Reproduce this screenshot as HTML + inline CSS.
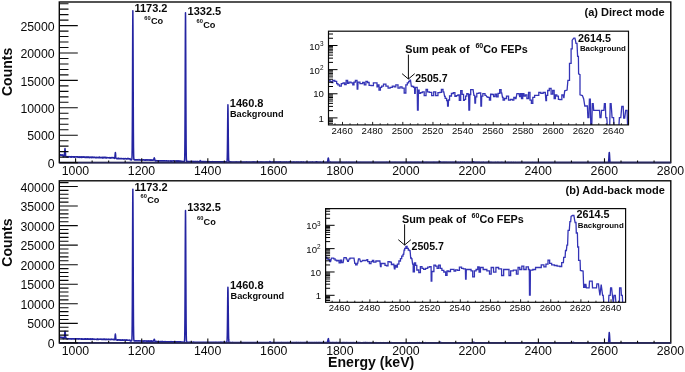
<!DOCTYPE html>
<html><head><meta charset="utf-8"><style>
html,body{margin:0;padding:0;background:#fff;}
body{width:685px;height:372px;overflow:hidden;}
svg{display:block;filter:blur(0.3px);}
text{font-family:"Liberation Sans", sans-serif;fill:#0a0a0a;}
</style></head><body>
<svg width="685" height="372" viewBox="0 0 685 372">
<rect width="685" height="372" fill="#fff"/>
<clipPath id="mclip0"><rect x="59.30" y="2.00" width="611.50" height="161.20"/></clipPath>
<path d="M59.34,154.75 L59.47,154.79 L59.60,154.92 L59.73,154.80 L59.87,154.57 L60.00,154.72 L60.13,154.62 L60.26,154.79 L60.39,154.78 L60.53,154.83 L60.66,155.19 L60.79,154.75 L60.92,154.83 L61.06,154.85 L61.19,155.27 L61.32,155.29 L61.45,155.16 L61.58,155.10 L61.72,154.97 L61.85,155.05 L61.98,154.97 L62.11,155.20 L62.25,155.04 L62.38,155.04 L62.51,155.25 L62.64,154.84 L62.77,155.07 L62.91,154.97 L63.04,155.31 L63.17,156.80 L63.30,156.74 L63.44,156.71 L63.57,156.59 L63.70,156.65 L63.83,156.74 L63.96,156.74 L64.10,156.48 L64.23,155.76 L64.36,155.34 L64.49,153.91 L64.63,152.24 L64.76,150.97 L64.89,149.28 L65.02,148.46 L65.02,148.78 L65.15,149.78 L65.29,150.71 L65.42,152.38 L65.55,154.14 L65.68,155.13 L65.82,156.02 L65.95,156.68 L66.08,156.50 L66.21,156.61 L66.34,156.60 L66.48,156.53 L66.61,156.71 L66.74,156.75 L66.87,156.98 L67.01,156.67 L67.14,156.88 L67.27,156.85 L67.40,156.99 L67.53,156.94 L67.67,156.87 L67.80,156.59 L67.93,157.12 L68.06,157.03 L68.20,156.76 L68.33,156.57 L68.46,156.71 L68.59,157.12 L68.72,157.22 L68.86,156.76 L68.99,156.94 L69.12,157.00 L69.25,156.67 L69.39,156.65 L69.52,156.81 L69.65,156.80 L69.78,156.77 L69.91,156.59 L70.05,156.75 L70.18,156.76 L70.31,156.76 L70.44,157.10 L70.58,156.65 L70.71,156.71 L70.84,156.78 L70.97,157.18 L71.10,156.97 L71.24,156.74 L71.37,157.16 L71.50,156.91 L71.63,156.72 L71.77,157.09 L71.90,156.63 L72.03,156.80 L72.16,156.92 L72.29,156.84 L72.43,156.80 L72.56,156.88 L72.69,156.72 L72.82,157.01 L72.96,156.98 L73.09,156.75 L73.22,156.91 L73.35,157.06 L73.48,156.77 L73.62,156.69 L73.75,157.00 L73.88,157.15 L74.01,156.96 L74.15,156.96 L74.28,156.99 L74.41,156.72 L74.54,157.11 L74.67,156.75 L74.81,157.16 L74.94,157.08 L75.07,156.86 L75.20,156.79 L75.34,156.83 L75.47,156.92 L75.60,156.95 L75.73,156.95 L75.86,156.89 L76.00,157.01 L76.13,156.94 L76.26,156.90 L76.39,156.99 L76.53,156.87 L76.66,156.91 L76.79,156.68 L76.92,156.95 L77.05,157.07 L77.19,157.07 L77.32,157.02 L77.45,156.87 L77.58,157.07 L77.72,156.96 L77.85,156.74 L77.98,157.43 L78.11,157.21 L78.24,157.00 L78.38,156.97 L78.51,157.00 L78.64,157.11 L78.77,156.94 L78.91,157.01 L79.04,157.13 L79.17,156.67 L79.30,157.00 L79.43,157.15 L79.57,157.08 L79.70,157.10 L79.83,157.08 L79.96,157.50 L80.10,157.15 L80.23,156.92 L80.36,157.27 L80.49,157.10 L80.62,156.94 L80.76,156.96 L80.89,156.86 L81.02,157.36 L81.15,157.16 L81.29,157.16 L81.42,157.01 L81.55,156.94 L81.68,157.53 L81.81,156.95 L81.95,157.35 L82.08,157.02 L82.21,157.36 L82.34,157.10 L82.48,156.95 L82.61,157.16 L82.74,157.11 L82.87,157.02 L83.00,157.12 L83.14,157.16 L83.27,156.91 L83.40,156.99 L83.53,157.20 L83.67,156.73 L83.80,157.34 L83.93,157.02 L84.06,157.21 L84.19,157.15 L84.33,157.07 L84.46,157.14 L84.59,157.08 L84.72,157.42 L84.86,157.42 L84.99,157.10 L85.12,157.34 L85.25,157.36 L85.38,157.43 L85.52,157.01 L85.65,157.09 L85.78,156.98 L85.91,157.36 L86.05,157.22 L86.18,157.39 L86.31,157.10 L86.44,156.98 L86.57,157.37 L86.71,156.99 L86.84,157.08 L86.97,157.26 L87.10,157.54 L87.24,157.03 L87.37,157.26 L87.50,157.34 L87.63,157.19 L87.76,157.19 L87.90,157.03 L88.03,157.42 L88.16,157.09 L88.29,157.04 L88.43,157.05 L88.56,157.30 L88.69,157.39 L88.82,157.12 L88.95,157.27 L89.09,157.27 L89.22,157.07 L89.35,157.33 L89.48,157.65 L89.62,157.36 L89.75,157.59 L89.88,157.18 L90.01,157.26 L90.14,157.40 L90.28,157.32 L90.41,157.19 L90.54,157.31 L90.67,157.12 L90.81,157.34 L90.94,157.17 L91.07,157.10 L91.20,157.09 L91.33,157.44 L91.47,157.21 L91.60,157.63 L91.73,157.51 L91.86,157.65 L92.00,157.19 L92.13,157.54 L92.26,157.36 L92.39,157.39 L92.52,157.37 L92.66,157.46 L92.79,157.34 L92.92,157.10 L93.05,157.37 L93.19,157.30 L93.32,157.23 L93.45,157.42 L93.58,157.58 L93.71,157.48 L93.85,157.23 L93.98,157.65 L94.11,157.49 L94.24,157.25 L94.38,157.29 L94.51,157.41 L94.64,157.29 L94.77,157.39 L94.90,157.60 L95.04,157.66 L95.17,157.52 L95.30,157.29 L95.43,157.52 L95.57,157.57 L95.70,157.56 L95.83,157.67 L95.96,157.46 L96.09,157.63 L96.23,157.40 L96.36,157.81 L96.49,157.41 L96.62,157.56 L96.76,157.76 L96.89,157.36 L97.02,157.51 L97.15,157.81 L97.28,157.61 L97.42,157.44 L97.55,157.55 L97.68,157.37 L97.81,157.38 L97.95,157.39 L98.08,157.45 L98.21,157.30 L98.34,157.40 L98.47,157.44 L98.61,157.82 L98.74,157.38 L98.87,157.32 L99.00,157.56 L99.14,157.59 L99.27,157.23 L99.40,157.79 L99.53,157.46 L99.66,157.17 L99.80,157.67 L99.93,157.43 L100.06,157.26 L100.19,157.56 L100.33,157.46 L100.46,157.41 L100.59,157.69 L100.72,157.57 L100.85,157.52 L100.99,157.44 L101.12,157.57 L101.25,157.60 L101.38,157.72 L101.52,157.63 L101.65,157.44 L101.78,157.57 L101.91,157.71 L102.04,157.71 L102.18,157.19 L102.31,157.42 L102.44,157.50 L102.57,157.99 L102.71,157.51 L102.84,157.53 L102.97,157.36 L103.10,157.55 L103.23,157.62 L103.37,157.54 L103.50,157.91 L103.63,157.47 L103.76,157.58 L103.90,157.73 L104.03,157.44 L104.16,157.37 L104.29,157.85 L104.42,157.74 L104.56,157.60 L104.69,157.62 L104.82,157.71 L104.95,157.80 L105.09,157.34 L105.22,157.51 L105.35,157.84 L105.48,157.87 L105.61,157.42 L105.75,157.53 L105.88,157.41 L106.01,157.56 L106.14,157.81 L106.28,157.65 L106.41,158.01 L106.54,157.80 L106.67,157.70 L106.80,157.62 L106.94,157.81 L107.07,157.72 L107.20,157.64 L107.33,157.65 L107.47,157.62 L107.60,157.69 L107.73,157.77 L107.86,157.61 L107.99,157.72 L108.13,157.85 L108.26,157.82 L108.39,157.73 L108.52,157.75 L108.66,157.72 L108.79,157.74 L108.92,157.72 L109.05,157.77 L109.18,157.94 L109.32,157.69 L109.45,157.60 L109.58,157.70 L109.71,157.79 L109.85,157.70 L109.98,157.91 L110.11,158.05 L110.24,157.77 L110.37,157.92 L110.51,157.68 L110.64,157.94 L110.77,158.17 L110.90,157.94 L111.04,157.57 L111.17,157.85 L111.30,158.00 L111.43,157.92 L111.56,157.73 L111.70,157.74 L111.83,157.79 L111.96,157.60 L112.09,157.72 L112.23,157.83 L112.36,157.74 L112.49,157.59 L112.62,157.69 L112.75,157.69 L112.89,158.00 L113.02,157.86 L113.15,157.74 L113.28,157.89 L113.42,157.70 L113.55,157.77 L113.68,157.73 L113.81,157.89 L113.94,157.49 L114.08,157.69 L114.21,157.90 L114.34,157.86 L114.47,157.48 L114.61,158.39 L114.74,157.97 L114.87,157.28 L115.00,156.17 L115.13,154.67 L115.27,152.95 L115.37,152.59 L115.40,152.56 L115.53,153.41 L115.66,155.21 L115.80,156.90 L115.93,157.73 L116.06,158.21 L116.19,158.40 L116.32,158.46 L116.46,158.51 L116.59,158.39 L116.72,158.63 L116.85,158.58 L116.99,158.49 L117.12,158.70 L117.25,158.56 L117.38,158.78 L117.51,158.60 L117.65,158.43 L117.78,158.44 L117.91,158.52 L118.04,158.55 L118.18,158.71 L118.31,158.28 L118.44,158.46 L118.57,158.39 L118.70,158.66 L118.84,158.57 L118.97,158.79 L119.10,158.44 L119.23,158.42 L119.37,158.81 L119.50,158.56 L119.63,158.48 L119.76,158.80 L119.89,158.81 L120.03,158.71 L120.16,158.66 L120.29,158.76 L120.42,158.58 L120.56,158.55 L120.69,158.50 L120.82,158.50 L120.95,158.39 L121.08,158.44 L121.22,158.77 L121.35,158.67 L121.48,158.75 L121.61,158.75 L121.75,158.62 L121.88,158.62 L122.01,158.55 L122.14,158.83 L122.27,158.79 L122.41,158.63 L122.54,158.66 L122.67,158.68 L122.80,158.65 L122.94,158.74 L123.07,158.55 L123.20,158.60 L123.33,158.66 L123.46,158.74 L123.60,158.68 L123.73,159.02 L123.86,158.80 L123.99,158.66 L124.13,158.87 L124.26,158.65 L124.39,158.66 L124.52,158.86 L124.65,158.72 L124.79,158.73 L124.92,158.63 L125.05,158.61 L125.18,158.70 L125.32,158.81 L125.45,158.72 L125.58,158.72 L125.71,158.61 L125.84,158.68 L125.98,158.81 L126.11,158.90 L126.24,158.77 L126.37,158.82 L126.51,158.88 L126.64,158.75 L126.77,158.80 L126.90,158.73 L127.03,158.68 L127.17,158.80 L127.30,158.45 L127.43,158.80 L127.56,158.61 L127.70,158.74 L127.83,158.62 L127.96,159.08 L128.09,158.87 L128.22,158.74 L128.36,158.70 L128.49,158.48 L128.62,158.74 L128.75,158.62 L128.89,158.69 L129.02,158.67 L129.15,158.73 L129.28,158.82 L129.41,158.74 L129.55,158.95 L129.68,158.66 L129.81,158.95 L129.94,158.78 L130.08,158.55 L130.21,159.78 L130.34,159.75 L130.47,159.63 L130.60,159.76 L130.74,159.85 L130.87,159.73 L131.00,159.70 L131.13,159.69 L131.27,159.86 L131.40,159.57 L131.53,159.58 L131.66,159.72 L131.79,159.48 L131.93,158.67 L132.06,155.31 L132.19,147.45 L132.32,129.07 L132.46,99.24 L132.59,60.62 L132.72,25.24 L132.85,11.89 L132.85,10.80 L132.98,25.81 L133.12,60.62 L133.25,98.57 L133.38,129.37 L133.51,147.20 L133.65,155.31 L133.78,158.49 L133.91,159.61 L134.04,159.51 L134.17,159.81 L134.31,159.73 L134.44,159.89 L134.57,159.83 L134.70,160.02 L134.84,159.63 L134.97,159.68 L135.10,159.97 L135.23,160.00 L135.36,160.02 L135.50,159.71 L135.63,159.89 L135.76,159.85 L135.89,159.88 L136.03,159.86 L136.16,159.97 L136.29,159.85 L136.42,160.01 L136.55,159.86 L136.69,159.82 L136.82,159.81 L136.95,159.89 L137.08,159.97 L137.22,159.85 L137.35,159.92 L137.48,159.70 L137.61,159.79 L137.74,159.89 L137.88,159.93 L138.01,159.96 L138.14,159.99 L138.27,159.92 L138.41,159.86 L138.54,159.83 L138.67,159.83 L138.80,159.66 L138.93,159.97 L139.07,159.90 L139.20,159.59 L139.33,160.11 L139.46,159.96 L139.60,159.89 L139.73,159.89 L139.86,159.87 L139.99,159.94 L140.12,159.88 L140.26,159.91 L140.39,159.84 L140.52,160.13 L140.65,160.02 L140.79,159.93 L140.92,160.04 L141.05,160.04 L141.18,159.87 L141.31,160.01 L141.45,159.87 L141.58,159.86 L141.71,159.91 L141.84,159.89 L141.98,159.96 L142.11,160.10 L142.24,159.95 L142.37,159.90 L142.50,160.01 L142.64,159.97 L142.77,159.88 L142.90,160.06 L143.03,159.89 L143.17,159.76 L143.30,160.03 L143.43,159.95 L143.56,159.99 L143.69,159.81 L143.83,159.94 L143.96,159.88 L144.09,160.06 L144.22,159.99 L144.36,159.99 L144.49,160.18 L144.62,159.84 L144.75,159.90 L144.88,160.18 L145.02,159.92 L145.15,160.01 L145.28,159.95 L145.41,159.96 L145.55,160.17 L145.68,160.03 L145.81,159.85 L145.94,160.07 L146.07,160.12 L146.21,160.16 L146.34,160.15 L146.47,159.99 L146.60,159.84 L146.74,159.98 L146.87,160.00 L147.00,159.79 L147.13,160.09 L147.26,160.11 L147.40,159.98 L147.53,159.98 L147.66,160.15 L147.79,160.17 L147.93,160.01 L148.06,160.02 L148.19,160.19 L148.32,160.07 L148.45,160.11 L148.59,160.01 L148.72,160.07 L148.85,160.07 L148.98,160.10 L149.12,159.95 L149.25,159.92 L149.38,160.11 L149.51,159.98 L149.64,160.15 L149.78,160.07 L149.91,160.00 L150.04,159.92 L150.17,160.12 L150.31,160.09 L150.44,160.07 L150.57,160.25 L150.70,160.09 L150.83,160.16 L150.97,160.06 L151.10,160.22 L151.23,160.31 L151.36,160.10 L151.50,160.08 L151.63,160.16 L151.76,160.02 L151.89,160.14 L152.02,160.18 L152.16,160.07 L152.29,160.28 L152.42,160.19 L152.55,160.12 L152.69,160.04 L152.82,160.14 L152.95,160.10 L153.08,160.20 L153.21,160.09 L153.35,159.91 L153.48,160.08 L153.61,159.57 L153.74,159.58 L153.88,159.02 L154.01,158.45 L154.14,157.88 L154.27,157.85 L154.27,158.03 L154.40,158.33 L154.54,158.40 L154.67,158.94 L154.80,159.45 L154.93,160.22 L155.07,160.65 L155.20,160.73 L155.33,160.70 L155.46,160.76 L155.59,160.65 L155.73,160.91 L155.86,160.84 L155.99,161.11 L156.12,160.73 L156.26,160.84 L156.39,160.73 L156.52,160.62 L156.65,160.81 L156.78,160.84 L156.92,160.86 L157.05,160.89 L157.18,160.88 L157.31,160.77 L157.45,160.82 L157.58,160.82 L157.71,160.84 L157.84,160.75 L157.97,160.79 L158.11,160.85 L158.24,160.78 L158.37,160.85 L158.50,160.94 L158.64,160.71 L158.77,160.80 L158.90,160.93 L159.03,160.75 L159.16,160.82 L159.30,160.99 L159.43,160.71 L159.56,160.82 L159.69,160.78 L159.83,160.84 L159.96,160.87 L160.09,161.00 L160.22,160.78 L160.35,160.86 L160.49,160.89 L160.62,160.84 L160.75,160.86 L160.88,160.81 L161.02,160.90 L161.15,160.88 L161.28,161.06 L161.41,160.91 L161.54,160.82 L161.68,160.76 L161.81,160.91 L161.94,160.90 L162.07,160.75 L162.21,160.92 L162.34,160.83 L162.47,160.75 L162.60,160.89 L162.73,160.79 L162.87,160.96 L163.00,160.88 L163.13,160.91 L163.26,160.89 L163.40,160.81 L163.53,160.70 L163.66,160.97 L163.79,160.96 L163.92,160.87 L164.06,161.00 L164.19,160.87 L164.32,160.87 L164.45,160.94 L164.59,160.87 L164.72,161.06 L164.85,160.86 L164.98,161.06 L165.11,160.99 L165.25,160.98 L165.38,160.96 L165.51,160.86 L165.64,160.93 L165.78,160.97 L165.91,160.89 L166.04,160.80 L166.17,160.94 L166.30,160.91 L166.44,160.84 L166.57,160.92 L166.70,161.06 L166.83,160.74 L166.97,160.76 L167.10,161.12 L167.23,160.96 L167.36,160.92 L167.49,160.88 L167.63,160.90 L167.76,160.98 L167.89,161.05 L168.02,160.96 L168.16,160.88 L168.29,161.06 L168.42,161.06 L168.55,160.97 L168.68,161.14 L168.82,161.00 L168.95,161.01 L169.08,160.94 L169.21,161.04 L169.35,161.06 L169.48,161.02 L169.61,160.99 L169.74,161.04 L169.87,160.99 L170.01,160.93 L170.14,160.89 L170.27,160.85 L170.40,161.06 L170.54,161.03 L170.67,161.21 L170.80,160.84 L170.93,161.06 L171.06,161.01 L171.20,160.96 L171.33,161.12 L171.46,160.97 L171.59,161.01 L171.73,161.17 L171.86,160.99 L171.99,160.92 L172.12,161.18 L172.25,160.95 L172.39,161.01 L172.52,160.99 L172.65,160.99 L172.78,160.92 L172.92,161.05 L173.05,160.96 L173.18,161.07 L173.31,160.97 L173.44,161.10 L173.58,161.05 L173.71,160.90 L173.84,161.01 L173.97,161.06 L174.11,161.14 L174.24,161.11 L174.37,161.03 L174.50,160.97 L174.63,161.02 L174.77,161.01 L174.90,161.06 L175.03,160.95 L175.16,161.09 L175.30,161.11 L175.43,160.99 L175.56,161.06 L175.69,161.09 L175.82,161.12 L175.96,161.09 L176.09,161.02 L176.22,161.04 L176.35,161.18 L176.49,161.04 L176.62,161.06 L176.75,161.16 L176.88,161.02 L177.01,161.11 L177.15,161.11 L177.28,161.02 L177.41,160.98 L177.54,161.15 L177.68,161.06 L177.81,161.17 L177.94,160.91 L178.07,161.14 L178.20,161.00 L178.34,161.15 L178.47,161.04 L178.60,160.92 L178.73,161.31 L178.87,161.14 L179.00,161.07 L179.13,161.12 L179.26,161.17 L179.39,160.94 L179.53,161.11 L179.66,161.25 L179.79,161.05 L179.92,161.26 L180.06,161.03 L180.19,161.17 L180.32,161.12 L180.45,161.03 L180.58,161.12 L180.72,161.25 L180.85,161.27 L180.98,161.04 L181.11,161.08 L181.25,161.21 L181.38,161.44 L181.51,161.47 L181.64,161.46 L181.77,161.66 L181.91,161.53 L182.04,161.45 L182.17,161.46 L182.30,161.45 L182.44,161.68 L182.57,161.50 L182.70,161.48 L182.83,161.34 L182.96,161.58 L183.10,161.54 L183.23,161.52 L183.36,161.46 L183.49,161.55 L183.63,161.44 L183.76,161.58 L183.89,161.51 L184.02,161.56 L184.15,161.51 L184.29,161.54 L184.42,161.47 L184.55,160.60 L184.68,158.35 L184.82,151.88 L184.95,136.47 L185.08,108.63 L185.21,71.92 L185.34,34.11 L185.48,13.23 L185.51,12.76 L185.61,20.38 L185.74,51.83 L185.87,92.23 L186.01,123.93 L186.14,145.43 L186.27,155.86 L186.40,159.92 L186.53,161.13 L186.67,161.50 L186.80,161.61 L186.93,161.60 L187.06,161.59 L187.20,161.59 L187.33,161.63 L187.46,161.51 L187.59,161.64 L187.72,161.51 L187.86,161.63 L187.99,161.53 L188.12,161.47 L188.25,161.55 L188.39,161.61 L188.52,161.56 L188.65,161.55 L188.78,161.68 L188.91,161.61 L189.05,161.56 L189.18,161.60 L189.31,161.56 L189.44,161.52 L189.58,161.52 L189.71,161.51 L189.84,161.53 L189.97,161.59 L190.10,161.58 L190.24,161.60 L190.37,161.60 L190.50,161.59 L190.63,161.70 L190.77,161.60 L190.90,161.58 L191.03,161.65 L191.16,161.59 L191.29,161.55 L191.43,161.60 L191.56,161.45 L191.69,161.76 L191.82,161.60 L191.96,161.71 L192.09,161.53 L192.22,161.42 L192.35,161.76 L192.48,161.59 L192.62,161.56 L192.75,161.62 L192.88,161.56 L193.01,161.75 L193.15,161.54 L193.28,161.58 L193.41,161.60 L193.54,161.64 L193.67,161.56 L193.81,161.64 L193.94,161.59 L194.07,161.64 L194.20,161.76 L194.34,161.61 L194.47,161.60 L194.60,161.56 L194.73,161.67 L194.86,161.62 L195.00,161.58 L195.13,161.61 L195.26,161.54 L195.39,161.49 L195.53,161.68 L195.66,161.75 L195.79,161.57 L195.92,161.52 L196.05,161.57 L196.19,161.57 L196.32,161.67 L196.45,161.68 L196.58,161.57 L196.72,161.69 L196.85,161.75 L196.98,161.70 L197.11,161.47 L197.24,161.51 L197.38,161.68 L197.51,161.69 L197.64,161.62 L197.77,161.69 L197.91,161.56 L198.04,161.65 L198.17,161.71 L198.30,161.56 L198.43,161.68 L198.57,161.63 L198.70,161.65 L198.83,161.67 L198.96,161.63 L199.10,161.69 L199.23,161.76 L199.36,161.76 L199.49,161.64 L199.62,161.49 L199.76,161.25 L199.89,160.99 L200.02,160.69 L200.15,160.57 L200.22,160.56 L200.29,160.66 L200.42,160.81 L200.55,161.18 L200.68,161.27 L200.81,161.41 L200.95,161.53 L201.08,161.64 L201.21,161.67 L201.34,161.61 L201.48,161.67 L201.61,161.62 L201.74,161.64 L201.87,161.66 L202.00,161.59 L202.14,161.71 L202.27,161.70 L202.40,161.73 L202.53,161.73 L202.67,161.58 L202.80,161.57 L202.93,161.68 L203.06,161.65 L203.19,161.61 L203.33,161.63 L203.46,161.61 L203.59,161.77 L203.72,161.73 L203.86,161.66 L203.99,161.60 L204.12,161.69 L204.25,161.75 L204.38,161.72 L204.52,161.74 L204.65,161.75 L204.78,161.60 L204.91,161.74 L205.05,161.70 L205.18,161.56 L205.31,161.63 L205.44,161.68 L205.57,161.74 L205.71,161.68 L205.84,161.60 L205.97,161.67 L206.10,161.63 L206.24,161.70 L206.37,161.68 L206.50,161.72 L206.63,161.69 L206.76,161.63 L206.90,161.81 L207.03,161.72 L207.16,161.70 L207.29,161.75 L207.43,161.74 L207.56,161.67 L207.69,161.60 L207.82,161.68 L207.95,161.70 L208.09,161.82 L208.22,161.61 L208.35,161.72 L208.48,161.73 L208.62,161.80 L208.75,161.73 L208.88,161.80 L209.01,161.73 L209.14,161.71 L209.28,161.73 L209.41,161.72 L209.54,161.79 L209.67,161.65 L209.81,161.78 L209.94,161.85 L210.07,161.75 L210.20,161.79 L210.33,161.81 L210.47,161.77 L210.60,161.73 L210.73,161.82 L210.86,161.76 L211.00,161.66 L211.13,161.71 L211.26,161.76 L211.39,161.74 L211.52,161.76 L211.66,161.76 L211.79,161.71 L211.92,161.76 L212.05,161.91 L212.19,161.76 L212.32,161.81 L212.45,161.72 L212.58,161.80 L212.71,161.75 L212.85,161.63 L212.98,161.83 L213.11,161.84 L213.24,161.85 L213.38,161.91 L213.51,161.88 L213.64,161.75 L213.77,161.81 L213.90,161.89 L214.04,161.86 L214.17,161.74 L214.30,161.82 L214.43,161.80 L214.57,161.76 L214.70,161.70 L214.83,161.66 L214.96,161.72 L215.09,161.77 L215.23,161.77 L215.36,161.68 L215.49,161.70 L215.62,161.81 L215.76,161.76 L215.89,161.77 L216.02,161.79 L216.15,161.82 L216.28,161.87 L216.42,161.83 L216.55,161.89 L216.68,161.72 L216.81,161.77 L216.95,161.87 L217.08,161.72 L217.21,161.75 L217.34,161.92 L217.47,161.69 L217.61,161.76 L217.74,161.68 L217.87,161.88 L218.00,161.78 L218.14,161.78 L218.27,161.80 L218.40,161.80 L218.53,161.75 L218.66,161.90 L218.80,161.89 L218.93,161.90 L219.06,161.85 L219.19,161.85 L219.33,161.80 L219.46,161.80 L219.59,161.82 L219.72,161.86 L219.85,161.85 L219.99,161.77 L220.12,161.78 L220.25,161.82 L220.38,161.85 L220.52,161.74 L220.65,161.86 L220.78,161.79 L220.91,161.76 L221.04,161.85 L221.18,161.79 L221.31,161.90 L221.44,161.78 L221.57,161.83 L221.71,161.93 L221.84,161.80 L221.97,161.89 L222.10,161.77 L222.23,161.88 L222.37,161.85 L222.50,161.83 L222.63,161.87 L222.76,161.83 L222.90,161.88 L223.03,161.81 L223.16,161.85 L223.29,161.84 L223.42,162.01 L223.56,161.79 L223.69,161.85 L223.82,161.96 L223.95,161.85 L224.09,161.83 L224.22,161.80 L224.35,161.92 L224.48,161.77 L224.61,161.87 L224.75,161.73 L224.88,161.87 L225.01,161.83 L225.14,161.89 L225.28,161.93 L225.41,161.81 L225.54,161.82 L225.67,161.78 L225.80,161.82 L225.94,161.91 L226.07,161.97 L226.20,161.91 L226.33,161.91 L226.47,161.92 L226.60,161.84 L226.73,161.84 L226.86,161.80 L226.99,161.42 L227.13,160.29 L227.26,157.08 L227.39,150.10 L227.52,138.39 L227.66,124.19 L227.79,111.53 L227.92,105.50 L227.92,104.78 L228.05,110.75 L228.18,123.45 L228.32,139.25 L228.45,150.36 L228.58,157.12 L228.71,160.43 L228.85,161.49 L228.98,161.75 L229.11,161.82 L229.24,161.81 L229.37,161.95 L229.51,161.98 L229.64,161.88 L229.77,161.85 L229.90,161.90 L230.04,161.98 L230.17,161.87 L230.30,161.87 L230.43,161.88 L230.56,161.94 L230.70,161.90 L230.83,161.87 L230.96,162.03 L231.09,162.09 L231.23,161.98 L231.36,161.97 L231.49,162.00 L231.62,161.95 L231.75,162.03 L231.89,162.00 L232.02,162.02 L232.15,161.97 L232.28,161.92 L232.42,162.01 L232.55,161.89 L232.68,161.92 L232.81,161.96 L232.94,161.97 L233.08,161.91 L233.21,162.01 L233.34,162.01 L233.47,162.06 L233.61,161.98 L233.74,161.93 L233.87,161.98 L234.00,161.98 L234.13,162.01 L234.27,162.00 L234.40,162.08 L234.53,161.95 L234.66,162.03 L234.80,162.06 L234.93,162.04 L235.06,162.05 L235.19,161.96 L235.32,161.95 L235.46,162.08 L235.59,161.96 L235.72,161.96 L235.85,162.04 L235.99,162.08 L236.12,162.05 L236.25,162.04 L236.38,161.99 L236.51,162.03 L236.65,162.11 L236.78,162.00 L236.91,162.09 L237.04,161.96 L237.18,162.07 L237.31,162.05 L237.44,162.05 L237.57,162.04 L237.70,161.94 L237.84,161.97 L237.97,161.98 L238.10,162.00 L238.23,162.09 L238.37,162.04 L238.50,162.04 L238.63,162.06 L238.76,161.99 L238.89,162.05 L239.03,162.05 L239.16,162.07 L239.29,162.12 L239.42,161.98 L239.56,161.95 L239.69,162.01 L239.82,162.06 L239.95,162.15 L240.08,162.01 L240.22,161.95 L240.35,162.00 L240.48,161.97 L240.61,161.94 L240.75,161.96 L240.88,162.04 L241.01,161.96 L241.14,161.98 L241.27,162.10 L241.41,162.04 L241.54,162.09 L241.67,162.02 L241.80,161.99 L241.94,162.07 L242.07,162.12 L242.20,161.95 L242.33,162.00 L242.46,161.95 L242.60,162.09 L242.73,161.97 L242.86,161.92 L242.99,161.92 L243.13,162.03 L243.26,162.01 L243.39,162.03 L243.52,161.97 L243.65,161.97 L243.79,162.02 L243.92,162.09 L244.05,161.99 L244.18,162.05 L244.32,161.99 L244.45,162.01 L244.58,161.94 L244.71,161.97 L244.84,162.05 L244.98,162.01 L245.11,161.94 L245.24,162.05 L245.37,162.00 L245.51,161.97 L245.64,161.96 L245.77,162.00 L245.90,162.09 L246.03,162.09 L246.17,162.01 L246.30,162.01 L246.43,161.90 L246.56,162.07 L246.70,161.97 L246.83,161.99 L246.96,162.11 L247.09,162.07 L247.22,162.02 L247.36,162.05 L247.49,162.04 L247.62,162.01 L247.75,162.07 L247.89,162.01 L248.02,162.06 L248.15,162.06 L248.28,162.00 L248.41,162.06 L248.55,162.02 L248.68,161.95 L248.81,162.03 L248.94,162.04 L249.08,162.00 L249.21,162.05 L249.34,161.98 L249.47,162.10 L249.60,162.00 L249.74,162.06 L249.87,162.07 L250.00,161.95 L250.13,162.08 L250.27,161.95 L250.40,162.00 L250.53,161.96 L250.66,162.09 L250.79,161.98 L250.93,161.96 L251.06,162.04 L251.19,162.04 L251.32,161.92 L251.46,162.03 L251.59,162.06 L251.72,162.07 L251.85,162.02 L251.98,162.02 L252.12,162.03 L252.25,161.95 L252.38,162.06 L252.51,162.02 L252.65,161.97 L252.78,162.09 L252.91,161.99 L253.04,161.95 L253.17,162.11 L253.31,162.10 L253.44,162.09 L253.57,162.13 L253.70,162.02 L253.84,162.14 L253.97,162.02 L254.10,161.97 L254.23,162.12 L254.36,162.06 L254.50,162.14 L254.63,162.01 L254.76,162.08 L254.89,162.06 L255.03,162.04 L255.16,162.02 L255.29,162.06 L255.42,162.05 L255.55,162.07 L255.69,162.04 L255.82,162.10 L255.95,162.04 L256.08,162.14 L256.22,162.07 L256.35,161.95 L256.48,162.04 L256.61,162.11 L256.74,162.04 L256.88,162.10 L257.01,162.13 L257.14,162.09 L257.27,162.01 L257.41,162.03 L257.54,162.05 L257.67,162.10 L257.80,162.10 L257.93,161.98 L258.07,162.04 L258.20,162.10 L258.33,162.16 L258.46,162.12 L258.60,161.93 L258.73,162.11 L258.86,162.06 L258.99,162.04 L259.12,162.06 L259.26,162.07 L259.39,162.12 L259.52,162.11 L259.65,161.97 L259.79,162.09 L259.92,162.01 L260.05,162.14 L260.18,162.07 L260.31,162.04 L260.45,162.00 L260.58,162.11 L260.71,162.03 L260.84,162.04 L260.98,162.09 L261.11,162.03 L261.24,162.10 L261.37,162.10 L261.50,162.06 L261.64,162.19 L261.77,162.06 L261.90,162.11 L262.03,162.13 L262.17,162.08 L262.30,162.02 L262.43,162.08 L262.56,162.00 L262.69,162.12 L262.83,162.12 L262.96,161.98 L263.09,162.04 L263.22,162.02 L263.36,162.10 L263.49,162.02 L263.62,162.05 L263.75,162.03 L263.88,162.06 L264.02,162.00 L264.15,162.09 L264.28,162.11 L264.41,162.14 L264.55,162.01 L264.68,162.10 L264.81,162.12 L264.94,162.11 L265.07,162.09 L265.21,162.13 L265.34,162.08 L265.47,162.10 L265.60,162.09 L265.74,162.11 L265.87,162.06 L266.00,162.09 L266.13,162.06 L266.26,162.06 L266.40,162.05 L266.53,162.17 L266.66,162.09 L266.79,162.11 L266.93,162.03 L267.06,162.15 L267.19,162.10 L267.32,162.08 L267.45,162.09 L267.59,162.02 L267.72,162.09 L267.85,162.02 L267.98,162.14 L268.12,162.16 L268.25,162.01 L268.38,162.04 L268.51,162.03 L268.64,162.04 L268.78,162.00 L268.91,162.05 L269.04,161.88 L269.17,161.89 L269.31,161.71 L269.44,161.67 L269.57,161.71 L269.70,161.58 L269.83,161.36 L269.97,161.42 L269.97,161.43 L270.10,161.47 L270.23,161.48 L270.36,161.61 L270.50,161.71 L270.63,161.77 L270.76,161.85 L270.89,161.85 L271.02,161.99 L271.16,161.93 L271.29,161.96 L271.42,161.98 L271.55,162.02 L271.69,162.07 L271.82,162.07 L271.95,162.09 L272.08,162.11 L272.21,162.08 L272.35,162.11 L272.48,162.00 L272.61,162.05 L272.74,162.10 L272.88,162.17 L273.01,162.08 L273.14,162.10 L273.27,162.13 L273.40,162.14 L273.54,162.19 L273.67,162.05 L273.80,162.09 L273.93,161.96 L274.07,162.08 L274.20,162.09 L274.33,162.01 L274.46,162.08 L274.59,162.08 L274.73,162.10 L274.86,162.11 L274.99,162.01 L275.12,162.04 L275.26,162.00 L275.39,162.10 L275.52,162.08 L275.65,162.13 L275.78,162.04 L275.92,162.15 L276.05,162.06 L276.18,162.03 L276.31,162.02 L276.45,162.13 L276.58,162.04 L276.71,162.12 L276.84,162.12 L276.97,162.15 L277.11,162.03 L277.24,162.01 L277.37,162.12 L277.50,162.13 L277.64,162.11 L277.77,161.97 L277.90,162.04 L278.03,162.12 L278.16,162.18 L278.30,162.12 L278.43,162.04 L278.56,162.00 L278.69,162.10 L278.83,162.13 L278.96,162.12 L279.09,162.18 L279.22,162.05 L279.35,162.14 L279.49,162.04 L279.62,162.17 L279.75,162.15 L279.88,162.08 L280.02,162.13 L280.15,162.06 L280.28,162.09 L280.41,162.15 L280.54,162.07 L280.68,162.06 L280.81,162.19 L280.94,162.01 L281.07,162.07 L281.21,162.06 L281.34,162.19 L281.47,162.13 L281.60,162.11 L281.73,162.05 L281.87,162.17 L282.00,162.14 L282.13,162.19 L282.26,162.11 L282.40,162.08 L282.53,162.18 L282.66,162.13 L282.79,162.08 L282.92,162.03 L283.06,162.07 L283.19,162.12 L283.32,162.16 L283.45,162.15 L283.59,162.13 L283.72,162.10 L283.85,162.10 L283.98,162.02 L284.11,162.09 L284.25,162.15 L284.38,162.03 L284.51,162.06 L284.64,162.10 L284.78,162.14 L284.91,162.19 L285.04,162.15 L285.17,162.06 L285.30,162.14 L285.44,162.17 L285.57,162.10 L285.70,162.09 L285.83,162.08 L285.97,162.08 L286.10,162.04 L286.23,162.15 L286.36,162.06 L286.49,162.15 L286.63,162.08 L286.76,162.10 L286.89,162.10 L287.02,162.06 L287.16,162.11 L287.29,162.06 L287.42,162.07 L287.55,162.10 L287.68,162.14 L287.82,162.15 L287.95,162.14 L288.08,162.12 L288.21,162.11 L288.35,161.97 L288.48,162.08 L288.61,162.08 L288.74,162.15 L288.87,162.15 L289.01,162.13 L289.14,162.10 L289.27,162.16 L289.40,162.04 L289.54,162.14 L289.67,162.06 L289.80,162.22 L289.93,162.11 L290.06,162.10 L290.20,162.11 L290.33,162.09 L290.46,162.10 L290.59,162.11 L290.73,162.20 L290.86,162.15 L290.99,162.23 L291.12,162.09 L291.25,162.10 L291.39,162.13 L291.52,162.16 L291.65,162.14 L291.78,162.03 L291.92,162.04 L292.05,162.12 L292.18,162.06 L292.31,162.19 L292.44,162.21 L292.58,162.14 L292.71,162.16 L292.84,162.15 L292.97,162.11 L293.11,161.98 L293.24,162.15 L293.37,162.12 L293.50,162.11 L293.63,162.12 L293.77,162.08 L293.90,162.04 L294.03,162.18 L294.16,162.12 L294.30,162.14 L294.43,162.11 L294.56,162.19 L294.69,162.20 L294.82,162.23 L294.96,162.10 L295.09,162.12 L295.22,162.12 L295.35,162.23 L295.49,162.14 L295.62,162.16 L295.75,162.19 L295.88,162.17 L296.01,162.09 L296.15,162.10 L296.28,162.13 L296.41,162.10 L296.54,162.16 L296.68,162.12 L296.81,162.13 L296.94,162.10 L297.07,162.13 L297.20,162.14 L297.34,162.14 L297.47,162.16 L297.60,162.03 L297.73,162.11 L297.87,162.11 L298.00,162.03 L298.13,162.07 L298.26,162.20 L298.39,162.10 L298.53,162.09 L298.66,162.05 L298.79,162.07 L298.92,162.10 L299.06,162.19 L299.19,162.17 L299.32,162.12 L299.45,162.11 L299.58,162.18 L299.72,162.15 L299.85,162.15 L299.98,162.13 L300.11,162.12 L300.25,162.15 L300.38,162.19 L300.51,162.08 L300.64,162.06 L300.77,162.14 L300.91,162.09 L301.04,162.12 L301.17,162.11 L301.30,162.12 L301.44,162.17 L301.57,162.11 L301.70,162.09 L301.83,162.18 L301.96,162.05 L302.10,162.04 L302.23,162.06 L302.36,162.05 L302.49,162.11 L302.63,162.16 L302.76,162.17 L302.89,162.18 L303.02,162.14 L303.15,162.14 L303.29,162.11 L303.42,162.23 L303.55,162.04 L303.68,162.04 L303.82,162.14 L303.95,162.11 L304.08,162.12 L304.21,162.13 L304.34,162.15 L304.48,162.15 L304.61,162.18 L304.74,162.14 L304.87,162.15 L305.01,162.13 L305.14,162.18 L305.27,162.14 L305.40,162.14 L305.53,162.12 L305.67,162.19 L305.80,162.13 L305.93,162.10 L306.06,162.12 L306.20,162.16 L306.33,162.17 L306.46,162.16 L306.59,162.11 L306.72,162.08 L306.86,162.16 L306.99,162.18 L307.12,162.13 L307.25,162.14 L307.39,162.19 L307.52,162.18 L307.65,162.15 L307.78,162.12 L307.91,162.20 L308.05,162.20 L308.18,162.13 L308.31,162.21 L308.44,162.15 L308.58,162.14 L308.71,162.16 L308.84,162.20 L308.97,162.16 L309.10,162.17 L309.24,162.14 L309.37,162.19 L309.50,162.10 L309.63,162.23 L309.77,162.16 L309.90,162.15 L310.03,162.11 L310.16,162.18 L310.29,162.13 L310.43,162.18 L310.56,162.12 L310.69,162.08 L310.82,162.17 L310.96,162.14 L311.09,162.20 L311.22,162.11 L311.35,162.10 L311.48,162.16 L311.62,162.21 L311.75,162.14 L311.88,162.11 L312.01,162.11 L312.15,162.12 L312.28,162.24 L312.41,162.19 L312.54,162.10 L312.67,162.21 L312.81,162.11 L312.94,162.08 L313.07,162.13 L313.20,162.11 L313.34,162.18 L313.47,162.22 L313.60,162.17 L313.73,162.17 L313.86,162.16 L314.00,162.13 L314.13,162.17 L314.26,162.15 L314.39,162.14 L314.53,162.16 L314.66,162.08 L314.79,162.14 L314.92,162.15 L315.05,162.15 L315.19,162.16 L315.32,162.05 L315.45,162.08 L315.58,162.11 L315.72,162.05 L315.85,161.99 L315.98,161.97 L316.11,161.85 L316.24,161.94 L316.38,161.82 L316.51,161.83 L316.57,161.84 L316.64,161.91 L316.77,161.85 L316.91,161.88 L317.04,161.88 L317.17,161.97 L317.30,161.97 L317.43,162.11 L317.57,162.12 L317.70,162.05 L317.83,162.07 L317.96,162.13 L318.10,162.17 L318.23,162.11 L318.36,162.25 L318.49,162.20 L318.62,162.14 L318.76,162.14 L318.89,162.22 L319.02,162.25 L319.15,162.11 L319.29,162.17 L319.42,162.21 L319.55,162.17 L319.68,162.13 L319.81,162.29 L319.95,162.13 L320.08,162.14 L320.21,162.27 L320.34,162.14 L320.48,162.25 L320.61,162.13 L320.74,162.16 L320.87,162.08 L321.00,162.20 L321.14,162.18 L321.27,162.13 L321.40,162.20 L321.53,162.21 L321.67,162.19 L321.80,162.18 L321.93,162.22 L322.06,162.16 L322.19,162.16 L322.33,162.18 L322.46,162.11 L322.59,162.19 L322.72,162.12 L322.86,162.20 L322.99,162.15 L323.12,162.26 L323.25,162.17 L323.38,162.19 L323.52,162.20 L323.65,162.21 L323.78,162.20 L323.91,162.21 L324.05,162.28 L324.18,162.21 L324.31,162.21 L324.44,162.21 L324.57,162.23 L324.71,162.19 L324.84,162.15 L324.97,162.19 L325.10,162.21 L325.24,162.13 L325.37,162.14 L325.50,162.15 L325.63,162.14 L325.76,162.20 L325.90,162.19 L326.03,162.14 L326.16,162.21 L326.29,162.19 L326.43,162.17 L326.56,162.17 L326.69,162.20 L326.82,162.14 L326.95,162.18 L327.09,162.12 L327.22,162.04 L327.35,161.93 L327.48,161.67 L327.62,161.39 L327.75,160.80 L327.88,159.97 L328.01,159.03 L328.14,158.22 L328.28,158.27 L328.31,158.08 L328.41,158.16 L328.54,158.84 L328.67,159.58 L328.81,160.34 L328.94,160.96 L329.07,161.52 L329.20,161.80 L329.33,162.10 L329.47,162.09 L329.60,162.13 L329.73,162.18 L329.86,162.17 L330.00,162.22 L330.13,162.24 L330.26,162.21 L330.39,162.22 L330.52,162.07 L330.66,162.22 L330.79,162.13 L330.92,162.19 L331.05,162.18 L331.19,162.17 L331.32,162.23 L331.45,162.16 L331.58,162.18 L331.71,162.26 L331.85,162.17 L331.98,162.17 L332.11,162.18 L332.24,162.13 L332.38,162.22 L332.51,162.18 L332.64,162.17 L332.77,162.24 L332.90,162.15 L333.04,162.26 L333.17,162.26 L333.30,162.18 L333.43,162.25 L333.57,162.21 L333.70,162.27 L333.83,162.20 L333.96,162.25 L334.09,162.19 L334.23,162.27 L334.36,162.18 L334.49,162.21 L334.62,162.20 L334.76,162.21 L334.89,162.20 L335.02,162.26 L335.15,162.31 L335.28,162.20 L335.42,162.24 L335.55,162.22 L335.68,162.19 L335.81,162.29 L335.95,162.24 L336.08,162.23 L336.21,162.25 L336.34,162.19 L336.47,162.21 L336.61,162.24 L336.74,162.25 L336.87,162.17 L337.00,162.24 L337.14,162.18 L337.27,162.19 L337.40,162.29 L337.53,162.25 L337.66,162.21 L337.80,162.20 L337.93,162.18 L338.06,162.18 L338.19,162.17 L338.33,162.23 L338.46,162.22 L338.59,162.18 L338.72,162.23 L338.85,162.17 L338.99,162.28 L339.12,162.19 L339.25,162.22 L339.38,162.29 L339.52,162.17 L339.65,162.20 L339.78,162.21 L339.91,162.26 L340.04,162.24 L340.18,162.15 L340.31,162.25 L340.44,162.36 L340.57,162.25 L340.71,162.27 L340.84,162.22 L340.97,162.23 L341.10,162.26 L341.23,162.25 L341.37,162.17 L341.50,162.28 L341.63,162.14 L341.76,162.24 L341.90,162.26 L342.03,162.19 L342.16,162.20 L342.29,162.26 L342.42,162.19 L342.56,162.29 L342.69,162.26 L342.82,162.17 L342.95,162.23 L343.09,162.27 L343.22,162.20 L343.35,162.18 L343.48,162.22 L343.61,162.29 L343.75,162.23 L343.88,162.20 L344.01,162.19 L344.14,162.15 L344.28,162.23 L344.41,162.24 L344.54,162.22 L344.67,162.17 L344.80,162.26 L344.94,162.17 L345.07,162.33 L345.20,162.19 L345.33,162.25 L345.47,162.20 L345.60,162.19 L345.73,162.27 L345.86,162.23 L345.99,162.21 L346.13,162.20 L346.26,162.26 L346.39,162.26 L346.52,162.30 L346.66,162.12 L346.79,162.23 L346.92,162.23 L347.05,162.29 L347.18,162.19 L347.32,162.25 L347.45,162.17 L347.58,162.19 L347.71,162.22 L347.85,162.20 L347.98,162.27 L348.11,162.24 L348.24,162.25 L348.37,162.28 L348.51,162.23 L348.64,162.23 L348.77,162.17 L348.90,162.36 L349.04,162.25 L349.17,162.26 L349.30,162.25 L349.43,162.21 L349.56,162.21 L349.70,162.23 L349.83,162.25 L349.96,162.21 L350.09,162.21 L350.23,162.30 L350.36,162.24 L350.49,162.28 L350.62,162.28 L350.75,162.22 L350.89,162.23 L351.02,162.22 L351.15,162.26 L351.28,162.24 L351.42,162.27 L351.55,162.21 L351.68,162.20 L351.81,162.16 L351.94,162.18 L352.08,162.26 L352.21,162.25 L352.34,162.27 L352.47,162.22 L352.61,162.15 L352.74,162.20 L352.87,162.32 L353.00,162.28 L353.13,162.28 L353.27,162.21 L353.40,162.23 L353.53,162.22 L353.66,162.16 L353.80,162.27 L353.93,162.27 L354.06,162.15 L354.19,162.22 L354.32,162.26 L354.46,162.31 L354.59,162.29 L354.72,162.33 L354.85,162.23 L354.99,162.23 L355.12,162.19 L355.25,162.24 L355.38,162.26 L355.51,162.26 L355.65,162.16 L355.78,162.31 L355.91,162.23 L356.04,162.23 L356.18,162.21 L356.31,162.25 L356.44,162.22 L356.57,162.20 L356.70,162.24 L356.84,162.25 L356.97,162.24 L357.10,162.27 L357.23,162.24 L357.37,162.25 L357.50,162.23 L357.63,162.18 L357.76,162.18 L357.89,162.25 L358.03,162.21 L358.16,162.23 L358.29,162.21 L358.42,162.24 L358.56,162.23 L358.69,162.26 L358.82,162.27 L358.95,162.20 L359.08,162.19 L359.22,162.21 L359.35,162.22 L359.48,162.23 L359.61,162.26 L359.75,162.31 L359.88,162.21 L360.01,162.23 L360.14,162.26 L360.27,162.28 L360.41,162.19 L360.54,162.31 L360.67,162.17 L360.80,162.21 L360.94,162.15 L361.07,162.27 L361.20,162.24 L361.33,162.26 L361.46,162.24 L361.60,162.25 L361.73,162.27 L361.86,162.20 L361.99,162.27 L362.13,162.26 L362.26,162.22 L362.39,162.26 L362.52,162.26 L362.65,162.23 L362.79,162.26 L362.92,162.29 L363.05,162.25 L363.18,162.25 L363.32,162.18 L363.45,162.29 L363.58,162.21 L363.71,162.28 L363.84,162.26 L363.98,162.26 L364.11,162.23 L364.24,162.21 L364.37,162.18 L364.51,162.27 L364.64,162.19 L364.77,162.21 L364.90,162.21 L365.03,162.28 L365.17,162.21 L365.30,162.25 L365.43,162.23 L365.56,162.26 L365.70,162.22 L365.83,162.20 L365.96,162.20 L366.09,162.25 L366.22,162.21 L366.36,162.19 L366.49,162.28 L366.62,162.19 L366.75,162.30 L366.89,162.23 L367.02,162.22 L367.15,162.19 L367.28,162.24 L367.41,162.27 L367.55,162.28 L367.68,162.30 L367.81,162.22 L367.94,162.26 L368.08,162.28 L368.21,162.23 L368.34,162.28 L368.47,162.27 L368.60,162.27 L368.74,162.18 L368.87,162.19 L369.00,162.26 L369.13,162.31 L369.27,162.24 L369.40,162.25 L369.53,162.24 L369.66,162.23 L369.79,162.26 L369.93,162.21 L370.06,162.22 L370.19,162.24 L370.32,162.27 L370.46,162.27 L370.59,162.22 L370.72,162.30 L370.85,162.26 L370.98,162.28 L371.12,162.31 L371.25,162.23 L371.38,162.25 L371.51,162.25 L371.65,162.22 L371.78,162.31 L371.91,162.26 L372.04,162.24 L372.17,162.22 L372.31,162.30 L372.44,162.23 L372.57,162.25 L372.70,162.20 L372.84,162.21 L372.97,162.23 L373.10,162.17 L373.23,162.25 L373.36,162.27 L373.50,162.27 L373.63,162.29 L373.76,162.26 L373.89,162.33 L374.03,162.26 L374.16,162.24 L374.29,162.22 L374.42,162.27 L374.55,162.20 L374.69,162.28 L374.82,162.26 L374.95,162.33 L375.08,162.29 L375.22,162.29 L375.35,162.20 L375.48,162.24 L375.61,162.30 L375.74,162.24 L375.88,162.24 L376.01,162.27 L376.14,162.26 L376.27,162.27 L376.41,162.28 L376.54,162.33 L376.67,162.26 L376.80,162.21 L376.93,162.20 L377.07,162.27 L377.20,162.29 L377.33,162.27 L377.46,162.23 L377.60,162.25 L377.73,162.28 L377.86,162.25 L377.99,162.27 L378.12,162.24 L378.26,162.28 L378.39,162.32 L378.52,162.26 L378.65,162.23 L378.79,162.30 L378.92,162.27 L379.05,162.23 L379.18,162.28 L379.31,162.29 L379.45,162.19 L379.58,162.23 L379.71,162.22 L379.84,162.30 L379.98,162.20 L380.11,162.33 L380.24,162.28 L380.37,162.24 L380.50,162.21 L380.64,162.30 L380.77,162.29 L380.90,162.26 L381.03,162.34 L381.17,162.24 L381.30,162.24 L381.43,162.28 L381.56,162.24 L381.69,162.24 L381.83,162.25 L381.96,162.25 L382.09,162.21 L382.22,162.28 L382.36,162.26 L382.49,162.29 L382.62,162.23 L382.75,162.28 L382.88,162.25 L383.02,162.26 L383.15,162.26 L383.28,162.20 L383.41,162.27 L383.55,162.21 L383.68,162.24 L383.81,162.22 L383.94,162.27 L384.07,162.23 L384.21,162.24 L384.34,162.29 L384.47,162.26 L384.60,162.27 L384.74,162.27 L384.87,162.22 L385.00,162.30 L385.13,162.33 L385.26,162.33 L385.40,162.29 L385.53,162.29 L385.66,162.27 L385.79,162.25 L385.93,162.20 L386.06,162.26 L386.19,162.25 L386.32,162.30 L386.45,162.25 L386.59,162.22 L386.72,162.22 L386.85,162.34 L386.98,162.24 L387.12,162.21 L387.25,162.24 L387.38,162.33 L387.51,162.28 L387.64,162.25 L387.78,162.26 L387.91,162.30 L388.04,162.30 L388.17,162.24 L388.31,162.32 L388.44,162.22 L388.57,162.27 L388.70,162.26 L388.83,162.32 L388.97,162.30 L389.10,162.25 L389.23,162.33 L389.36,162.20 L389.50,162.33 L389.63,162.32 L389.76,162.27 L389.89,162.26 L390.02,162.25 L390.16,162.29 L390.29,162.28 L390.42,162.28 L390.55,162.30 L390.69,162.37 L390.82,162.24 L390.95,162.27 L391.08,162.27 L391.21,162.30 L391.35,162.27 L391.48,162.28 L391.61,162.28 L391.74,162.24 L391.88,162.34 L392.01,162.27 L392.14,162.32 L392.27,162.29 L392.40,162.22 L392.54,162.32 L392.67,162.28 L392.80,162.30 L392.93,162.24 L393.07,162.31 L393.20,162.34 L393.33,162.26 L393.46,162.29 L393.59,162.29 L393.73,162.24 L393.86,162.31 L393.99,162.29 L394.12,162.27 L394.26,162.26 L394.39,162.30 L394.52,162.24 L394.65,162.20 L394.78,162.29 L394.92,162.21 L395.05,162.36 L395.18,162.23 L395.31,162.29 L395.45,162.28 L395.58,162.29 L395.71,162.30 L395.84,162.33 L395.97,162.30 L396.11,162.23 L396.24,162.24 L396.37,162.29 L396.50,162.30 L396.64,162.31 L396.77,162.33 L396.90,162.22 L397.03,162.26 L397.16,162.28 L397.30,162.30 L397.43,162.32 L397.56,162.24 L397.69,162.26 L397.83,162.32 L397.96,162.25 L398.09,162.32 L398.22,162.26 L398.35,162.32 L398.49,162.30 L398.62,162.27 L398.75,162.27 L398.88,162.25 L399.02,162.31 L399.15,162.23 L399.28,162.24 L399.41,162.29 L399.54,162.27 L399.68,162.31 L399.81,162.29 L399.94,162.33 L400.07,162.28 L400.21,162.28 L400.34,162.24 L400.47,162.25 L400.60,162.26 L400.73,162.30 L400.87,162.30 L401.00,162.30 L401.13,162.28 L401.26,162.36 L401.40,162.26 L401.53,162.34 L401.66,162.31 L401.79,162.29 L401.92,162.31 L402.06,162.23 L402.19,162.29 L402.32,162.23 L402.45,162.25 L402.59,162.31 L402.72,162.27 L402.85,162.24 L402.98,162.30 L403.11,162.29 L403.25,162.31 L403.38,162.29 L403.51,162.30 L403.64,162.29 L403.78,162.25 L403.91,162.24 L404.04,162.29 L404.17,162.28 L404.30,162.26 L404.44,162.30 L404.57,162.33 L404.70,162.25 L404.83,162.32 L404.97,162.26 L405.10,162.33 L405.23,162.23 L405.36,162.33 L405.49,162.26 L405.63,162.24 L405.76,162.33 L405.89,162.24 L406.02,162.32 L406.16,162.36 L406.29,162.27 L406.42,162.27 L406.55,162.30 L406.68,162.38 L406.82,162.30 L406.95,162.30 L407.08,162.31 L407.21,162.30 L407.35,162.36 L407.48,162.31 L407.61,162.23 L407.74,162.24 L407.87,162.31 L408.01,162.32 L408.14,162.28 L408.27,162.26 L408.40,162.27 L408.54,162.34 L408.67,162.29 L408.80,162.29 L408.93,162.25 L409.06,162.25 L409.20,162.28 L409.33,162.25 L409.46,162.31 L409.59,162.24 L409.73,162.31 L409.86,162.28 L409.99,162.27 L410.12,162.33 L410.25,162.32 L410.39,162.36 L410.52,162.29 L410.65,162.30 L410.78,162.31 L410.92,162.28 L411.05,162.37 L411.18,162.30 L411.31,162.30 L411.44,162.31 L411.58,162.27 L411.71,162.24 L411.84,162.32 L411.97,162.33 L412.11,162.32 L412.24,162.30 L412.37,162.28 L412.50,162.33 L412.63,162.27 L412.77,162.34 L412.90,162.27 L413.03,162.29 L413.16,162.29 L413.30,162.23 L413.43,162.31 L413.56,162.31 L413.69,162.29 L413.82,162.27 L413.96,162.35 L414.09,162.29 L414.22,162.33 L414.35,162.28 L414.49,162.26 L414.62,162.30 L414.75,162.31 L414.88,162.30 L415.01,162.41 L415.15,162.28 L415.28,162.28 L415.41,162.30 L415.54,162.32 L415.68,162.33 L415.81,162.31 L415.94,162.26 L416.07,162.31 L416.20,162.26 L416.34,162.39 L416.47,162.32 L416.60,162.30 L416.73,162.31 L416.87,162.36 L417.00,162.33 L417.13,162.26 L417.26,162.35 L417.39,162.34 L417.53,162.34 L417.66,162.33 L417.79,162.28 L417.92,162.29 L418.06,162.38 L418.19,162.26 L418.32,162.33 L418.45,162.33 L418.58,162.25 L418.72,162.31 L418.85,162.35 L418.98,162.33 L419.11,162.33 L419.25,162.34 L419.38,162.32 L419.51,162.28 L419.64,162.30 L419.77,162.36 L419.91,162.21 L420.04,162.34 L420.17,162.31 L420.30,162.31 L420.44,162.28 L420.57,162.32 L420.70,162.29 L420.83,162.24 L420.96,162.31 L421.10,162.35 L421.23,162.30 L421.36,162.34 L421.49,162.32 L421.63,162.30 L421.76,162.30 L421.89,162.32 L422.02,162.28 L422.15,162.32 L422.29,162.36 L422.42,162.28 L422.55,162.32 L422.68,162.27 L422.82,162.33 L422.95,162.29 L423.08,162.30 L423.21,162.41 L423.34,162.36 L423.48,162.35 L423.61,162.27 L423.74,162.38 L423.87,162.28 L424.01,162.28 L424.14,162.30 L424.27,162.29 L424.40,162.33 L424.53,162.31 L424.67,162.31 L424.80,162.30 L424.93,162.29 L425.06,162.32 L425.20,162.34 L425.33,162.33 L425.46,162.30 L425.59,162.37 L425.72,162.36 L425.86,162.33 L425.99,162.33 L426.12,162.33 L426.25,162.41 L426.39,162.33 L426.52,162.33 L426.65,162.29 L426.78,162.38 L426.91,162.33 L427.05,162.30 L427.18,162.30 L427.31,162.28 L427.44,162.28 L427.58,162.35 L427.71,162.30 L427.84,162.33 L427.97,162.35 L428.10,162.27 L428.24,162.34 L428.37,162.35 L428.50,162.33 L428.63,162.35 L428.77,162.29 L428.90,162.31 L429.03,162.27 L429.16,162.31 L429.29,162.34 L429.43,162.28 L429.56,162.34 L429.69,162.34 L429.82,162.33 L429.96,162.32 L430.09,162.28 L430.22,162.34 L430.35,162.31 L430.48,162.32 L430.62,162.36 L430.75,162.36 L430.88,162.33 L431.01,162.31 L431.15,162.31 L431.28,162.31 L431.41,162.32 L431.54,162.34 L431.67,162.31 L431.81,162.36 L431.94,162.37 L432.07,162.33 L432.20,162.37 L432.34,162.34 L432.47,162.35 L432.60,162.34 L432.73,162.33 L432.86,162.35 L433.00,162.34 L433.13,162.38 L433.26,162.32 L433.39,162.35 L433.53,162.31 L433.66,162.42 L433.79,162.35 L433.92,162.32 L434.05,162.41 L434.19,162.34 L434.32,162.32 L434.45,162.32 L434.58,162.38 L434.72,162.32 L434.85,162.32 L434.98,162.36 L435.11,162.30 L435.24,162.33 L435.38,162.33 L435.51,162.34 L435.64,162.31 L435.77,162.32 L435.91,162.29 L436.04,162.31 L436.17,162.35 L436.30,162.34 L436.43,162.30 L436.57,162.34 L436.70,162.32 L436.83,162.31 L436.96,162.33 L437.10,162.41 L437.23,162.32 L437.36,162.32 L437.49,162.32 L437.62,162.36 L437.76,162.29 L437.89,162.33 L438.02,162.35 L438.15,162.35 L438.29,162.32 L438.42,162.37 L438.55,162.36 L438.68,162.26 L438.81,162.27 L438.95,162.27 L439.08,162.24 L439.21,162.23 L439.34,162.28 L439.48,162.11 L439.61,162.04 L439.74,162.01 L439.87,162.07 L440.00,161.86 L440.14,161.82 L440.20,161.89 L440.27,161.92 L440.40,161.92 L440.53,161.93 L440.67,162.04 L440.80,162.05 L440.93,162.16 L441.06,162.19 L441.19,162.25 L441.33,162.34 L441.46,162.34 L441.59,162.21 L441.72,162.32 L441.86,162.29 L441.99,162.30 L442.12,162.28 L442.25,162.32 L442.38,162.35 L442.52,162.33 L442.65,162.40 L442.78,162.34 L442.91,162.31 L443.05,162.41 L443.18,162.33 L443.31,162.31 L443.44,162.29 L443.57,162.37 L443.71,162.36 L443.84,162.40 L443.97,162.37 L444.10,162.32 L444.24,162.27 L444.37,162.38 L444.50,162.29 L444.63,162.32 L444.76,162.35 L444.90,162.27 L445.03,162.42 L445.16,162.34 L445.29,162.33 L445.43,162.27 L445.56,162.28 L445.69,162.26 L445.82,162.33 L445.95,162.31 L446.09,162.29 L446.22,162.32 L446.35,162.33 L446.48,162.35 L446.62,162.35 L446.75,162.38 L446.88,162.28 L447.01,162.36 L447.14,162.41 L447.28,162.33 L447.41,162.34 L447.54,162.34 L447.67,162.28 L447.81,162.34 L447.94,162.35 L448.07,162.37 L448.20,162.34 L448.33,162.36 L448.47,162.34 L448.60,162.24 L448.73,162.33 L448.86,162.37 L449.00,162.28 L449.13,162.31 L449.26,162.32 L449.39,162.32 L449.52,162.32 L449.66,162.32 L449.79,162.30 L449.92,162.31 L450.05,162.30 L450.19,162.36 L450.32,162.34 L450.45,162.37 L450.58,162.31 L450.71,162.32 L450.85,162.36 L450.98,162.33 L451.11,162.26 L451.24,162.30 L451.38,162.38 L451.51,162.35 L451.64,162.33 L451.77,162.35 L451.90,162.33 L452.04,162.31 L452.17,162.34 L452.30,162.38 L452.43,162.32 L452.57,162.35 L452.70,162.34 L452.83,162.37 L452.96,162.39 L453.09,162.39 L453.23,162.36 L453.36,162.38 L453.49,162.44 L453.62,162.31 L453.76,162.39 L453.89,162.37 L454.02,162.33 L454.15,162.43 L454.28,162.31 L454.42,162.37 L454.55,162.33 L454.68,162.37 L454.81,162.34 L454.95,162.35 L455.08,162.35 L455.21,162.41 L455.34,162.40 L455.47,162.35 L455.61,162.30 L455.74,162.37 L455.87,162.33 L456.00,162.35 L456.14,162.34 L456.27,162.32 L456.40,162.40 L456.53,162.34 L456.66,162.36 L456.80,162.36 L456.93,162.38 L457.06,162.38 L457.19,162.39 L457.33,162.39 L457.46,162.27 L457.59,162.30 L457.72,162.35 L457.85,162.33 L457.99,162.38 L458.12,162.44 L458.25,162.41 L458.38,162.35 L458.52,162.31 L458.65,162.36 L458.78,162.39 L458.91,162.36 L459.04,162.39 L459.18,162.40 L459.31,162.36 L459.44,162.37 L459.57,162.38 L459.71,162.38 L459.84,162.39 L459.97,162.35 L460.10,162.31 L460.23,162.36 L460.37,162.28 L460.50,162.41 L460.63,162.35 L460.76,162.39 L460.90,162.36 L461.03,162.35 L461.16,162.34 L461.29,162.32 L461.42,162.38 L461.56,162.40 L461.69,162.36 L461.82,162.35 L461.95,162.38 L462.09,162.33 L462.22,162.30 L462.35,162.40 L462.48,162.35 L462.61,162.33 L462.75,162.42 L462.88,162.35 L463.01,162.37 L463.14,162.40 L463.28,162.32 L463.41,162.35 L463.54,162.37 L463.67,162.35 L463.80,162.34 L463.94,162.34 L464.07,162.34 L464.20,162.35 L464.33,162.40 L464.47,162.37 L464.60,162.36 L464.73,162.45 L464.86,162.29 L464.99,162.37 L465.13,162.39 L465.26,162.42 L465.39,162.35 L465.52,162.36 L465.66,162.38 L465.79,162.38 L465.92,162.39 L466.05,162.39 L466.18,162.37 L466.32,162.38 L466.45,162.34 L466.58,162.37 L466.71,162.36 L466.85,162.35 L466.98,162.32 L467.11,162.34 L467.24,162.36 L467.37,162.37 L467.51,162.39 L467.64,162.38 L467.77,162.34 L467.90,162.36 L468.04,162.38 L468.17,162.41 L468.30,162.41 L468.43,162.36 L468.56,162.33 L468.70,162.35 L468.83,162.41 L468.96,162.37 L469.09,162.36 L469.23,162.40 L469.36,162.36 L469.49,162.37 L469.62,162.39 L469.75,162.41 L469.89,162.34 L470.02,162.36 L470.15,162.40 L470.28,162.40 L470.42,162.34 L470.55,162.35 L470.68,162.38 L470.81,162.32 L470.94,162.38 L471.08,162.40 L471.21,162.33 L471.34,162.37 L471.47,162.36 L471.61,162.37 L471.74,162.40 L471.87,162.40 L472.00,162.37 L472.13,162.31 L472.27,162.38 L472.40,162.28 L472.53,162.28 L472.66,162.28 L472.80,162.16 L472.93,162.07 L473.06,162.05 L473.19,162.03 L473.32,161.82 L473.46,161.85 L473.59,161.77 L473.59,161.74 L473.72,161.90 L473.85,161.85 L473.99,161.96 L474.12,162.08 L474.25,162.11 L474.38,162.17 L474.51,162.26 L474.65,162.33 L474.78,162.32 L474.91,162.40 L475.04,162.34 L475.18,162.35 L475.31,162.32 L475.44,162.34 L475.57,162.36 L475.70,162.37 L475.84,162.37 L475.97,162.41 L476.10,162.33 L476.23,162.36 L476.37,162.38 L476.50,162.41 L476.63,162.33 L476.76,162.36 L476.89,162.41 L477.03,162.35 L477.16,162.32 L477.29,162.38 L477.42,162.36 L477.56,162.39 L477.69,162.40 L477.82,162.34 L477.95,162.28 L478.08,162.37 L478.22,162.38 L478.35,162.35 L478.48,162.39 L478.61,162.35 L478.75,162.35 L478.88,162.41 L479.01,162.41 L479.14,162.38 L479.27,162.35 L479.41,162.37 L479.54,162.34 L479.67,162.42 L479.80,162.36 L479.94,162.40 L480.07,162.38 L480.20,162.37 L480.33,162.41 L480.46,162.39 L480.60,162.41 L480.73,162.37 L480.86,162.41 L480.99,162.39 L481.13,162.37 L481.26,162.40 L481.39,162.35 L481.52,162.40 L481.65,162.36 L481.79,162.37 L481.92,162.41 L482.05,162.39 L482.18,162.41 L482.32,162.39 L482.45,162.39 L482.58,162.33 L482.71,162.39 L482.84,162.33 L482.98,162.37 L483.11,162.42 L483.24,162.45 L483.37,162.36 L483.51,162.44 L483.64,162.36 L483.77,162.35 L483.90,162.37 L484.03,162.39 L484.17,162.39 L484.30,162.38 L484.43,162.39 L484.56,162.40 L484.70,162.40 L484.83,162.35 L484.96,162.40 L485.09,162.37 L485.22,162.42 L485.36,162.41 L485.49,162.43 L485.62,162.39 L485.75,162.37 L485.89,162.38 L486.02,162.40 L486.15,162.37 L486.28,162.40 L486.41,162.38 L486.55,162.38 L486.68,162.37 L486.81,162.46 L486.94,162.43 L487.08,162.36 L487.21,162.39 L487.34,162.32 L487.47,162.39 L487.60,162.40 L487.74,162.34 L487.87,162.37 L488.00,162.33 L488.13,162.37 L488.27,162.39 L488.40,162.37 L488.53,162.41 L488.66,162.40 L488.79,162.41 L488.93,162.40 L489.06,162.37 L489.19,162.40 L489.32,162.38 L489.46,162.40 L489.59,162.36 L489.72,162.47 L489.85,162.40 L489.98,162.39 L490.12,162.42 L490.25,162.36 L490.38,162.38 L490.51,162.35 L490.65,162.36 L490.78,162.37 L490.91,162.40 L491.04,162.42 L491.17,162.40 L491.31,162.41 L491.44,162.38 L491.57,162.41 L491.70,162.30 L491.84,162.44 L491.97,162.36 L492.10,162.41 L492.23,162.40 L492.36,162.37 L492.50,162.39 L492.63,162.43 L492.76,162.38 L492.89,162.40 L493.03,162.45 L493.16,162.39 L493.29,162.43 L493.42,162.42 L493.55,162.38 L493.69,162.39 L493.82,162.40 L493.95,162.33 L494.08,162.38 L494.22,162.41 L494.35,162.39 L494.48,162.40 L494.61,162.46 L494.74,162.44 L494.88,162.44 L495.01,162.34 L495.14,162.40 L495.27,162.40 L495.41,162.41 L495.54,162.37 L495.67,162.40 L495.80,162.35 L495.93,162.37 L496.07,162.35 L496.20,162.40 L496.33,162.39 L496.46,162.41 L496.60,162.40 L496.73,162.45 L496.86,162.42 L496.99,162.43 L497.12,162.42 L497.26,162.36 L497.39,162.39 L497.52,162.36 L497.65,162.37 L497.79,162.37 L497.92,162.37 L498.05,162.42 L498.18,162.38 L498.31,162.41 L498.45,162.42 L498.58,162.37 L498.71,162.34 L498.84,162.43 L498.98,162.35 L499.11,162.38 L499.24,162.43 L499.37,162.39 L499.50,162.39 L499.64,162.39 L499.77,162.41 L499.90,162.44 L500.03,162.40 L500.17,162.38 L500.30,162.38 L500.43,162.38 L500.56,162.37 L500.69,162.43 L500.83,162.40 L500.96,162.39 L501.09,162.37 L501.22,162.40 L501.36,162.39 L501.49,162.40 L501.62,162.34 L501.75,162.47 L501.88,162.40 L502.02,162.33 L502.15,162.40 L502.28,162.46 L502.41,162.40 L502.55,162.45 L502.68,162.42 L502.81,162.40 L502.94,162.36 L503.07,162.39 L503.21,162.39 L503.34,162.38 L503.47,162.40 L503.60,162.43 L503.74,162.41 L503.87,162.40 L504.00,162.41 L504.13,162.43 L504.26,162.42 L504.40,162.45 L504.53,162.44 L504.66,162.41 L504.79,162.42 L504.93,162.41 L505.06,162.37 L505.19,162.40 L505.32,162.41 L505.45,162.44 L505.59,162.44 L505.72,162.40 L505.85,162.43 L505.98,162.40 L506.12,162.44 L506.25,162.41 L506.38,162.41 L506.51,162.38 L506.64,162.42 L506.78,162.42 L506.91,162.40 L507.04,162.41 L507.17,162.36 L507.31,162.42 L507.44,162.43 L507.57,162.42 L507.70,162.40 L507.83,162.40 L507.97,162.39 L508.10,162.45 L508.23,162.34 L508.36,162.36 L508.50,162.41 L508.63,162.45 L508.76,162.41 L508.89,162.40 L509.02,162.47 L509.16,162.41 L509.29,162.45 L509.42,162.40 L509.55,162.37 L509.69,162.38 L509.82,162.46 L509.95,162.38 L510.08,162.39 L510.21,162.42 L510.35,162.40 L510.48,162.37 L510.61,162.42 L510.74,162.41 L510.88,162.43 L511.01,162.38 L511.14,162.47 L511.27,162.38 L511.40,162.44 L511.54,162.39 L511.67,162.46 L511.80,162.44 L511.93,162.43 L512.07,162.39 L512.20,162.46 L512.33,162.40 L512.46,162.43 L512.59,162.38 L512.73,162.43 L512.86,162.40 L512.99,162.42 L513.12,162.37 L513.26,162.43 L513.39,162.42 L513.52,162.36 L513.65,162.42 L513.78,162.40 L513.92,162.44 L514.05,162.41 L514.18,162.48 L514.31,162.42 L514.45,162.44 L514.58,162.46 L514.71,162.46 L514.84,162.39 L514.97,162.41 L515.11,162.46 L515.24,162.37 L515.37,162.44 L515.50,162.43 L515.64,162.41 L515.77,162.45 L515.90,162.46 L516.03,162.44 L516.16,162.39 L516.30,162.40 L516.43,162.46 L516.56,162.39 L516.69,162.42 L516.83,162.41 L516.96,162.42 L517.09,162.41 L517.22,162.45 L517.35,162.45 L517.49,162.44 L517.62,162.43 L517.75,162.41 L517.88,162.46 L518.02,162.38 L518.15,162.44 L518.28,162.44 L518.41,162.40 L518.54,162.41 L518.68,162.43 L518.81,162.45 L518.94,162.45 L519.07,162.47 L519.21,162.39 L519.34,162.40 L519.47,162.37 L519.60,162.41 L519.73,162.42 L519.87,162.40 L520.00,162.40 L520.13,162.43 L520.26,162.42 L520.40,162.37 L520.53,162.47 L520.66,162.46 L520.79,162.45 L520.92,162.41 L521.06,162.39 L521.19,162.44 L521.32,162.41 L521.45,162.43 L521.59,162.42 L521.72,162.44 L521.85,162.43 L521.98,162.43 L522.11,162.40 L522.25,162.37 L522.38,162.48 L522.51,162.41 L522.64,162.43 L522.78,162.40 L522.91,162.40 L523.04,162.41 L523.17,162.41 L523.30,162.45 L523.44,162.47 L523.57,162.39 L523.70,162.40 L523.83,162.45 L523.97,162.40 L524.10,162.41 L524.23,162.50 L524.36,162.41 L524.49,162.46 L524.63,162.40 L524.76,162.45 L524.89,162.45 L525.02,162.47 L525.16,162.44 L525.29,162.40 L525.42,162.45 L525.55,162.48 L525.68,162.38 L525.82,162.38 L525.95,162.41 L526.08,162.45 L526.21,162.46 L526.35,162.48 L526.48,162.42 L526.61,162.40 L526.74,162.46 L526.87,162.43 L527.01,162.44 L527.14,162.44 L527.27,162.42 L527.40,162.38 L527.54,162.45 L527.67,162.41 L527.80,162.41 L527.93,162.44 L528.06,162.44 L528.20,162.47 L528.33,162.41 L528.46,162.45 L528.59,162.45 L528.73,162.43 L528.86,162.46 L528.99,162.46 L529.12,162.44 L529.25,162.40 L529.39,162.44 L529.52,162.42 L529.65,162.47 L529.78,162.49 L529.92,162.39 L530.05,162.45 L530.18,162.48 L530.31,162.44 L530.44,162.42 L530.58,162.48 L530.71,162.46 L530.84,162.43 L530.97,162.46 L531.11,162.42 L531.24,162.41 L531.37,162.43 L531.50,162.45 L531.63,162.44 L531.77,162.46 L531.90,162.44 L532.03,162.43 L532.16,162.45 L532.30,162.41 L532.43,162.37 L532.56,162.45 L532.69,162.43 L532.82,162.42 L532.96,162.42 L533.09,162.45 L533.22,162.45 L533.35,162.41 L533.49,162.42 L533.62,162.43 L533.75,162.46 L533.88,162.43 L534.01,162.42 L534.15,162.45 L534.28,162.43 L534.41,162.39 L534.54,162.49 L534.68,162.43 L534.81,162.47 L534.94,162.48 L535.07,162.45 L535.20,162.43 L535.34,162.44 L535.47,162.47 L535.60,162.48 L535.73,162.46 L535.87,162.44 L536.00,162.46 L536.13,162.48 L536.26,162.40 L536.39,162.47 L536.53,162.45 L536.66,162.46 L536.79,162.46 L536.92,162.44 L537.06,162.45 L537.19,162.43 L537.32,162.48 L537.45,162.48 L537.58,162.40 L537.72,162.45 L537.85,162.43 L537.98,162.42 L538.11,162.43 L538.25,162.45 L538.38,162.49 L538.51,162.49 L538.64,162.42 L538.77,162.43 L538.91,162.43 L539.04,162.49 L539.17,162.50 L539.30,162.47 L539.44,162.48 L539.57,162.44 L539.70,162.47 L539.83,162.41 L539.96,162.46 L540.10,162.46 L540.23,162.43 L540.36,162.44 L540.49,162.47 L540.63,162.43 L540.76,162.40 L540.89,162.48 L541.02,162.46 L541.15,162.48 L541.29,162.50 L541.42,162.43 L541.55,162.43 L541.68,162.43 L541.82,162.44 L541.95,162.50 L542.08,162.45 L542.21,162.47 L542.34,162.48 L542.48,162.48 L542.61,162.43 L542.74,162.46 L542.87,162.40 L543.01,162.44 L543.14,162.50 L543.27,162.43 L543.40,162.42 L543.53,162.45 L543.67,162.48 L543.80,162.41 L543.93,162.49 L544.06,162.46 L544.20,162.50 L544.33,162.48 L544.46,162.50 L544.59,162.43 L544.72,162.42 L544.86,162.46 L544.99,162.49 L545.12,162.46 L545.25,162.45 L545.39,162.49 L545.52,162.48 L545.65,162.46 L545.78,162.44 L545.91,162.45 L546.05,162.44 L546.18,162.49 L546.31,162.52 L546.44,162.45 L546.58,162.48 L546.71,162.46 L546.84,162.47 L546.97,162.44 L547.10,162.48 L547.24,162.42 L547.37,162.46 L547.50,162.44 L547.63,162.44 L547.77,162.43 L547.90,162.45 L548.03,162.50 L548.16,162.47 L548.29,162.41 L548.43,162.45 L548.56,162.44 L548.69,162.45 L548.82,162.47 L548.96,162.48 L549.09,162.47 L549.22,162.43 L549.35,162.45 L549.48,162.42 L549.62,162.45 L549.75,162.41 L549.88,162.45 L550.01,162.49 L550.15,162.42 L550.28,162.45 L550.41,162.43 L550.54,162.46 L550.67,162.47 L550.81,162.46 L550.94,162.49 L551.07,162.49 L551.20,162.48 L551.34,162.47 L551.47,162.49 L551.60,162.46 L551.73,162.45 L551.86,162.41 L552.00,162.42 L552.13,162.46 L552.26,162.44 L552.39,162.47 L552.53,162.45 L552.66,162.46 L552.79,162.48 L552.92,162.46 L553.05,162.50 L553.19,162.45 L553.32,162.47 L553.45,162.49 L553.58,162.47 L553.72,162.45 L553.85,162.48 L553.98,162.45 L554.11,162.45 L554.24,162.43 L554.38,162.49 L554.51,162.47 L554.64,162.45 L554.77,162.43 L554.91,162.46 L555.04,162.45 L555.17,162.50 L555.30,162.48 L555.43,162.43 L555.57,162.47 L555.70,162.41 L555.83,162.48 L555.96,162.47 L556.10,162.51 L556.23,162.45 L556.36,162.46 L556.49,162.42 L556.62,162.46 L556.76,162.47 L556.89,162.50 L557.02,162.47 L557.15,162.45 L557.29,162.45 L557.42,162.44 L557.55,162.45 L557.68,162.47 L557.81,162.45 L557.95,162.47 L558.08,162.50 L558.21,162.43 L558.34,162.46 L558.48,162.49 L558.61,162.46 L558.74,162.46 L558.87,162.45 L559.00,162.44 L559.14,162.54 L559.27,162.46 L559.40,162.43 L559.53,162.49 L559.67,162.52 L559.80,162.46 L559.93,162.46 L560.06,162.46 L560.19,162.50 L560.33,162.48 L560.46,162.47 L560.59,162.45 L560.72,162.42 L560.86,162.47 L560.99,162.49 L561.12,162.53 L561.25,162.45 L561.38,162.48 L561.52,162.48 L561.65,162.50 L561.78,162.46 L561.91,162.52 L562.05,162.47 L562.18,162.47 L562.31,162.47 L562.44,162.44 L562.57,162.48 L562.71,162.47 L562.84,162.45 L562.97,162.51 L563.10,162.48 L563.24,162.47 L563.37,162.45 L563.50,162.49 L563.63,162.46 L563.76,162.47 L563.90,162.51 L564.03,162.51 L564.16,162.51 L564.29,162.47 L564.43,162.47 L564.56,162.46 L564.69,162.46 L564.82,162.49 L564.95,162.45 L565.09,162.46 L565.22,162.47 L565.35,162.47 L565.48,162.51 L565.62,162.47 L565.75,162.50 L565.88,162.51 L566.01,162.49 L566.14,162.48 L566.28,162.48 L566.41,162.49 L566.54,162.50 L566.67,162.48 L566.81,162.50 L566.94,162.51 L567.07,162.48 L567.20,162.45 L567.33,162.49 L567.47,162.50 L567.60,162.45 L567.73,162.44 L567.86,162.49 L568.00,162.49 L568.13,162.48 L568.26,162.41 L568.39,162.48 L568.52,162.46 L568.66,162.47 L568.79,162.52 L568.92,162.51 L569.05,162.51 L569.19,162.47 L569.32,162.48 L569.45,162.44 L569.58,162.49 L569.71,162.48 L569.85,162.48 L569.98,162.48 L570.11,162.43 L570.24,162.48 L570.38,162.45 L570.51,162.45 L570.64,162.50 L570.77,162.47 L570.90,162.49 L571.04,162.48 L571.17,162.48 L571.30,162.48 L571.43,162.50 L571.57,162.45 L571.70,162.49 L571.83,162.47 L571.96,162.45 L572.09,162.47 L572.23,162.46 L572.36,162.45 L572.49,162.46 L572.62,162.45 L572.76,162.52 L572.89,162.44 L573.02,162.49 L573.15,162.53 L573.28,162.50 L573.42,162.52 L573.55,162.49 L573.68,162.52 L573.81,162.51 L573.95,162.48 L574.08,162.48 L574.21,162.51 L574.34,162.49 L574.47,162.49 L574.61,162.49 L574.74,162.49 L574.87,162.49 L575.00,162.47 L575.14,162.52 L575.27,162.50 L575.40,162.49 L575.53,162.50 L575.66,162.50 L575.80,162.50 L575.93,162.49 L576.06,162.46 L576.19,162.49 L576.33,162.50 L576.46,162.48 L576.59,162.50 L576.72,162.53 L576.85,162.49 L576.99,162.50 L577.12,162.50 L577.25,162.48 L577.38,162.49 L577.52,162.50 L577.65,162.54 L577.78,162.53 L577.91,162.49 L578.04,162.50 L578.18,162.48 L578.31,162.49 L578.44,162.50 L578.57,162.52 L578.71,162.52 L578.84,162.50 L578.97,162.52 L579.10,162.48 L579.23,162.52 L579.37,162.53 L579.50,162.50 L579.63,162.53 L579.76,162.46 L579.90,162.52 L580.03,162.50 L580.16,162.50 L580.29,162.51 L580.42,162.53 L580.56,162.54 L580.69,162.48 L580.82,162.47 L580.95,162.45 L581.09,162.53 L581.22,162.48 L581.35,162.50 L581.48,162.48 L581.61,162.51 L581.75,162.48 L581.88,162.48 L582.01,162.48 L582.14,162.47 L582.28,162.50 L582.41,162.46 L582.54,162.51 L582.67,162.46 L582.80,162.56 L582.94,162.50 L583.07,162.52 L583.20,162.50 L583.33,162.48 L583.47,162.48 L583.60,162.50 L583.73,162.46 L583.86,162.53 L583.99,162.52 L584.13,162.47 L584.26,162.49 L584.39,162.54 L584.52,162.49 L584.66,162.53 L584.79,162.47 L584.92,162.48 L585.05,162.51 L585.18,162.47 L585.32,162.52 L585.45,162.48 L585.58,162.49 L585.71,162.50 L585.85,162.53 L585.98,162.51 L586.11,162.55 L586.24,162.51 L586.37,162.54 L586.51,162.48 L586.64,162.52 L586.77,162.55 L586.90,162.49 L587.04,162.50 L587.17,162.51 L587.30,162.46 L587.43,162.49 L587.56,162.50 L587.70,162.52 L587.83,162.56 L587.96,162.49 L588.09,162.48 L588.23,162.52 L588.36,162.53 L588.49,162.51 L588.62,162.54 L588.75,162.50 L588.89,162.49 L589.02,162.47 L589.15,162.50 L589.28,162.50 L589.42,162.49 L589.55,162.48 L589.68,162.51 L589.81,162.53 L589.94,162.52 L590.08,162.53 L590.21,162.52 L590.34,162.51 L590.47,162.50 L590.61,162.50 L590.74,162.51 L590.87,162.51 L591.00,162.50 L591.13,162.49 L591.27,162.49 L591.40,162.48 L591.53,162.51 L591.66,162.51 L591.80,162.47 L591.93,162.50 L592.06,162.50 L592.19,162.52 L592.32,162.49 L592.46,162.52 L592.59,162.53 L592.72,162.51 L592.85,162.52 L592.99,162.49 L593.12,162.52 L593.25,162.51 L593.38,162.51 L593.51,162.50 L593.65,162.52 L593.78,162.49 L593.91,162.54 L594.04,162.52 L594.18,162.53 L594.31,162.50 L594.44,162.51 L594.57,162.50 L594.70,162.52 L594.84,162.53 L594.97,162.53 L595.10,162.52 L595.23,162.52 L595.37,162.51 L595.50,162.51 L595.63,162.49 L595.76,162.52 L595.89,162.53 L596.03,162.53 L596.16,162.51 L596.29,162.51 L596.42,162.48 L596.56,162.51 L596.69,162.48 L596.82,162.48 L596.95,162.53 L597.08,162.49 L597.22,162.49 L597.35,162.49 L597.48,162.52 L597.61,162.50 L597.75,162.52 L597.88,162.52 L598.01,162.52 L598.14,162.48 L598.27,162.52 L598.41,162.50 L598.54,162.52 L598.67,162.53 L598.80,162.51 L598.94,162.50 L599.07,162.53 L599.20,162.50 L599.33,162.53 L599.46,162.53 L599.60,162.51 L599.73,162.52 L599.86,162.54 L599.99,162.55 L600.13,162.52 L600.26,162.51 L600.39,162.53 L600.52,162.52 L600.65,162.55 L600.79,162.51 L600.92,162.51 L601.05,162.51 L601.18,162.53 L601.32,162.52 L601.45,162.52 L601.58,162.50 L601.71,162.51 L601.84,162.52 L601.98,162.53 L602.11,162.50 L602.24,162.50 L602.37,162.53 L602.51,162.51 L602.64,162.52 L602.77,162.52 L602.90,162.55 L603.03,162.49 L603.17,162.56 L603.30,162.52 L603.43,162.53 L603.56,162.50 L603.70,162.53 L603.83,162.52 L603.96,162.51 L604.09,162.51 L604.22,162.53 L604.36,162.51 L604.49,162.52 L604.62,162.51 L604.75,162.53 L604.89,162.52 L605.02,162.53 L605.15,162.54 L605.28,162.52 L605.41,162.52 L605.55,162.50 L605.68,162.53 L605.81,162.52 L605.94,162.50 L606.08,162.53 L606.21,162.52 L606.34,162.52 L606.47,162.54 L606.60,162.54 L606.74,162.51 L606.87,162.52 L607.00,162.53 L607.13,162.55 L607.27,162.52 L607.40,162.51 L607.53,162.55 L607.66,162.54 L607.79,162.51 L607.93,162.50 L608.06,162.49 L608.19,162.50 L608.32,162.36 L608.46,162.12 L608.59,161.38 L608.72,160.20 L608.85,158.19 L608.98,155.61 L609.12,153.61 L609.25,152.60 L609.28,152.50 L609.38,152.93 L609.51,154.63 L609.65,157.13 L609.78,159.25 L609.91,160.83 L610.04,161.73 L610.17,162.35 L610.31,162.48 L610.44,162.53 L610.57,162.51 L610.70,162.49 L610.84,162.53 L610.97,162.53 L611.10,162.57 L611.23,162.60 L611.36,162.59 L611.50,162.60 L611.63,162.58 L611.76,162.59 L611.89,162.59 L612.03,162.58 L612.16,162.59 L612.29,162.57 L612.42,162.58 L612.55,162.58 L612.69,162.56 L612.82,162.59 L612.95,162.58 L613.08,162.59 L613.22,162.57 L613.35,162.58 L613.48,162.58 L613.61,162.58 L613.74,162.57 L613.88,162.57 L614.01,162.58 L614.14,162.58 L614.27,162.57 L614.41,162.60 L614.54,162.59 L614.67,162.58 L614.80,162.58 L614.93,162.57 L615.07,162.57 L615.20,162.58 L615.33,162.58 L615.46,162.59 L615.60,162.59 L615.73,162.58 L615.86,162.59 L615.99,162.58 L616.12,162.58 L616.26,162.59 L616.39,162.59 L616.52,162.60 L616.65,162.57 L616.79,162.59 L616.92,162.60 L617.05,162.58 L617.18,162.59 L617.31,162.58 L617.45,162.59 L617.58,162.57 L617.71,162.58 L617.84,162.58 L617.98,162.58 L618.11,162.59 L618.24,162.58 L618.37,162.57 L618.50,162.59 L618.64,162.59 L618.77,162.58 L618.90,162.57 L619.03,162.60 L619.17,162.59 L619.30,162.59 L619.43,162.58 L619.56,162.58 L619.69,162.59 L619.83,162.59 L619.96,162.58 L620.09,162.60 L620.22,162.58 L620.36,162.58 L620.49,162.57 L620.62,162.58 L620.75,162.59 L620.88,162.59 L621.02,162.59 L621.15,162.59 L621.28,162.58 L621.41,162.58 L621.55,162.60 L621.68,162.59 L621.81,162.57 L621.94,162.58 L622.07,162.59 L622.21,162.59 L622.34,162.59 L622.47,162.60 L622.60,162.57 L622.74,162.58 L622.87,162.59 L623.00,162.60 L623.13,162.59 L623.26,162.59 L623.40,162.57 L623.53,162.59 L623.66,162.58 L623.79,162.57 L623.93,162.58 L624.06,162.59 L624.19,162.60 L624.32,162.57 L624.45,162.58 L624.59,162.59 L624.72,162.58 L624.85,162.59 L624.98,162.59 L625.12,162.60 L625.25,162.58 L625.38,162.58 L625.51,162.58 L625.64,162.58 L625.78,162.58 L625.91,162.58 L626.04,162.59 L626.17,162.58 L626.31,162.57 L626.44,162.58 L626.57,162.57 L626.70,162.59 L626.83,162.59 L626.97,162.57 L627.10,162.59 L627.23,162.58 L627.36,162.59 L627.50,162.58 L627.63,162.59 L627.76,162.59 L627.89,162.60 L628.02,162.57 L628.16,162.58 L628.29,162.60 L628.42,162.59 L628.55,162.59 L628.69,162.59 L628.82,162.60 L628.95,162.58 L629.08,162.57 L629.21,162.59 L629.35,162.58 L629.48,162.58 L629.61,162.59 L629.74,162.57 L629.88,162.60 L630.01,162.59 L630.14,162.59 L630.27,162.57 L630.40,162.58 L630.54,162.58 L630.67,162.59 L630.80,162.58 L630.93,162.58 L631.07,162.58 L631.20,162.57 L631.33,162.58 L631.46,162.58 L631.59,162.58 L631.73,162.57 L631.86,162.58 L631.99,162.58 L632.12,162.57 L632.26,162.57 L632.39,162.58 L632.52,162.58 L632.65,162.59 L632.78,162.57 L632.92,162.59 L633.05,162.58 L633.18,162.59 L633.31,162.58 L633.45,162.58 L633.58,162.58 L633.71,162.58 L633.84,162.58 L633.97,162.59 L634.11,162.59 L634.24,162.58 L634.37,162.57 L634.50,162.58 L634.64,162.59 L634.77,162.59 L634.90,162.58 L635.03,162.57 L635.16,162.59 L635.30,162.58 L635.43,162.58 L635.56,162.59 L635.69,162.59 L635.83,162.58 L635.96,162.59 L636.09,162.58 L636.22,162.60 L636.35,162.57 L636.49,162.58 L636.62,162.58 L636.75,162.57 L636.88,162.58 L637.02,162.60 L637.15,162.58 L637.28,162.58 L637.41,162.59 L637.54,162.59 L637.68,162.58 L637.81,162.58 L637.94,162.59 L638.07,162.59 L638.21,162.59 L638.34,162.59 L638.47,162.58 L638.60,162.57 L638.73,162.60 L638.87,162.59 L639.00,162.57 L639.13,162.58 L639.26,162.58 L639.40,162.58 L639.53,162.59 L639.66,162.59 L639.79,162.60 L639.92,162.60 L640.06,162.58 L640.19,162.58 L640.32,162.59 L640.45,162.59 L640.59,162.58 L640.72,162.58 L640.85,162.58 L640.98,162.60 L641.11,162.59 L641.25,162.60 L641.38,162.58 L641.51,162.59 L641.64,162.59 L641.78,162.57 L641.91,162.57 L642.04,162.58 L642.17,162.58 L642.30,162.58 L642.44,162.59 L642.57,162.58 L642.70,162.57 L642.83,162.59 L642.97,162.59 L643.10,162.58 L643.23,162.58 L643.36,162.58 L643.49,162.59 L643.63,162.58 L643.76,162.59 L643.89,162.59 L644.02,162.58 L644.16,162.59 L644.29,162.58 L644.42,162.58 L644.55,162.59 L644.68,162.58 L644.82,162.59 L644.95,162.59 L645.08,162.59 L645.21,162.57 L645.35,162.59 L645.48,162.60 L645.61,162.59 L645.74,162.58 L645.87,162.57 L646.01,162.59 L646.14,162.59 L646.27,162.59 L646.40,162.60 L646.54,162.58 L646.67,162.58 L646.80,162.58 L646.93,162.56 L647.06,162.59 L647.20,162.58 L647.33,162.58 L647.46,162.59 L647.59,162.59 L647.73,162.57 L647.86,162.58 L647.99,162.58 L648.12,162.59 L648.25,162.58 L648.39,162.58 L648.52,162.57 L648.65,162.57 L648.78,162.58 L648.92,162.58 L649.05,162.58 L649.18,162.59 L649.31,162.58 L649.44,162.58 L649.58,162.58 L649.71,162.57 L649.84,162.58 L649.97,162.59 L650.11,162.58 L650.24,162.57 L650.37,162.59 L650.50,162.58 L650.63,162.58 L650.77,162.58 L650.90,162.58 L651.03,162.58 L651.16,162.58 L651.30,162.57 L651.43,162.57 L651.56,162.60 L651.69,162.60 L651.82,162.58 L651.96,162.59 L652.09,162.59 L652.22,162.60 L652.35,162.58 L652.49,162.58 L652.62,162.59 L652.75,162.58 L652.88,162.56 L653.01,162.57 L653.15,162.57 L653.28,162.59 L653.41,162.58 L653.54,162.58 L653.68,162.57 L653.81,162.58 L653.94,162.58 L654.07,162.58 L654.20,162.59 L654.34,162.58 L654.47,162.57 L654.60,162.59 L654.73,162.58 L654.87,162.60 L655.00,162.58 L655.13,162.58 L655.26,162.59 L655.39,162.57 L655.53,162.58 L655.66,162.60 L655.79,162.59 L655.92,162.58 L656.06,162.59 L656.19,162.57 L656.32,162.60 L656.45,162.58 L656.58,162.58 L656.72,162.59 L656.85,162.58 L656.98,162.59 L657.11,162.58 L657.25,162.58 L657.38,162.57 L657.51,162.59 L657.64,162.58 L657.77,162.57 L657.91,162.59 L658.04,162.58 L658.17,162.56 L658.30,162.57 L658.44,162.60 L658.57,162.59 L658.70,162.60 L658.83,162.58 L658.96,162.59 L659.10,162.59 L659.23,162.59 L659.36,162.58 L659.49,162.59 L659.63,162.59 L659.76,162.59 L659.89,162.58 L660.02,162.59 L660.15,162.57 L660.29,162.60 L660.42,162.58 L660.55,162.59 L660.68,162.57 L660.82,162.59 L660.95,162.59 L661.08,162.59 L661.21,162.57 L661.34,162.58 L661.48,162.59 L661.61,162.59 L661.74,162.59 L661.87,162.57 L662.01,162.58 L662.14,162.60 L662.27,162.58 L662.40,162.58 L662.53,162.58 L662.67,162.58 L662.80,162.58 L662.93,162.58 L663.06,162.58 L663.20,162.59 L663.33,162.58 L663.46,162.58 L663.59,162.58 L663.72,162.59 L663.86,162.59 L663.99,162.58 L664.12,162.58 L664.25,162.60 L664.39,162.59 L664.52,162.57 L664.65,162.58 L664.78,162.59 L664.91,162.57 L665.05,162.59 L665.18,162.59 L665.31,162.57 L665.44,162.59 L665.58,162.59 L665.71,162.60 L665.84,162.59 L665.97,162.59 L666.10,162.58 L666.24,162.60 L666.37,162.57 L666.50,162.59 L666.63,162.59 L666.77,162.59 L666.90,162.58 L667.03,162.57 L667.16,162.59 L667.29,162.57 L667.43,162.57 L667.56,162.57 L667.69,162.58 L667.82,162.60 L667.96,162.58 L668.09,162.59 L668.22,162.58 L668.35,162.60 L668.48,162.59 L668.62,162.58 L668.75,162.59 L668.88,162.58 L669.01,162.57 L669.15,162.58 L669.28,162.59 L669.41,162.56 L669.54,162.60 L669.67,162.59 L669.81,162.58 L669.94,162.59 L670.07,162.60 L670.20,162.58 L670.34,162.58 L670.47,162.59" fill="none" stroke="#2424a2" stroke-width="1.5" stroke-linejoin="round" clip-path="url(#mclip0)"/>
<rect x="59.30" y="2.00" width="611.50" height="160.60" fill="none" stroke="#0a0a0a" stroke-width="1.4"/>
<path d="M59.30,162.60H670.80" stroke="#28285a" stroke-width="1.8"/>
<path d="M59.30,162.60h18.50M59.30,157.12h9.20M59.30,151.64h9.20M59.30,146.16h9.20M59.30,140.68h9.20M59.30,135.20h18.50M59.30,129.72h9.20M59.30,124.24h9.20M59.30,118.76h9.20M59.30,113.28h9.20M59.30,107.80h18.50M59.30,102.32h9.20M59.30,96.84h9.20M59.30,91.36h9.20M59.30,85.88h9.20M59.30,80.40h18.50M59.30,74.92h9.20M59.30,69.44h9.20M59.30,63.96h9.20M59.30,58.48h9.20M59.30,53.00h18.50M59.30,47.52h9.20M59.30,42.04h9.20M59.30,36.56h9.20M59.30,31.08h9.20M59.30,25.60h18.50M59.30,20.12h9.20M59.30,14.64h9.20M59.30,9.16h9.20M59.30,3.68h9.20" stroke="#0a0a0a" stroke-width="1.1" fill="none"/>
<text x="54.6" y="167.70" text-anchor="end" font-size="12.3">0</text>
<text x="54.6" y="140.30" text-anchor="end" font-size="12.3">5000</text>
<text x="54.6" y="112.90" text-anchor="end" font-size="12.3">10000</text>
<text x="54.6" y="85.50" text-anchor="end" font-size="12.3">15000</text>
<text x="54.6" y="58.10" text-anchor="end" font-size="12.3">20000</text>
<text x="54.6" y="30.70" text-anchor="end" font-size="12.3">25000</text>
<path d="M75.60,162.60v-4.30M92.13,162.60v-2.20M108.66,162.60v-2.20M125.18,162.60v-2.20M141.71,162.60v-4.30M158.24,162.60v-2.20M174.77,162.60v-2.20M191.29,162.60v-2.20M207.82,162.60v-4.30M224.35,162.60v-2.20M240.88,162.60v-2.20M257.41,162.60v-2.20M273.93,162.60v-4.30M290.46,162.60v-2.20M306.99,162.60v-2.20M323.52,162.60v-2.20M340.04,162.60v-4.30M356.57,162.60v-2.20M373.10,162.60v-2.20M389.63,162.60v-2.20M406.16,162.60v-4.30M422.68,162.60v-2.20M439.21,162.60v-2.20M455.74,162.60v-2.20M472.27,162.60v-4.30M488.79,162.60v-2.20M505.32,162.60v-2.20M521.85,162.60v-2.20M538.38,162.60v-4.30M554.91,162.60v-2.20M571.43,162.60v-2.20M587.96,162.60v-2.20M604.49,162.60v-4.30M621.02,162.60v-2.20M637.54,162.60v-2.20M654.07,162.60v-2.20" stroke="#0a0a0a" stroke-width="1.1" fill="none"/>
<text x="75.40" y="174.90" text-anchor="middle" font-size="12.3">1000</text>
<text x="141.51" y="174.90" text-anchor="middle" font-size="12.3">1200</text>
<text x="207.62" y="174.90" text-anchor="middle" font-size="12.3">1400</text>
<text x="273.73" y="174.90" text-anchor="middle" font-size="12.3">1600</text>
<text x="339.84" y="174.90" text-anchor="middle" font-size="12.3">1800</text>
<text x="405.96" y="174.90" text-anchor="middle" font-size="12.3">2000</text>
<text x="472.07" y="174.90" text-anchor="middle" font-size="12.3">2200</text>
<text x="538.18" y="174.90" text-anchor="middle" font-size="12.3">2400</text>
<text x="604.29" y="174.90" text-anchor="middle" font-size="12.3">2600</text>
<text x="670.40" y="174.90" text-anchor="middle" font-size="12.3">2800</text>
<text transform="translate(12.2,71.90) rotate(-90)" text-anchor="middle" font-size="14" font-weight="bold">Counts</text>
<clipPath id="mclip1"><rect x="59.30" y="180.80" width="611.50" height="162.70"/></clipPath>
<path d="M59.34,337.12 L59.47,337.48 L59.60,337.30 L59.73,337.10 L59.87,337.06 L60.00,337.16 L60.13,337.35 L60.26,337.34 L60.39,337.45 L60.53,337.24 L60.66,337.49 L60.79,337.39 L60.92,337.69 L61.06,337.63 L61.19,337.22 L61.32,337.45 L61.45,337.44 L61.58,337.76 L61.72,337.50 L61.85,337.25 L61.98,337.71 L62.11,337.84 L62.25,337.57 L62.38,337.63 L62.51,337.60 L62.64,337.74 L62.77,337.77 L62.91,337.76 L63.04,337.54 L63.17,338.68 L63.30,338.59 L63.44,338.80 L63.57,338.62 L63.70,338.73 L63.83,338.65 L63.96,338.48 L64.10,338.40 L64.23,338.06 L64.36,337.51 L64.49,336.14 L64.63,334.53 L64.76,333.17 L64.89,331.84 L65.02,331.69 L65.02,331.36 L65.15,332.08 L65.29,333.00 L65.42,334.46 L65.55,336.21 L65.68,337.53 L65.82,338.09 L65.95,338.62 L66.08,338.65 L66.21,338.48 L66.34,338.69 L66.48,338.75 L66.61,338.62 L66.74,338.78 L66.87,338.70 L67.01,338.72 L67.14,338.69 L67.27,338.91 L67.40,338.67 L67.53,338.65 L67.67,339.01 L67.80,339.06 L67.93,338.86 L68.06,338.59 L68.20,338.76 L68.33,338.69 L68.46,338.70 L68.59,338.67 L68.72,338.84 L68.86,338.84 L68.99,338.73 L69.12,338.71 L69.25,338.72 L69.39,338.74 L69.52,338.84 L69.65,338.66 L69.78,338.74 L69.91,338.67 L70.05,339.08 L70.18,338.68 L70.31,339.07 L70.44,338.78 L70.58,338.88 L70.71,338.79 L70.84,338.86 L70.97,338.84 L71.10,338.79 L71.24,338.77 L71.37,338.90 L71.50,339.10 L71.63,338.91 L71.77,338.76 L71.90,338.92 L72.03,338.78 L72.16,338.87 L72.29,338.94 L72.43,338.70 L72.56,338.65 L72.69,338.85 L72.82,338.84 L72.96,338.73 L73.09,338.99 L73.22,338.94 L73.35,338.72 L73.48,338.75 L73.62,338.91 L73.75,338.94 L73.88,338.82 L74.01,339.02 L74.15,338.92 L74.28,338.89 L74.41,339.14 L74.54,338.80 L74.67,338.78 L74.81,338.75 L74.94,339.03 L75.07,339.02 L75.20,338.97 L75.34,339.03 L75.47,338.65 L75.60,338.99 L75.73,338.92 L75.86,338.87 L76.00,338.84 L76.13,338.73 L76.26,339.02 L76.39,338.80 L76.53,338.88 L76.66,339.03 L76.79,338.89 L76.92,339.06 L77.05,338.73 L77.19,338.99 L77.32,338.80 L77.45,338.77 L77.58,338.99 L77.72,339.02 L77.85,338.91 L77.98,339.04 L78.11,338.83 L78.24,338.91 L78.38,339.02 L78.51,339.01 L78.64,338.85 L78.77,339.10 L78.91,338.75 L79.04,339.03 L79.17,338.97 L79.30,339.05 L79.43,338.77 L79.57,338.86 L79.70,338.81 L79.83,338.88 L79.96,338.95 L80.10,338.77 L80.23,338.89 L80.36,338.92 L80.49,338.90 L80.62,338.89 L80.76,338.94 L80.89,338.99 L81.02,339.15 L81.15,338.75 L81.29,339.12 L81.42,339.22 L81.55,339.06 L81.68,338.77 L81.81,338.85 L81.95,339.06 L82.08,338.96 L82.21,339.00 L82.34,339.22 L82.48,339.04 L82.61,338.97 L82.74,338.87 L82.87,339.14 L83.00,339.26 L83.14,339.18 L83.27,338.98 L83.40,339.01 L83.53,339.00 L83.67,339.00 L83.80,339.06 L83.93,339.17 L84.06,338.98 L84.19,338.98 L84.33,338.97 L84.46,338.89 L84.59,339.17 L84.72,339.29 L84.86,339.24 L84.99,338.80 L85.12,339.14 L85.25,339.00 L85.38,339.05 L85.52,338.97 L85.65,338.70 L85.78,339.11 L85.91,339.07 L86.05,339.12 L86.18,339.03 L86.31,339.01 L86.44,339.17 L86.57,338.92 L86.71,338.94 L86.84,339.02 L86.97,339.09 L87.10,339.10 L87.24,339.26 L87.37,339.01 L87.50,339.19 L87.63,339.14 L87.76,338.98 L87.90,339.19 L88.03,339.15 L88.16,339.00 L88.29,338.89 L88.43,339.17 L88.56,338.98 L88.69,339.17 L88.82,339.06 L88.95,339.05 L89.09,339.23 L89.22,339.00 L89.35,338.92 L89.48,339.11 L89.62,339.09 L89.75,339.25 L89.88,338.93 L90.01,339.12 L90.14,339.27 L90.28,339.04 L90.41,339.29 L90.54,339.21 L90.67,339.37 L90.81,338.99 L90.94,338.90 L91.07,339.21 L91.20,339.21 L91.33,339.21 L91.47,339.21 L91.60,339.09 L91.73,338.99 L91.86,339.26 L92.00,339.11 L92.13,339.36 L92.26,339.00 L92.39,339.17 L92.52,339.24 L92.66,339.00 L92.79,339.18 L92.92,339.02 L93.05,339.06 L93.19,339.00 L93.32,339.27 L93.45,339.17 L93.58,339.14 L93.71,339.21 L93.85,339.02 L93.98,339.27 L94.11,339.08 L94.24,339.05 L94.38,339.41 L94.51,339.30 L94.64,339.30 L94.77,339.26 L94.90,339.16 L95.04,339.23 L95.17,339.20 L95.30,339.26 L95.43,339.22 L95.57,339.16 L95.70,339.14 L95.83,339.30 L95.96,339.23 L96.09,339.31 L96.23,339.25 L96.36,339.38 L96.49,339.13 L96.62,339.16 L96.76,339.25 L96.89,339.31 L97.02,339.29 L97.15,339.31 L97.28,339.41 L97.42,339.07 L97.55,338.89 L97.68,339.38 L97.81,339.38 L97.95,339.19 L98.08,339.19 L98.21,339.43 L98.34,339.47 L98.47,339.21 L98.61,339.48 L98.74,339.12 L98.87,339.32 L99.00,339.26 L99.14,339.28 L99.27,339.34 L99.40,339.29 L99.53,339.31 L99.66,339.15 L99.80,339.30 L99.93,339.29 L100.06,339.35 L100.19,339.36 L100.33,339.37 L100.46,339.30 L100.59,339.10 L100.72,339.18 L100.85,339.28 L100.99,339.13 L101.12,339.20 L101.25,339.29 L101.38,339.33 L101.52,339.43 L101.65,339.29 L101.78,339.35 L101.91,339.49 L102.04,339.46 L102.18,339.12 L102.31,339.30 L102.44,339.28 L102.57,339.31 L102.71,339.38 L102.84,339.29 L102.97,339.22 L103.10,339.37 L103.23,339.29 L103.37,339.24 L103.50,339.40 L103.63,339.33 L103.76,339.43 L103.90,339.29 L104.03,339.40 L104.16,339.24 L104.29,339.44 L104.42,339.18 L104.56,339.40 L104.69,339.46 L104.82,339.46 L104.95,339.30 L105.09,339.46 L105.22,339.19 L105.35,339.24 L105.48,339.33 L105.61,339.53 L105.75,339.39 L105.88,339.46 L106.01,339.58 L106.14,339.35 L106.28,339.16 L106.41,339.45 L106.54,339.31 L106.67,339.26 L106.80,339.50 L106.94,339.44 L107.07,339.38 L107.20,339.36 L107.33,339.53 L107.47,339.39 L107.60,339.43 L107.73,339.32 L107.86,339.59 L107.99,339.48 L108.13,339.48 L108.26,339.46 L108.39,339.35 L108.52,339.50 L108.66,339.15 L108.79,339.51 L108.92,339.35 L109.05,339.33 L109.18,339.34 L109.32,339.46 L109.45,339.53 L109.58,339.47 L109.71,339.38 L109.85,339.44 L109.98,339.39 L110.11,339.40 L110.24,339.55 L110.37,339.56 L110.51,339.31 L110.64,339.52 L110.77,339.63 L110.90,339.28 L111.04,339.56 L111.17,339.57 L111.30,339.38 L111.43,339.60 L111.56,339.57 L111.70,339.37 L111.83,339.57 L111.96,339.23 L112.09,339.48 L112.23,339.21 L112.36,339.48 L112.49,339.49 L112.62,339.56 L112.75,339.52 L112.89,339.55 L113.02,339.51 L113.15,339.43 L113.28,339.64 L113.42,339.61 L113.55,339.73 L113.68,339.36 L113.81,339.53 L113.94,339.52 L114.08,339.53 L114.21,339.42 L114.34,339.49 L114.47,339.42 L114.61,339.85 L114.74,339.59 L114.87,338.91 L115.00,337.87 L115.13,335.72 L115.27,334.66 L115.37,334.00 L115.40,334.21 L115.53,334.95 L115.66,336.78 L115.80,338.26 L115.93,339.15 L116.06,339.58 L116.19,339.78 L116.32,339.97 L116.46,339.76 L116.59,340.05 L116.72,339.97 L116.85,339.87 L116.99,339.99 L117.12,339.98 L117.25,340.01 L117.38,339.85 L117.51,340.22 L117.65,339.86 L117.78,339.88 L117.91,339.99 L118.04,339.94 L118.18,340.08 L118.31,339.89 L118.44,339.70 L118.57,340.09 L118.70,339.87 L118.84,340.01 L118.97,340.04 L119.10,340.05 L119.23,340.03 L119.37,340.13 L119.50,340.14 L119.63,339.86 L119.76,340.02 L119.89,339.97 L120.03,339.99 L120.16,339.98 L120.29,340.17 L120.42,340.12 L120.56,339.97 L120.69,339.94 L120.82,340.15 L120.95,340.10 L121.08,340.15 L121.22,339.98 L121.35,340.02 L121.48,340.05 L121.61,340.11 L121.75,340.02 L121.88,340.05 L122.01,340.13 L122.14,340.03 L122.27,340.13 L122.41,339.98 L122.54,340.01 L122.67,340.14 L122.80,340.02 L122.94,340.07 L123.07,340.15 L123.20,340.17 L123.33,340.24 L123.46,340.19 L123.60,340.06 L123.73,339.98 L123.86,340.15 L123.99,340.08 L124.13,340.06 L124.26,340.03 L124.39,340.06 L124.52,339.99 L124.65,340.03 L124.79,340.18 L124.92,340.07 L125.05,340.33 L125.18,340.13 L125.32,340.12 L125.45,340.07 L125.58,340.15 L125.71,340.05 L125.84,340.00 L125.98,340.21 L126.11,340.18 L126.24,340.11 L126.37,340.09 L126.51,340.13 L126.64,340.06 L126.77,340.25 L126.90,340.07 L127.03,340.04 L127.17,340.05 L127.30,340.11 L127.43,340.18 L127.56,340.12 L127.70,340.17 L127.83,340.31 L127.96,340.22 L128.09,340.17 L128.22,340.22 L128.36,340.26 L128.49,340.20 L128.62,340.21 L128.75,340.17 L128.89,340.19 L129.02,340.17 L129.15,340.09 L129.28,340.18 L129.41,340.15 L129.55,340.31 L129.68,340.47 L129.81,340.24 L129.94,340.14 L130.08,340.23 L130.21,340.92 L130.34,340.97 L130.47,340.80 L130.60,340.91 L130.74,340.85 L130.87,340.78 L131.00,340.83 L131.13,340.70 L131.27,340.89 L131.40,340.80 L131.53,340.81 L131.66,340.82 L131.79,340.36 L131.93,338.98 L132.06,334.82 L132.19,324.28 L132.32,304.43 L132.46,271.78 L132.59,234.91 L132.72,202.42 L132.85,189.19 L132.85,189.13 L132.98,202.41 L133.12,234.45 L133.25,272.87 L133.38,304.67 L133.51,324.95 L133.65,334.88 L133.78,338.77 L133.91,340.35 L134.04,340.78 L134.17,340.93 L134.31,340.92 L134.44,340.89 L134.57,341.03 L134.70,340.98 L134.84,340.99 L134.97,340.82 L135.10,341.01 L135.23,340.83 L135.36,340.97 L135.50,340.71 L135.63,340.94 L135.76,340.93 L135.89,340.83 L136.03,340.87 L136.16,340.86 L136.29,341.02 L136.42,340.85 L136.55,340.81 L136.69,340.95 L136.82,340.98 L136.95,341.03 L137.08,340.87 L137.22,340.93 L137.35,340.95 L137.48,341.05 L137.61,340.83 L137.74,340.89 L137.88,340.96 L138.01,340.84 L138.14,341.04 L138.27,340.89 L138.41,341.04 L138.54,340.86 L138.67,340.99 L138.80,340.87 L138.93,341.00 L139.07,340.94 L139.20,340.88 L139.33,341.05 L139.46,340.97 L139.60,341.04 L139.73,340.91 L139.86,341.03 L139.99,341.01 L140.12,341.00 L140.26,340.90 L140.39,341.07 L140.52,340.99 L140.65,341.02 L140.79,341.04 L140.92,341.06 L141.05,341.01 L141.18,340.98 L141.31,341.12 L141.45,340.98 L141.58,341.09 L141.71,341.00 L141.84,340.83 L141.98,341.08 L142.11,341.01 L142.24,341.03 L142.37,340.94 L142.50,341.05 L142.64,341.15 L142.77,341.14 L142.90,341.00 L143.03,341.00 L143.17,340.94 L143.30,341.06 L143.43,340.97 L143.56,341.11 L143.69,340.93 L143.83,341.03 L143.96,341.08 L144.09,341.02 L144.22,340.90 L144.36,341.10 L144.49,341.13 L144.62,341.12 L144.75,341.13 L144.88,341.05 L145.02,341.02 L145.15,341.06 L145.28,341.03 L145.41,340.96 L145.55,341.07 L145.68,341.15 L145.81,341.23 L145.94,341.04 L146.07,341.11 L146.21,341.08 L146.34,341.03 L146.47,341.02 L146.60,341.18 L146.74,341.14 L146.87,341.06 L147.00,341.08 L147.13,340.98 L147.26,341.11 L147.40,341.23 L147.53,340.98 L147.66,341.20 L147.79,341.15 L147.93,341.05 L148.06,341.16 L148.19,340.89 L148.32,341.06 L148.45,341.04 L148.59,341.12 L148.72,340.92 L148.85,341.05 L148.98,341.14 L149.12,341.00 L149.25,341.22 L149.38,341.14 L149.51,341.07 L149.64,341.09 L149.78,341.17 L149.91,340.98 L150.04,340.99 L150.17,341.17 L150.31,341.08 L150.44,341.15 L150.57,341.14 L150.70,341.04 L150.83,341.10 L150.97,341.12 L151.10,341.11 L151.23,341.20 L151.36,341.03 L151.50,341.18 L151.63,341.02 L151.76,341.16 L151.89,341.16 L152.02,341.01 L152.16,341.11 L152.29,341.18 L152.42,341.17 L152.55,341.09 L152.69,340.99 L152.82,341.09 L152.95,341.17 L153.08,341.22 L153.21,341.18 L153.35,341.11 L153.48,341.01 L153.61,340.93 L153.74,340.49 L153.88,340.28 L154.01,339.80 L154.14,339.29 L154.27,339.20 L154.27,339.15 L154.40,339.39 L154.54,339.64 L154.67,340.34 L154.80,340.48 L154.93,341.19 L155.07,341.37 L155.20,341.57 L155.33,341.48 L155.46,341.61 L155.59,341.53 L155.73,341.63 L155.86,341.61 L155.99,341.59 L156.12,341.73 L156.26,341.64 L156.39,341.51 L156.52,341.81 L156.65,341.60 L156.78,341.57 L156.92,341.61 L157.05,341.62 L157.18,341.54 L157.31,341.61 L157.45,341.75 L157.58,341.69 L157.71,341.65 L157.84,341.63 L157.97,341.67 L158.11,341.65 L158.24,341.54 L158.37,341.83 L158.50,341.57 L158.64,341.59 L158.77,341.61 L158.90,341.65 L159.03,341.64 L159.16,341.63 L159.30,341.64 L159.43,341.70 L159.56,341.60 L159.69,341.71 L159.83,341.66 L159.96,341.68 L160.09,341.73 L160.22,341.62 L160.35,341.67 L160.49,341.74 L160.62,341.67 L160.75,341.75 L160.88,341.58 L161.02,341.64 L161.15,341.54 L161.28,341.71 L161.41,341.63 L161.54,341.73 L161.68,341.73 L161.81,341.68 L161.94,341.65 L162.07,341.62 L162.21,341.70 L162.34,341.61 L162.47,341.62 L162.60,341.74 L162.73,341.69 L162.87,341.74 L163.00,341.58 L163.13,341.72 L163.26,341.63 L163.40,341.63 L163.53,341.71 L163.66,341.72 L163.79,341.67 L163.92,341.74 L164.06,341.77 L164.19,341.76 L164.32,341.68 L164.45,341.69 L164.59,341.59 L164.72,341.81 L164.85,341.67 L164.98,341.78 L165.11,341.64 L165.25,341.66 L165.38,341.70 L165.51,341.62 L165.64,341.73 L165.78,341.74 L165.91,341.78 L166.04,341.75 L166.17,341.71 L166.30,341.68 L166.44,341.64 L166.57,341.74 L166.70,341.77 L166.83,341.74 L166.97,341.75 L167.10,341.75 L167.23,341.75 L167.36,341.78 L167.49,341.73 L167.63,341.76 L167.76,341.74 L167.89,341.82 L168.02,341.72 L168.16,341.70 L168.29,341.70 L168.42,341.77 L168.55,341.81 L168.68,341.82 L168.82,341.81 L168.95,341.78 L169.08,341.76 L169.21,341.85 L169.35,341.71 L169.48,341.84 L169.61,341.79 L169.74,341.79 L169.87,341.70 L170.01,341.64 L170.14,341.77 L170.27,341.77 L170.40,341.78 L170.54,341.77 L170.67,341.77 L170.80,341.61 L170.93,341.83 L171.06,341.77 L171.20,341.81 L171.33,341.74 L171.46,341.80 L171.59,341.73 L171.73,341.83 L171.86,341.64 L171.99,341.76 L172.12,341.88 L172.25,341.73 L172.39,341.80 L172.52,341.84 L172.65,341.75 L172.78,341.81 L172.92,341.74 L173.05,341.81 L173.18,341.73 L173.31,341.77 L173.44,341.76 L173.58,341.78 L173.71,341.81 L173.84,341.81 L173.97,341.76 L174.11,341.75 L174.24,341.82 L174.37,341.66 L174.50,341.70 L174.63,341.86 L174.77,341.73 L174.90,341.80 L175.03,341.79 L175.16,341.85 L175.30,341.71 L175.43,341.85 L175.56,341.81 L175.69,341.85 L175.82,341.69 L175.96,341.74 L176.09,341.89 L176.22,341.84 L176.35,341.79 L176.49,341.84 L176.62,341.84 L176.75,341.88 L176.88,341.80 L177.01,341.88 L177.15,341.77 L177.28,341.68 L177.41,341.84 L177.54,341.73 L177.68,341.80 L177.81,341.86 L177.94,341.85 L178.07,341.88 L178.20,341.82 L178.34,341.79 L178.47,341.78 L178.60,341.85 L178.73,341.90 L178.87,341.84 L179.00,341.74 L179.13,341.82 L179.26,341.84 L179.39,341.96 L179.53,341.87 L179.66,341.81 L179.79,341.90 L179.92,341.77 L180.06,341.88 L180.19,341.90 L180.32,341.88 L180.45,341.86 L180.58,341.80 L180.72,341.89 L180.85,341.96 L180.98,341.86 L181.11,341.83 L181.25,341.77 L181.38,342.17 L181.51,342.05 L181.64,342.09 L181.77,342.10 L181.91,342.16 L182.04,342.16 L182.17,342.17 L182.30,342.08 L182.44,342.11 L182.57,342.07 L182.70,342.04 L182.83,342.13 L182.96,342.13 L183.10,342.04 L183.23,342.19 L183.36,342.15 L183.49,342.15 L183.63,342.15 L183.76,342.13 L183.89,342.17 L184.02,342.08 L184.15,342.19 L184.29,342.11 L184.42,341.92 L184.55,341.00 L184.68,337.94 L184.82,330.59 L184.95,315.67 L185.08,290.23 L185.21,257.85 L185.34,227.96 L185.48,211.36 L185.51,210.61 L185.61,216.78 L185.74,240.77 L185.87,275.06 L186.01,304.20 L186.14,324.22 L186.27,334.94 L186.40,339.79 L186.53,341.44 L186.67,342.06 L186.80,342.13 L186.93,342.24 L187.06,342.15 L187.20,342.04 L187.33,342.14 L187.46,342.15 L187.59,342.14 L187.72,342.15 L187.86,342.22 L187.99,342.19 L188.12,342.17 L188.25,342.15 L188.39,342.20 L188.52,342.17 L188.65,342.20 L188.78,342.22 L188.91,342.19 L189.05,342.20 L189.18,342.12 L189.31,342.10 L189.44,342.14 L189.58,342.18 L189.71,342.19 L189.84,342.24 L189.97,342.19 L190.10,342.10 L190.24,342.12 L190.37,342.16 L190.50,342.18 L190.63,342.17 L190.77,342.15 L190.90,342.17 L191.03,342.15 L191.16,342.21 L191.29,342.17 L191.43,342.19 L191.56,342.13 L191.69,342.24 L191.82,342.12 L191.96,342.18 L192.09,342.20 L192.22,342.18 L192.35,342.18 L192.48,342.19 L192.62,342.16 L192.75,342.21 L192.88,342.26 L193.01,342.15 L193.15,342.19 L193.28,342.11 L193.41,342.17 L193.54,342.28 L193.67,342.13 L193.81,342.22 L193.94,342.17 L194.07,342.09 L194.20,342.14 L194.34,342.25 L194.47,342.20 L194.60,342.27 L194.73,342.17 L194.86,342.17 L195.00,342.25 L195.13,342.18 L195.26,342.16 L195.39,342.16 L195.53,342.23 L195.66,342.23 L195.79,342.25 L195.92,342.26 L196.05,342.19 L196.19,342.20 L196.32,342.15 L196.45,342.19 L196.58,342.22 L196.72,342.27 L196.85,342.14 L196.98,342.20 L197.11,342.21 L197.24,342.26 L197.38,342.26 L197.51,342.18 L197.64,342.26 L197.77,342.19 L197.91,342.19 L198.04,342.23 L198.17,342.29 L198.30,342.20 L198.43,342.15 L198.57,342.26 L198.70,342.28 L198.83,342.17 L198.96,342.22 L199.10,342.25 L199.23,342.17 L199.36,342.24 L199.49,342.20 L199.62,342.24 L199.76,342.26 L199.89,342.22 L200.02,342.27 L200.15,342.31 L200.29,342.25 L200.42,342.17 L200.55,342.18 L200.68,342.13 L200.81,342.19 L200.95,342.16 L201.08,342.22 L201.21,342.25 L201.34,342.21 L201.48,342.28 L201.61,342.20 L201.74,342.26 L201.87,342.23 L202.00,342.28 L202.14,342.25 L202.27,342.20 L202.40,342.25 L202.53,342.27 L202.67,342.23 L202.80,342.21 L202.93,342.25 L203.06,342.30 L203.19,342.32 L203.33,342.31 L203.46,342.20 L203.59,342.25 L203.72,342.23 L203.86,342.20 L203.99,342.24 L204.12,342.23 L204.25,342.27 L204.38,342.33 L204.52,342.23 L204.65,342.26 L204.78,342.23 L204.91,342.30 L205.05,342.26 L205.18,342.17 L205.31,342.30 L205.44,342.26 L205.57,342.20 L205.71,342.27 L205.84,342.26 L205.97,342.36 L206.10,342.23 L206.24,342.28 L206.37,342.21 L206.50,342.27 L206.63,342.28 L206.76,342.25 L206.90,342.28 L207.03,342.29 L207.16,342.20 L207.29,342.23 L207.43,342.27 L207.56,342.24 L207.69,342.24 L207.82,342.25 L207.95,342.27 L208.09,342.27 L208.22,342.26 L208.35,342.25 L208.48,342.26 L208.62,342.30 L208.75,342.28 L208.88,342.26 L209.01,342.32 L209.14,342.28 L209.28,342.25 L209.41,342.28 L209.54,342.30 L209.67,342.29 L209.81,342.31 L209.94,342.24 L210.07,342.30 L210.20,342.36 L210.33,342.34 L210.47,342.28 L210.60,342.28 L210.73,342.31 L210.86,342.35 L211.00,342.30 L211.13,342.33 L211.26,342.32 L211.39,342.29 L211.52,342.33 L211.66,342.28 L211.79,342.33 L211.92,342.32 L212.05,342.31 L212.19,342.24 L212.32,342.23 L212.45,342.26 L212.58,342.33 L212.71,342.30 L212.85,342.27 L212.98,342.27 L213.11,342.37 L213.24,342.31 L213.38,342.34 L213.51,342.28 L213.64,342.28 L213.77,342.33 L213.90,342.22 L214.04,342.32 L214.17,342.21 L214.30,342.32 L214.43,342.32 L214.57,342.24 L214.70,342.34 L214.83,342.33 L214.96,342.25 L215.09,342.32 L215.23,342.30 L215.36,342.37 L215.49,342.24 L215.62,342.28 L215.76,342.31 L215.89,342.29 L216.02,342.34 L216.15,342.34 L216.28,342.39 L216.42,342.31 L216.55,342.27 L216.68,342.29 L216.81,342.29 L216.95,342.30 L217.08,342.37 L217.21,342.38 L217.34,342.30 L217.47,342.32 L217.61,342.29 L217.74,342.34 L217.87,342.37 L218.00,342.32 L218.14,342.36 L218.27,342.40 L218.40,342.36 L218.53,342.37 L218.66,342.38 L218.80,342.36 L218.93,342.30 L219.06,342.25 L219.19,342.27 L219.33,342.36 L219.46,342.30 L219.59,342.35 L219.72,342.33 L219.85,342.37 L219.99,342.35 L220.12,342.41 L220.25,342.27 L220.38,342.38 L220.52,342.33 L220.65,342.37 L220.78,342.34 L220.91,342.40 L221.04,342.37 L221.18,342.32 L221.31,342.33 L221.44,342.43 L221.57,342.32 L221.71,342.41 L221.84,342.35 L221.97,342.34 L222.10,342.38 L222.23,342.37 L222.37,342.37 L222.50,342.34 L222.63,342.33 L222.76,342.31 L222.90,342.35 L223.03,342.29 L223.16,342.40 L223.29,342.30 L223.42,342.38 L223.56,342.34 L223.69,342.37 L223.82,342.37 L223.95,342.41 L224.09,342.35 L224.22,342.29 L224.35,342.37 L224.48,342.37 L224.61,342.37 L224.75,342.35 L224.88,342.38 L225.01,342.38 L225.14,342.37 L225.28,342.33 L225.41,342.34 L225.54,342.42 L225.67,342.40 L225.80,342.38 L225.94,342.35 L226.07,342.34 L226.20,342.39 L226.33,342.30 L226.47,342.39 L226.60,342.31 L226.73,342.24 L226.86,341.98 L226.99,341.28 L227.13,339.23 L227.26,335.15 L227.39,327.43 L227.52,315.68 L227.66,302.05 L227.79,291.01 L227.92,287.18 L227.92,287.23 L228.05,291.02 L228.18,302.10 L228.32,315.09 L228.45,327.40 L228.58,335.05 L228.71,339.40 L228.85,341.37 L228.98,341.99 L229.11,342.35 L229.24,342.42 L229.37,342.41 L229.51,342.37 L229.64,342.42 L229.77,342.38 L229.90,342.38 L230.04,342.43 L230.17,342.49 L230.30,342.44 L230.43,342.45 L230.56,342.35 L230.70,342.44 L230.83,342.45 L230.96,342.46 L231.09,342.47 L231.23,342.50 L231.36,342.43 L231.49,342.44 L231.62,342.46 L231.75,342.50 L231.89,342.50 L232.02,342.54 L232.15,342.46 L232.28,342.46 L232.42,342.51 L232.55,342.47 L232.68,342.35 L232.81,342.51 L232.94,342.53 L233.08,342.45 L233.21,342.49 L233.34,342.49 L233.47,342.45 L233.61,342.48 L233.74,342.44 L233.87,342.46 L234.00,342.43 L234.13,342.47 L234.27,342.55 L234.40,342.43 L234.53,342.54 L234.66,342.44 L234.80,342.47 L234.93,342.52 L235.06,342.47 L235.19,342.44 L235.32,342.51 L235.46,342.47 L235.59,342.50 L235.72,342.51 L235.85,342.50 L235.99,342.43 L236.12,342.45 L236.25,342.48 L236.38,342.48 L236.51,342.47 L236.65,342.47 L236.78,342.47 L236.91,342.54 L237.04,342.45 L237.18,342.51 L237.31,342.57 L237.44,342.45 L237.57,342.52 L237.70,342.48 L237.84,342.48 L237.97,342.50 L238.10,342.46 L238.23,342.49 L238.37,342.49 L238.50,342.51 L238.63,342.49 L238.76,342.52 L238.89,342.48 L239.03,342.43 L239.16,342.45 L239.29,342.47 L239.42,342.53 L239.56,342.45 L239.69,342.45 L239.82,342.41 L239.95,342.56 L240.08,342.48 L240.22,342.49 L240.35,342.44 L240.48,342.52 L240.61,342.50 L240.75,342.40 L240.88,342.45 L241.01,342.55 L241.14,342.48 L241.27,342.44 L241.41,342.51 L241.54,342.46 L241.67,342.48 L241.80,342.54 L241.94,342.51 L242.07,342.45 L242.20,342.44 L242.33,342.51 L242.46,342.45 L242.60,342.51 L242.73,342.48 L242.86,342.49 L242.99,342.53 L243.13,342.48 L243.26,342.50 L243.39,342.58 L243.52,342.52 L243.65,342.52 L243.79,342.52 L243.92,342.52 L244.05,342.51 L244.18,342.57 L244.32,342.46 L244.45,342.49 L244.58,342.48 L244.71,342.50 L244.84,342.49 L244.98,342.50 L245.11,342.53 L245.24,342.54 L245.37,342.49 L245.51,342.46 L245.64,342.48 L245.77,342.44 L245.90,342.54 L246.03,342.50 L246.17,342.51 L246.30,342.45 L246.43,342.43 L246.56,342.51 L246.70,342.47 L246.83,342.50 L246.96,342.53 L247.09,342.50 L247.22,342.53 L247.36,342.44 L247.49,342.47 L247.62,342.45 L247.75,342.48 L247.89,342.58 L248.02,342.47 L248.15,342.49 L248.28,342.58 L248.41,342.49 L248.55,342.46 L248.68,342.44 L248.81,342.53 L248.94,342.47 L249.08,342.48 L249.21,342.50 L249.34,342.51 L249.47,342.48 L249.60,342.48 L249.74,342.47 L249.87,342.51 L250.00,342.54 L250.13,342.45 L250.27,342.45 L250.40,342.52 L250.53,342.50 L250.66,342.47 L250.79,342.56 L250.93,342.48 L251.06,342.42 L251.19,342.49 L251.32,342.52 L251.46,342.43 L251.59,342.50 L251.72,342.49 L251.85,342.51 L251.98,342.49 L252.12,342.56 L252.25,342.55 L252.38,342.55 L252.51,342.47 L252.65,342.50 L252.78,342.46 L252.91,342.57 L253.04,342.52 L253.17,342.45 L253.31,342.53 L253.44,342.57 L253.57,342.53 L253.70,342.51 L253.84,342.50 L253.97,342.46 L254.10,342.46 L254.23,342.45 L254.36,342.48 L254.50,342.52 L254.63,342.52 L254.76,342.55 L254.89,342.46 L255.03,342.46 L255.16,342.50 L255.29,342.53 L255.42,342.48 L255.55,342.49 L255.69,342.50 L255.82,342.54 L255.95,342.50 L256.08,342.52 L256.22,342.48 L256.35,342.49 L256.48,342.49 L256.61,342.52 L256.74,342.45 L256.88,342.48 L257.01,342.46 L257.14,342.48 L257.27,342.48 L257.41,342.49 L257.54,342.54 L257.67,342.57 L257.80,342.54 L257.93,342.49 L258.07,342.48 L258.20,342.50 L258.33,342.51 L258.46,342.45 L258.60,342.52 L258.73,342.57 L258.86,342.56 L258.99,342.52 L259.12,342.49 L259.26,342.49 L259.39,342.52 L259.52,342.48 L259.65,342.51 L259.79,342.54 L259.92,342.52 L260.05,342.49 L260.18,342.48 L260.31,342.55 L260.45,342.55 L260.58,342.51 L260.71,342.44 L260.84,342.55 L260.98,342.56 L261.11,342.50 L261.24,342.50 L261.37,342.53 L261.50,342.51 L261.64,342.50 L261.77,342.57 L261.90,342.51 L262.03,342.49 L262.17,342.48 L262.30,342.47 L262.43,342.52 L262.56,342.56 L262.69,342.47 L262.83,342.49 L262.96,342.54 L263.09,342.48 L263.22,342.48 L263.36,342.52 L263.49,342.59 L263.62,342.53 L263.75,342.54 L263.88,342.55 L264.02,342.52 L264.15,342.55 L264.28,342.50 L264.41,342.45 L264.55,342.56 L264.68,342.48 L264.81,342.54 L264.94,342.50 L265.07,342.52 L265.21,342.47 L265.34,342.54 L265.47,342.49 L265.60,342.54 L265.74,342.51 L265.87,342.52 L266.00,342.48 L266.13,342.57 L266.26,342.57 L266.40,342.47 L266.53,342.51 L266.66,342.46 L266.79,342.56 L266.93,342.51 L267.06,342.50 L267.19,342.46 L267.32,342.52 L267.45,342.54 L267.59,342.50 L267.72,342.53 L267.85,342.55 L267.98,342.50 L268.12,342.59 L268.25,342.55 L268.38,342.47 L268.51,342.53 L268.64,342.51 L268.78,342.46 L268.91,342.40 L269.04,342.38 L269.17,342.37 L269.31,342.28 L269.44,342.12 L269.57,342.09 L269.70,342.04 L269.83,341.91 L269.97,341.94 L269.97,341.88 L270.10,341.84 L270.23,342.06 L270.36,342.12 L270.50,342.20 L270.63,342.24 L270.76,342.36 L270.89,342.36 L271.02,342.55 L271.16,342.45 L271.29,342.52 L271.42,342.52 L271.55,342.50 L271.69,342.52 L271.82,342.56 L271.95,342.48 L272.08,342.51 L272.21,342.54 L272.35,342.52 L272.48,342.57 L272.61,342.57 L272.74,342.54 L272.88,342.52 L273.01,342.53 L273.14,342.56 L273.27,342.58 L273.40,342.59 L273.54,342.48 L273.67,342.52 L273.80,342.56 L273.93,342.49 L274.07,342.51 L274.20,342.55 L274.33,342.55 L274.46,342.49 L274.59,342.52 L274.73,342.48 L274.86,342.52 L274.99,342.55 L275.12,342.55 L275.26,342.56 L275.39,342.52 L275.52,342.52 L275.65,342.51 L275.78,342.52 L275.92,342.57 L276.05,342.54 L276.18,342.56 L276.31,342.52 L276.45,342.58 L276.58,342.55 L276.71,342.56 L276.84,342.56 L276.97,342.54 L277.11,342.49 L277.24,342.54 L277.37,342.58 L277.50,342.55 L277.64,342.51 L277.77,342.52 L277.90,342.53 L278.03,342.47 L278.16,342.50 L278.30,342.53 L278.43,342.50 L278.56,342.58 L278.69,342.54 L278.83,342.57 L278.96,342.53 L279.09,342.49 L279.22,342.55 L279.35,342.49 L279.49,342.57 L279.62,342.49 L279.75,342.59 L279.88,342.57 L280.02,342.51 L280.15,342.54 L280.28,342.54 L280.41,342.54 L280.54,342.53 L280.68,342.55 L280.81,342.57 L280.94,342.55 L281.07,342.54 L281.21,342.57 L281.34,342.53 L281.47,342.48 L281.60,342.60 L281.73,342.56 L281.87,342.55 L282.00,342.54 L282.13,342.54 L282.26,342.57 L282.40,342.54 L282.53,342.54 L282.66,342.55 L282.79,342.49 L282.92,342.54 L283.06,342.59 L283.19,342.60 L283.32,342.53 L283.45,342.56 L283.59,342.56 L283.72,342.59 L283.85,342.55 L283.98,342.55 L284.11,342.57 L284.25,342.56 L284.38,342.52 L284.51,342.52 L284.64,342.53 L284.78,342.55 L284.91,342.59 L285.04,342.52 L285.17,342.50 L285.30,342.51 L285.44,342.51 L285.57,342.54 L285.70,342.54 L285.83,342.55 L285.97,342.51 L286.10,342.56 L286.23,342.48 L286.36,342.52 L286.49,342.56 L286.63,342.55 L286.76,342.60 L286.89,342.57 L287.02,342.56 L287.16,342.47 L287.29,342.58 L287.42,342.52 L287.55,342.55 L287.68,342.56 L287.82,342.53 L287.95,342.62 L288.08,342.52 L288.21,342.49 L288.35,342.54 L288.48,342.55 L288.61,342.55 L288.74,342.53 L288.87,342.57 L289.01,342.55 L289.14,342.54 L289.27,342.56 L289.40,342.54 L289.54,342.54 L289.67,342.53 L289.80,342.59 L289.93,342.57 L290.06,342.57 L290.20,342.52 L290.33,342.55 L290.46,342.61 L290.59,342.60 L290.73,342.49 L290.86,342.54 L290.99,342.60 L291.12,342.58 L291.25,342.55 L291.39,342.51 L291.52,342.50 L291.65,342.57 L291.78,342.57 L291.92,342.49 L292.05,342.59 L292.18,342.51 L292.31,342.55 L292.44,342.55 L292.58,342.52 L292.71,342.54 L292.84,342.58 L292.97,342.61 L293.11,342.56 L293.24,342.54 L293.37,342.52 L293.50,342.64 L293.63,342.52 L293.77,342.54 L293.90,342.51 L294.03,342.53 L294.16,342.55 L294.30,342.55 L294.43,342.55 L294.56,342.58 L294.69,342.56 L294.82,342.56 L294.96,342.57 L295.09,342.61 L295.22,342.61 L295.35,342.55 L295.49,342.55 L295.62,342.56 L295.75,342.60 L295.88,342.53 L296.01,342.57 L296.15,342.63 L296.28,342.51 L296.41,342.61 L296.54,342.49 L296.68,342.55 L296.81,342.58 L296.94,342.64 L297.07,342.59 L297.20,342.52 L297.34,342.52 L297.47,342.56 L297.60,342.62 L297.73,342.58 L297.87,342.57 L298.00,342.55 L298.13,342.57 L298.26,342.55 L298.39,342.62 L298.53,342.59 L298.66,342.52 L298.79,342.61 L298.92,342.54 L299.06,342.49 L299.19,342.55 L299.32,342.61 L299.45,342.53 L299.58,342.63 L299.72,342.56 L299.85,342.58 L299.98,342.53 L300.11,342.53 L300.25,342.56 L300.38,342.51 L300.51,342.54 L300.64,342.58 L300.77,342.60 L300.91,342.49 L301.04,342.58 L301.17,342.56 L301.30,342.57 L301.44,342.58 L301.57,342.62 L301.70,342.57 L301.83,342.57 L301.96,342.54 L302.10,342.59 L302.23,342.62 L302.36,342.60 L302.49,342.57 L302.63,342.56 L302.76,342.55 L302.89,342.58 L303.02,342.56 L303.15,342.57 L303.29,342.52 L303.42,342.57 L303.55,342.57 L303.68,342.56 L303.82,342.54 L303.95,342.60 L304.08,342.59 L304.21,342.58 L304.34,342.64 L304.48,342.53 L304.61,342.54 L304.74,342.57 L304.87,342.47 L305.01,342.54 L305.14,342.51 L305.27,342.53 L305.40,342.55 L305.53,342.62 L305.67,342.53 L305.80,342.56 L305.93,342.61 L306.06,342.57 L306.20,342.55 L306.33,342.55 L306.46,342.57 L306.59,342.59 L306.72,342.55 L306.86,342.60 L306.99,342.58 L307.12,342.55 L307.25,342.62 L307.39,342.57 L307.52,342.64 L307.65,342.61 L307.78,342.62 L307.91,342.58 L308.05,342.56 L308.18,342.58 L308.31,342.55 L308.44,342.58 L308.58,342.59 L308.71,342.57 L308.84,342.59 L308.97,342.58 L309.10,342.55 L309.24,342.60 L309.37,342.55 L309.50,342.62 L309.63,342.59 L309.77,342.63 L309.90,342.60 L310.03,342.53 L310.16,342.57 L310.29,342.54 L310.43,342.63 L310.56,342.61 L310.69,342.57 L310.82,342.56 L310.96,342.56 L311.09,342.63 L311.22,342.57 L311.35,342.59 L311.48,342.58 L311.62,342.57 L311.75,342.59 L311.88,342.64 L312.01,342.62 L312.15,342.63 L312.28,342.63 L312.41,342.59 L312.54,342.55 L312.67,342.61 L312.81,342.61 L312.94,342.62 L313.07,342.64 L313.20,342.58 L313.34,342.60 L313.47,342.59 L313.60,342.62 L313.73,342.57 L313.86,342.62 L314.00,342.57 L314.13,342.61 L314.26,342.56 L314.39,342.62 L314.53,342.58 L314.66,342.58 L314.79,342.59 L314.92,342.54 L315.05,342.58 L315.19,342.62 L315.32,342.57 L315.45,342.61 L315.58,342.61 L315.72,342.59 L315.85,342.58 L315.98,342.54 L316.11,342.64 L316.24,342.60 L316.38,342.56 L316.51,342.60 L316.64,342.58 L316.77,342.55 L316.91,342.63 L317.04,342.59 L317.17,342.57 L317.30,342.61 L317.43,342.65 L317.57,342.62 L317.70,342.59 L317.83,342.59 L317.96,342.54 L318.10,342.55 L318.23,342.64 L318.36,342.56 L318.49,342.57 L318.62,342.55 L318.76,342.60 L318.89,342.61 L319.02,342.59 L319.15,342.55 L319.29,342.58 L319.42,342.54 L319.55,342.57 L319.68,342.61 L319.81,342.63 L319.95,342.54 L320.08,342.64 L320.21,342.61 L320.34,342.61 L320.48,342.62 L320.61,342.61 L320.74,342.60 L320.87,342.53 L321.00,342.60 L321.14,342.61 L321.27,342.59 L321.40,342.57 L321.53,342.62 L321.67,342.61 L321.80,342.65 L321.93,342.58 L322.06,342.58 L322.19,342.55 L322.33,342.64 L322.46,342.53 L322.59,342.57 L322.72,342.61 L322.86,342.61 L322.99,342.61 L323.12,342.64 L323.25,342.58 L323.38,342.62 L323.52,342.62 L323.65,342.59 L323.78,342.60 L323.91,342.62 L324.05,342.61 L324.18,342.62 L324.31,342.56 L324.44,342.57 L324.57,342.62 L324.71,342.60 L324.84,342.56 L324.97,342.61 L325.10,342.55 L325.24,342.59 L325.37,342.58 L325.50,342.67 L325.63,342.58 L325.76,342.59 L325.90,342.59 L326.03,342.59 L326.16,342.59 L326.29,342.62 L326.43,342.58 L326.56,342.60 L326.69,342.63 L326.82,342.63 L326.95,342.57 L327.09,342.53 L327.22,342.53 L327.35,342.37 L327.48,341.94 L327.62,341.55 L327.75,340.73 L327.88,340.37 L328.01,339.56 L328.14,339.04 L328.28,338.65 L328.31,338.70 L328.41,338.64 L328.54,339.06 L328.67,339.97 L328.81,340.50 L328.94,341.35 L329.07,341.77 L329.20,342.15 L329.33,342.36 L329.47,342.53 L329.60,342.52 L329.73,342.60 L329.86,342.61 L330.00,342.62 L330.13,342.64 L330.26,342.59 L330.39,342.60 L330.52,342.60 L330.66,342.56 L330.79,342.64 L330.92,342.62 L331.05,342.61 L331.19,342.59 L331.32,342.62 L331.45,342.59 L331.58,342.60 L331.71,342.66 L331.85,342.63 L331.98,342.67 L332.11,342.62 L332.24,342.63 L332.38,342.60 L332.51,342.61 L332.64,342.62 L332.77,342.58 L332.90,342.60 L333.04,342.65 L333.17,342.64 L333.30,342.61 L333.43,342.57 L333.57,342.62 L333.70,342.62 L333.83,342.61 L333.96,342.59 L334.09,342.62 L334.23,342.61 L334.36,342.63 L334.49,342.63 L334.62,342.64 L334.76,342.60 L334.89,342.63 L335.02,342.60 L335.15,342.61 L335.28,342.59 L335.42,342.70 L335.55,342.65 L335.68,342.65 L335.81,342.62 L335.95,342.60 L336.08,342.55 L336.21,342.57 L336.34,342.58 L336.47,342.61 L336.61,342.63 L336.74,342.60 L336.87,342.68 L337.00,342.59 L337.14,342.62 L337.27,342.60 L337.40,342.65 L337.53,342.65 L337.66,342.64 L337.80,342.62 L337.93,342.61 L338.06,342.63 L338.19,342.61 L338.33,342.60 L338.46,342.66 L338.59,342.63 L338.72,342.67 L338.85,342.64 L338.99,342.60 L339.12,342.64 L339.25,342.57 L339.38,342.61 L339.52,342.60 L339.65,342.62 L339.78,342.60 L339.91,342.59 L340.04,342.62 L340.18,342.64 L340.31,342.64 L340.44,342.57 L340.57,342.63 L340.71,342.64 L340.84,342.65 L340.97,342.68 L341.10,342.64 L341.23,342.62 L341.37,342.64 L341.50,342.65 L341.63,342.62 L341.76,342.61 L341.90,342.64 L342.03,342.62 L342.16,342.66 L342.29,342.60 L342.42,342.66 L342.56,342.64 L342.69,342.62 L342.82,342.64 L342.95,342.66 L343.09,342.57 L343.22,342.59 L343.35,342.68 L343.48,342.63 L343.61,342.67 L343.75,342.62 L343.88,342.67 L344.01,342.61 L344.14,342.61 L344.28,342.58 L344.41,342.60 L344.54,342.64 L344.67,342.60 L344.80,342.64 L344.94,342.63 L345.07,342.64 L345.20,342.68 L345.33,342.61 L345.47,342.69 L345.60,342.64 L345.73,342.62 L345.86,342.63 L345.99,342.68 L346.13,342.65 L346.26,342.61 L346.39,342.60 L346.52,342.59 L346.66,342.68 L346.79,342.62 L346.92,342.65 L347.05,342.61 L347.18,342.68 L347.32,342.64 L347.45,342.61 L347.58,342.65 L347.71,342.64 L347.85,342.66 L347.98,342.60 L348.11,342.67 L348.24,342.66 L348.37,342.64 L348.51,342.64 L348.64,342.57 L348.77,342.63 L348.90,342.66 L349.04,342.62 L349.17,342.62 L349.30,342.63 L349.43,342.64 L349.56,342.62 L349.70,342.67 L349.83,342.67 L349.96,342.65 L350.09,342.67 L350.23,342.61 L350.36,342.58 L350.49,342.60 L350.62,342.62 L350.75,342.63 L350.89,342.65 L351.02,342.67 L351.15,342.62 L351.28,342.68 L351.42,342.63 L351.55,342.64 L351.68,342.61 L351.81,342.63 L351.94,342.63 L352.08,342.65 L352.21,342.68 L352.34,342.65 L352.47,342.62 L352.61,342.61 L352.74,342.60 L352.87,342.66 L353.00,342.66 L353.13,342.62 L353.27,342.65 L353.40,342.57 L353.53,342.63 L353.66,342.68 L353.80,342.65 L353.93,342.59 L354.06,342.69 L354.19,342.63 L354.32,342.68 L354.46,342.59 L354.59,342.65 L354.72,342.67 L354.85,342.69 L354.99,342.66 L355.12,342.71 L355.25,342.65 L355.38,342.58 L355.51,342.64 L355.65,342.65 L355.78,342.67 L355.91,342.63 L356.04,342.65 L356.18,342.66 L356.31,342.60 L356.44,342.63 L356.57,342.66 L356.70,342.60 L356.84,342.64 L356.97,342.63 L357.10,342.64 L357.23,342.61 L357.37,342.62 L357.50,342.65 L357.63,342.62 L357.76,342.65 L357.89,342.64 L358.03,342.60 L358.16,342.67 L358.29,342.67 L358.42,342.65 L358.56,342.66 L358.69,342.61 L358.82,342.69 L358.95,342.58 L359.08,342.60 L359.22,342.65 L359.35,342.64 L359.48,342.65 L359.61,342.62 L359.75,342.62 L359.88,342.62 L360.01,342.62 L360.14,342.59 L360.27,342.65 L360.41,342.62 L360.54,342.65 L360.67,342.64 L360.80,342.64 L360.94,342.65 L361.07,342.63 L361.20,342.67 L361.33,342.65 L361.46,342.66 L361.60,342.68 L361.73,342.66 L361.86,342.66 L361.99,342.65 L362.13,342.69 L362.26,342.65 L362.39,342.68 L362.52,342.67 L362.65,342.64 L362.79,342.61 L362.92,342.64 L363.05,342.66 L363.18,342.66 L363.32,342.61 L363.45,342.69 L363.58,342.61 L363.71,342.69 L363.84,342.66 L363.98,342.64 L364.11,342.65 L364.24,342.60 L364.37,342.63 L364.51,342.65 L364.64,342.62 L364.77,342.65 L364.90,342.67 L365.03,342.62 L365.17,342.61 L365.30,342.61 L365.43,342.68 L365.56,342.59 L365.70,342.66 L365.83,342.63 L365.96,342.61 L366.09,342.58 L366.22,342.69 L366.36,342.68 L366.49,342.62 L366.62,342.63 L366.75,342.66 L366.89,342.73 L367.02,342.64 L367.15,342.65 L367.28,342.72 L367.41,342.58 L367.55,342.72 L367.68,342.66 L367.81,342.65 L367.94,342.64 L368.08,342.63 L368.21,342.66 L368.34,342.67 L368.47,342.66 L368.60,342.71 L368.74,342.68 L368.87,342.60 L369.00,342.67 L369.13,342.65 L369.27,342.60 L369.40,342.62 L369.53,342.65 L369.66,342.63 L369.79,342.66 L369.93,342.68 L370.06,342.62 L370.19,342.65 L370.32,342.61 L370.46,342.66 L370.59,342.66 L370.72,342.64 L370.85,342.66 L370.98,342.66 L371.12,342.68 L371.25,342.65 L371.38,342.64 L371.51,342.60 L371.65,342.65 L371.78,342.70 L371.91,342.64 L372.04,342.59 L372.17,342.66 L372.31,342.67 L372.44,342.66 L372.57,342.73 L372.70,342.66 L372.84,342.66 L372.97,342.69 L373.10,342.64 L373.23,342.68 L373.36,342.70 L373.50,342.67 L373.63,342.64 L373.76,342.60 L373.89,342.62 L374.03,342.65 L374.16,342.67 L374.29,342.66 L374.42,342.63 L374.55,342.67 L374.69,342.64 L374.82,342.63 L374.95,342.68 L375.08,342.67 L375.22,342.64 L375.35,342.66 L375.48,342.66 L375.61,342.67 L375.74,342.66 L375.88,342.61 L376.01,342.62 L376.14,342.70 L376.27,342.66 L376.41,342.65 L376.54,342.66 L376.67,342.69 L376.80,342.66 L376.93,342.65 L377.07,342.68 L377.20,342.65 L377.33,342.72 L377.46,342.70 L377.60,342.65 L377.73,342.65 L377.86,342.66 L377.99,342.67 L378.12,342.65 L378.26,342.63 L378.39,342.63 L378.52,342.66 L378.65,342.67 L378.79,342.63 L378.92,342.64 L379.05,342.63 L379.18,342.67 L379.31,342.68 L379.45,342.65 L379.58,342.68 L379.71,342.63 L379.84,342.64 L379.98,342.72 L380.11,342.64 L380.24,342.62 L380.37,342.63 L380.50,342.67 L380.64,342.68 L380.77,342.63 L380.90,342.63 L381.03,342.66 L381.17,342.69 L381.30,342.70 L381.43,342.65 L381.56,342.68 L381.69,342.68 L381.83,342.65 L381.96,342.63 L382.09,342.72 L382.22,342.68 L382.36,342.63 L382.49,342.66 L382.62,342.67 L382.75,342.64 L382.88,342.69 L383.02,342.69 L383.15,342.66 L383.28,342.62 L383.41,342.63 L383.55,342.66 L383.68,342.64 L383.81,342.67 L383.94,342.69 L384.07,342.71 L384.21,342.66 L384.34,342.64 L384.47,342.65 L384.60,342.66 L384.74,342.67 L384.87,342.63 L385.00,342.66 L385.13,342.70 L385.26,342.63 L385.40,342.68 L385.53,342.65 L385.66,342.66 L385.79,342.64 L385.93,342.66 L386.06,342.63 L386.19,342.66 L386.32,342.68 L386.45,342.68 L386.59,342.65 L386.72,342.69 L386.85,342.64 L386.98,342.67 L387.12,342.69 L387.25,342.69 L387.38,342.67 L387.51,342.62 L387.64,342.65 L387.78,342.67 L387.91,342.69 L388.04,342.62 L388.17,342.67 L388.31,342.67 L388.44,342.68 L388.57,342.63 L388.70,342.66 L388.83,342.68 L388.97,342.66 L389.10,342.69 L389.23,342.70 L389.36,342.67 L389.50,342.74 L389.63,342.64 L389.76,342.61 L389.89,342.70 L390.02,342.67 L390.16,342.71 L390.29,342.66 L390.42,342.66 L390.55,342.65 L390.69,342.70 L390.82,342.68 L390.95,342.69 L391.08,342.68 L391.21,342.61 L391.35,342.67 L391.48,342.67 L391.61,342.68 L391.74,342.65 L391.88,342.60 L392.01,342.64 L392.14,342.63 L392.27,342.70 L392.40,342.64 L392.54,342.67 L392.67,342.64 L392.80,342.64 L392.93,342.65 L393.07,342.71 L393.20,342.67 L393.33,342.68 L393.46,342.66 L393.59,342.67 L393.73,342.64 L393.86,342.71 L393.99,342.69 L394.12,342.67 L394.26,342.66 L394.39,342.68 L394.52,342.67 L394.65,342.67 L394.78,342.64 L394.92,342.67 L395.05,342.67 L395.18,342.72 L395.31,342.74 L395.45,342.71 L395.58,342.66 L395.71,342.73 L395.84,342.66 L395.97,342.68 L396.11,342.67 L396.24,342.69 L396.37,342.68 L396.50,342.65 L396.64,342.66 L396.77,342.67 L396.90,342.69 L397.03,342.67 L397.16,342.64 L397.30,342.67 L397.43,342.68 L397.56,342.70 L397.69,342.67 L397.83,342.70 L397.96,342.71 L398.09,342.65 L398.22,342.69 L398.35,342.73 L398.49,342.69 L398.62,342.63 L398.75,342.68 L398.88,342.71 L399.02,342.70 L399.15,342.66 L399.28,342.66 L399.41,342.67 L399.54,342.68 L399.68,342.66 L399.81,342.64 L399.94,342.66 L400.07,342.68 L400.21,342.71 L400.34,342.66 L400.47,342.64 L400.60,342.66 L400.73,342.71 L400.87,342.67 L401.00,342.64 L401.13,342.69 L401.26,342.66 L401.40,342.65 L401.53,342.63 L401.66,342.72 L401.79,342.72 L401.92,342.67 L402.06,342.66 L402.19,342.69 L402.32,342.68 L402.45,342.69 L402.59,342.65 L402.72,342.74 L402.85,342.67 L402.98,342.71 L403.11,342.70 L403.25,342.72 L403.38,342.70 L403.51,342.68 L403.64,342.68 L403.78,342.63 L403.91,342.68 L404.04,342.67 L404.17,342.67 L404.30,342.67 L404.44,342.64 L404.57,342.68 L404.70,342.68 L404.83,342.68 L404.97,342.68 L405.10,342.68 L405.23,342.65 L405.36,342.68 L405.49,342.68 L405.63,342.68 L405.76,342.66 L405.89,342.69 L406.02,342.66 L406.16,342.70 L406.29,342.66 L406.42,342.63 L406.55,342.68 L406.68,342.68 L406.82,342.71 L406.95,342.66 L407.08,342.68 L407.21,342.66 L407.35,342.70 L407.48,342.67 L407.61,342.64 L407.74,342.67 L407.87,342.69 L408.01,342.72 L408.14,342.68 L408.27,342.67 L408.40,342.67 L408.54,342.71 L408.67,342.71 L408.80,342.71 L408.93,342.71 L409.06,342.69 L409.20,342.68 L409.33,342.63 L409.46,342.68 L409.59,342.65 L409.73,342.73 L409.86,342.64 L409.99,342.66 L410.12,342.67 L410.25,342.66 L410.39,342.67 L410.52,342.64 L410.65,342.66 L410.78,342.73 L410.92,342.73 L411.05,342.64 L411.18,342.69 L411.31,342.65 L411.44,342.69 L411.58,342.70 L411.71,342.69 L411.84,342.68 L411.97,342.68 L412.11,342.70 L412.24,342.67 L412.37,342.67 L412.50,342.71 L412.63,342.71 L412.77,342.74 L412.90,342.69 L413.03,342.69 L413.16,342.70 L413.30,342.70 L413.43,342.69 L413.56,342.69 L413.69,342.67 L413.82,342.67 L413.96,342.68 L414.09,342.66 L414.22,342.71 L414.35,342.67 L414.49,342.68 L414.62,342.71 L414.75,342.71 L414.88,342.68 L415.01,342.69 L415.15,342.72 L415.28,342.70 L415.41,342.65 L415.54,342.67 L415.68,342.69 L415.81,342.65 L415.94,342.71 L416.07,342.69 L416.20,342.66 L416.34,342.70 L416.47,342.72 L416.60,342.67 L416.73,342.65 L416.87,342.75 L417.00,342.69 L417.13,342.72 L417.26,342.70 L417.39,342.73 L417.53,342.62 L417.66,342.71 L417.79,342.69 L417.92,342.71 L418.06,342.72 L418.19,342.70 L418.32,342.69 L418.45,342.65 L418.58,342.68 L418.72,342.65 L418.85,342.72 L418.98,342.69 L419.11,342.70 L419.25,342.73 L419.38,342.60 L419.51,342.70 L419.64,342.69 L419.77,342.71 L419.91,342.71 L420.04,342.72 L420.17,342.67 L420.30,342.70 L420.44,342.70 L420.57,342.69 L420.70,342.72 L420.83,342.69 L420.96,342.70 L421.10,342.68 L421.23,342.70 L421.36,342.69 L421.49,342.68 L421.63,342.67 L421.76,342.71 L421.89,342.67 L422.02,342.72 L422.15,342.70 L422.29,342.69 L422.42,342.69 L422.55,342.76 L422.68,342.72 L422.82,342.70 L422.95,342.67 L423.08,342.71 L423.21,342.66 L423.34,342.74 L423.48,342.69 L423.61,342.68 L423.74,342.70 L423.87,342.69 L424.01,342.67 L424.14,342.72 L424.27,342.68 L424.40,342.67 L424.53,342.70 L424.67,342.75 L424.80,342.73 L424.93,342.72 L425.06,342.72 L425.20,342.69 L425.33,342.72 L425.46,342.63 L425.59,342.68 L425.72,342.73 L425.86,342.70 L425.99,342.66 L426.12,342.68 L426.25,342.72 L426.39,342.67 L426.52,342.71 L426.65,342.64 L426.78,342.71 L426.91,342.68 L427.05,342.68 L427.18,342.71 L427.31,342.70 L427.44,342.67 L427.58,342.69 L427.71,342.70 L427.84,342.69 L427.97,342.66 L428.10,342.68 L428.24,342.69 L428.37,342.69 L428.50,342.74 L428.63,342.70 L428.77,342.71 L428.90,342.68 L429.03,342.72 L429.16,342.69 L429.29,342.73 L429.43,342.68 L429.56,342.72 L429.69,342.70 L429.82,342.69 L429.96,342.71 L430.09,342.70 L430.22,342.67 L430.35,342.66 L430.48,342.75 L430.62,342.72 L430.75,342.68 L430.88,342.68 L431.01,342.71 L431.15,342.70 L431.28,342.71 L431.41,342.65 L431.54,342.71 L431.67,342.73 L431.81,342.74 L431.94,342.73 L432.07,342.67 L432.20,342.71 L432.34,342.65 L432.47,342.69 L432.60,342.69 L432.73,342.69 L432.86,342.68 L433.00,342.68 L433.13,342.73 L433.26,342.72 L433.39,342.72 L433.53,342.70 L433.66,342.71 L433.79,342.73 L433.92,342.72 L434.05,342.66 L434.19,342.65 L434.32,342.73 L434.45,342.70 L434.58,342.71 L434.72,342.73 L434.85,342.69 L434.98,342.71 L435.11,342.66 L435.24,342.69 L435.38,342.71 L435.51,342.77 L435.64,342.71 L435.77,342.68 L435.91,342.72 L436.04,342.68 L436.17,342.69 L436.30,342.75 L436.43,342.71 L436.57,342.70 L436.70,342.69 L436.83,342.70 L436.96,342.71 L437.10,342.72 L437.23,342.71 L437.36,342.71 L437.49,342.73 L437.62,342.69 L437.76,342.72 L437.89,342.69 L438.02,342.72 L438.15,342.70 L438.29,342.70 L438.42,342.68 L438.55,342.69 L438.68,342.68 L438.81,342.70 L438.95,342.69 L439.08,342.67 L439.21,342.68 L439.34,342.61 L439.48,342.52 L439.61,342.47 L439.74,342.47 L439.87,342.38 L440.00,342.31 L440.14,342.38 L440.20,342.32 L440.27,342.31 L440.40,342.33 L440.53,342.36 L440.67,342.43 L440.80,342.56 L440.93,342.62 L441.06,342.55 L441.19,342.65 L441.33,342.64 L441.46,342.65 L441.59,342.70 L441.72,342.73 L441.86,342.67 L441.99,342.71 L442.12,342.70 L442.25,342.70 L442.38,342.69 L442.52,342.69 L442.65,342.75 L442.78,342.75 L442.91,342.71 L443.05,342.71 L443.18,342.69 L443.31,342.72 L443.44,342.72 L443.57,342.66 L443.71,342.68 L443.84,342.68 L443.97,342.69 L444.10,342.73 L444.24,342.71 L444.37,342.71 L444.50,342.74 L444.63,342.73 L444.76,342.71 L444.90,342.74 L445.03,342.70 L445.16,342.70 L445.29,342.72 L445.43,342.72 L445.56,342.70 L445.69,342.70 L445.82,342.71 L445.95,342.74 L446.09,342.75 L446.22,342.67 L446.35,342.73 L446.48,342.72 L446.62,342.76 L446.75,342.73 L446.88,342.73 L447.01,342.70 L447.14,342.78 L447.28,342.75 L447.41,342.73 L447.54,342.73 L447.67,342.73 L447.81,342.73 L447.94,342.75 L448.07,342.71 L448.20,342.69 L448.33,342.71 L448.47,342.73 L448.60,342.69 L448.73,342.70 L448.86,342.74 L449.00,342.73 L449.13,342.73 L449.26,342.72 L449.39,342.69 L449.52,342.73 L449.66,342.72 L449.79,342.71 L449.92,342.75 L450.05,342.73 L450.19,342.70 L450.32,342.69 L450.45,342.76 L450.58,342.70 L450.71,342.72 L450.85,342.69 L450.98,342.70 L451.11,342.67 L451.24,342.71 L451.38,342.73 L451.51,342.74 L451.64,342.75 L451.77,342.71 L451.90,342.71 L452.04,342.70 L452.17,342.71 L452.30,342.75 L452.43,342.73 L452.57,342.73 L452.70,342.72 L452.83,342.70 L452.96,342.69 L453.09,342.71 L453.23,342.77 L453.36,342.74 L453.49,342.77 L453.62,342.74 L453.76,342.75 L453.89,342.71 L454.02,342.73 L454.15,342.69 L454.28,342.70 L454.42,342.73 L454.55,342.70 L454.68,342.72 L454.81,342.71 L454.95,342.69 L455.08,342.75 L455.21,342.72 L455.34,342.69 L455.47,342.74 L455.61,342.72 L455.74,342.72 L455.87,342.73 L456.00,342.75 L456.14,342.74 L456.27,342.75 L456.40,342.70 L456.53,342.72 L456.66,342.71 L456.80,342.75 L456.93,342.71 L457.06,342.72 L457.19,342.70 L457.33,342.74 L457.46,342.70 L457.59,342.69 L457.72,342.68 L457.85,342.75 L457.99,342.75 L458.12,342.76 L458.25,342.70 L458.38,342.71 L458.52,342.72 L458.65,342.74 L458.78,342.70 L458.91,342.69 L459.04,342.73 L459.18,342.73 L459.31,342.70 L459.44,342.71 L459.57,342.69 L459.71,342.73 L459.84,342.72 L459.97,342.73 L460.10,342.74 L460.23,342.73 L460.37,342.73 L460.50,342.71 L460.63,342.73 L460.76,342.72 L460.90,342.75 L461.03,342.75 L461.16,342.69 L461.29,342.75 L461.42,342.68 L461.56,342.71 L461.69,342.78 L461.82,342.74 L461.95,342.74 L462.09,342.73 L462.22,342.73 L462.35,342.74 L462.48,342.70 L462.61,342.73 L462.75,342.71 L462.88,342.74 L463.01,342.74 L463.14,342.70 L463.28,342.73 L463.41,342.75 L463.54,342.73 L463.67,342.70 L463.80,342.73 L463.94,342.75 L464.07,342.71 L464.20,342.71 L464.33,342.73 L464.47,342.74 L464.60,342.74 L464.73,342.67 L464.86,342.73 L464.99,342.69 L465.13,342.73 L465.26,342.72 L465.39,342.78 L465.52,342.73 L465.66,342.73 L465.79,342.74 L465.92,342.74 L466.05,342.76 L466.18,342.76 L466.32,342.73 L466.45,342.75 L466.58,342.73 L466.71,342.74 L466.85,342.74 L466.98,342.75 L467.11,342.69 L467.24,342.76 L467.37,342.74 L467.51,342.74 L467.64,342.76 L467.77,342.75 L467.90,342.71 L468.04,342.71 L468.17,342.73 L468.30,342.66 L468.43,342.71 L468.56,342.70 L468.70,342.75 L468.83,342.71 L468.96,342.70 L469.09,342.74 L469.23,342.69 L469.36,342.75 L469.49,342.76 L469.62,342.73 L469.75,342.75 L469.89,342.72 L470.02,342.76 L470.15,342.73 L470.28,342.78 L470.42,342.73 L470.55,342.71 L470.68,342.74 L470.81,342.73 L470.94,342.71 L471.08,342.76 L471.21,342.76 L471.34,342.73 L471.47,342.73 L471.61,342.74 L471.74,342.76 L471.87,342.71 L472.00,342.76 L472.13,342.73 L472.27,342.71 L472.40,342.67 L472.53,342.67 L472.66,342.63 L472.80,342.48 L472.93,342.50 L473.06,342.35 L473.19,342.30 L473.32,342.24 L473.46,342.17 L473.59,342.15 L473.59,342.16 L473.72,342.15 L473.85,342.34 L473.99,342.30 L474.12,342.38 L474.25,342.50 L474.38,342.56 L474.51,342.54 L474.65,342.61 L474.78,342.68 L474.91,342.71 L475.04,342.73 L475.18,342.70 L475.31,342.75 L475.44,342.76 L475.57,342.72 L475.70,342.76 L475.84,342.76 L475.97,342.71 L476.10,342.77 L476.23,342.74 L476.37,342.74 L476.50,342.73 L476.63,342.77 L476.76,342.74 L476.89,342.75 L477.03,342.70 L477.16,342.72 L477.29,342.76 L477.42,342.72 L477.56,342.73 L477.69,342.74 L477.82,342.75 L477.95,342.75 L478.08,342.77 L478.22,342.75 L478.35,342.72 L478.48,342.71 L478.61,342.70 L478.75,342.75 L478.88,342.73 L479.01,342.79 L479.14,342.75 L479.27,342.77 L479.41,342.72 L479.54,342.78 L479.67,342.76 L479.80,342.77 L479.94,342.73 L480.07,342.72 L480.20,342.76 L480.33,342.70 L480.46,342.74 L480.60,342.76 L480.73,342.74 L480.86,342.74 L480.99,342.72 L481.13,342.74 L481.26,342.69 L481.39,342.72 L481.52,342.76 L481.65,342.73 L481.79,342.73 L481.92,342.77 L482.05,342.76 L482.18,342.76 L482.32,342.80 L482.45,342.73 L482.58,342.75 L482.71,342.72 L482.84,342.76 L482.98,342.74 L483.11,342.73 L483.24,342.72 L483.37,342.74 L483.51,342.77 L483.64,342.70 L483.77,342.73 L483.90,342.72 L484.03,342.71 L484.17,342.71 L484.30,342.74 L484.43,342.74 L484.56,342.73 L484.70,342.78 L484.83,342.73 L484.96,342.77 L485.09,342.74 L485.22,342.77 L485.36,342.73 L485.49,342.76 L485.62,342.69 L485.75,342.74 L485.89,342.74 L486.02,342.77 L486.15,342.75 L486.28,342.75 L486.41,342.75 L486.55,342.76 L486.68,342.77 L486.81,342.73 L486.94,342.76 L487.08,342.77 L487.21,342.74 L487.34,342.77 L487.47,342.75 L487.60,342.76 L487.74,342.77 L487.87,342.75 L488.00,342.77 L488.13,342.78 L488.27,342.74 L488.40,342.76 L488.53,342.78 L488.66,342.76 L488.79,342.75 L488.93,342.74 L489.06,342.74 L489.19,342.74 L489.32,342.74 L489.46,342.76 L489.59,342.77 L489.72,342.74 L489.85,342.76 L489.98,342.75 L490.12,342.74 L490.25,342.73 L490.38,342.72 L490.51,342.77 L490.65,342.76 L490.78,342.74 L490.91,342.78 L491.04,342.78 L491.17,342.74 L491.31,342.76 L491.44,342.77 L491.57,342.73 L491.70,342.74 L491.84,342.73 L491.97,342.76 L492.10,342.76 L492.23,342.76 L492.36,342.75 L492.50,342.80 L492.63,342.77 L492.76,342.74 L492.89,342.77 L493.03,342.75 L493.16,342.75 L493.29,342.74 L493.42,342.76 L493.55,342.78 L493.69,342.70 L493.82,342.77 L493.95,342.72 L494.08,342.79 L494.22,342.75 L494.35,342.76 L494.48,342.71 L494.61,342.71 L494.74,342.73 L494.88,342.78 L495.01,342.77 L495.14,342.77 L495.27,342.77 L495.41,342.75 L495.54,342.77 L495.67,342.76 L495.80,342.72 L495.93,342.73 L496.07,342.79 L496.20,342.78 L496.33,342.76 L496.46,342.73 L496.60,342.76 L496.73,342.72 L496.86,342.75 L496.99,342.73 L497.12,342.77 L497.26,342.76 L497.39,342.74 L497.52,342.74 L497.65,342.80 L497.79,342.76 L497.92,342.75 L498.05,342.74 L498.18,342.77 L498.31,342.72 L498.45,342.75 L498.58,342.73 L498.71,342.75 L498.84,342.76 L498.98,342.76 L499.11,342.78 L499.24,342.74 L499.37,342.74 L499.50,342.74 L499.64,342.77 L499.77,342.78 L499.90,342.77 L500.03,342.77 L500.17,342.76 L500.30,342.74 L500.43,342.78 L500.56,342.77 L500.69,342.75 L500.83,342.74 L500.96,342.71 L501.09,342.75 L501.22,342.78 L501.36,342.78 L501.49,342.78 L501.62,342.76 L501.75,342.75 L501.88,342.76 L502.02,342.77 L502.15,342.76 L502.28,342.76 L502.41,342.75 L502.55,342.76 L502.68,342.78 L502.81,342.78 L502.94,342.73 L503.07,342.76 L503.21,342.76 L503.34,342.76 L503.47,342.74 L503.60,342.77 L503.74,342.76 L503.87,342.77 L504.00,342.75 L504.13,342.78 L504.26,342.76 L504.40,342.74 L504.53,342.74 L504.66,342.75 L504.79,342.76 L504.93,342.73 L505.06,342.75 L505.19,342.73 L505.32,342.79 L505.45,342.79 L505.59,342.75 L505.72,342.77 L505.85,342.77 L505.98,342.78 L506.12,342.73 L506.25,342.79 L506.38,342.76 L506.51,342.79 L506.64,342.77 L506.78,342.72 L506.91,342.71 L507.04,342.77 L507.17,342.78 L507.31,342.73 L507.44,342.78 L507.57,342.80 L507.70,342.76 L507.83,342.79 L507.97,342.79 L508.10,342.74 L508.23,342.78 L508.36,342.79 L508.50,342.76 L508.63,342.77 L508.76,342.74 L508.89,342.76 L509.02,342.73 L509.16,342.74 L509.29,342.73 L509.42,342.74 L509.55,342.76 L509.69,342.76 L509.82,342.77 L509.95,342.80 L510.08,342.79 L510.21,342.75 L510.35,342.81 L510.48,342.78 L510.61,342.79 L510.74,342.77 L510.88,342.79 L511.01,342.76 L511.14,342.77 L511.27,342.78 L511.40,342.78 L511.54,342.81 L511.67,342.77 L511.80,342.79 L511.93,342.77 L512.07,342.76 L512.20,342.75 L512.33,342.76 L512.46,342.74 L512.59,342.80 L512.73,342.76 L512.86,342.74 L512.99,342.76 L513.12,342.79 L513.26,342.76 L513.39,342.78 L513.52,342.78 L513.65,342.75 L513.78,342.77 L513.92,342.79 L514.05,342.78 L514.18,342.73 L514.31,342.79 L514.45,342.76 L514.58,342.77 L514.71,342.75 L514.84,342.78 L514.97,342.79 L515.11,342.78 L515.24,342.79 L515.37,342.72 L515.50,342.77 L515.64,342.78 L515.77,342.75 L515.90,342.76 L516.03,342.78 L516.16,342.76 L516.30,342.77 L516.43,342.75 L516.56,342.74 L516.69,342.78 L516.83,342.77 L516.96,342.78 L517.09,342.75 L517.22,342.77 L517.35,342.76 L517.49,342.76 L517.62,342.79 L517.75,342.77 L517.88,342.75 L518.02,342.76 L518.15,342.76 L518.28,342.78 L518.41,342.78 L518.54,342.79 L518.68,342.78 L518.81,342.78 L518.94,342.80 L519.07,342.75 L519.21,342.79 L519.34,342.77 L519.47,342.76 L519.60,342.79 L519.73,342.81 L519.87,342.76 L520.00,342.77 L520.13,342.78 L520.26,342.75 L520.40,342.76 L520.53,342.79 L520.66,342.78 L520.79,342.81 L520.92,342.78 L521.06,342.75 L521.19,342.79 L521.32,342.76 L521.45,342.81 L521.59,342.78 L521.72,342.76 L521.85,342.74 L521.98,342.77 L522.11,342.76 L522.25,342.74 L522.38,342.82 L522.51,342.81 L522.64,342.74 L522.78,342.73 L522.91,342.77 L523.04,342.78 L523.17,342.77 L523.30,342.78 L523.44,342.79 L523.57,342.78 L523.70,342.78 L523.83,342.77 L523.97,342.77 L524.10,342.76 L524.23,342.77 L524.36,342.80 L524.49,342.75 L524.63,342.83 L524.76,342.78 L524.89,342.77 L525.02,342.79 L525.16,342.74 L525.29,342.80 L525.42,342.80 L525.55,342.79 L525.68,342.77 L525.82,342.77 L525.95,342.78 L526.08,342.77 L526.21,342.79 L526.35,342.79 L526.48,342.78 L526.61,342.81 L526.74,342.78 L526.87,342.79 L527.01,342.77 L527.14,342.80 L527.27,342.79 L527.40,342.79 L527.54,342.79 L527.67,342.80 L527.80,342.79 L527.93,342.81 L528.06,342.77 L528.20,342.77 L528.33,342.78 L528.46,342.79 L528.59,342.80 L528.73,342.80 L528.86,342.79 L528.99,342.80 L529.12,342.80 L529.25,342.78 L529.39,342.78 L529.52,342.79 L529.65,342.80 L529.78,342.78 L529.92,342.80 L530.05,342.79 L530.18,342.78 L530.31,342.77 L530.44,342.77 L530.58,342.80 L530.71,342.76 L530.84,342.81 L530.97,342.79 L531.11,342.76 L531.24,342.74 L531.37,342.78 L531.50,342.79 L531.63,342.79 L531.77,342.81 L531.90,342.79 L532.03,342.79 L532.16,342.80 L532.30,342.76 L532.43,342.80 L532.56,342.75 L532.69,342.77 L532.82,342.77 L532.96,342.80 L533.09,342.80 L533.22,342.82 L533.35,342.78 L533.49,342.79 L533.62,342.78 L533.75,342.80 L533.88,342.78 L534.01,342.81 L534.15,342.83 L534.28,342.78 L534.41,342.77 L534.54,342.84 L534.68,342.76 L534.81,342.79 L534.94,342.79 L535.07,342.82 L535.20,342.81 L535.34,342.78 L535.47,342.80 L535.60,342.79 L535.73,342.79 L535.87,342.75 L536.00,342.77 L536.13,342.81 L536.26,342.80 L536.39,342.81 L536.53,342.81 L536.66,342.80 L536.79,342.77 L536.92,342.79 L537.06,342.78 L537.19,342.79 L537.32,342.80 L537.45,342.79 L537.58,342.79 L537.72,342.76 L537.85,342.76 L537.98,342.78 L538.11,342.78 L538.25,342.83 L538.38,342.79 L538.51,342.75 L538.64,342.80 L538.77,342.78 L538.91,342.77 L539.04,342.80 L539.17,342.79 L539.30,342.80 L539.44,342.78 L539.57,342.79 L539.70,342.76 L539.83,342.77 L539.96,342.79 L540.10,342.75 L540.23,342.80 L540.36,342.80 L540.49,342.80 L540.63,342.81 L540.76,342.80 L540.89,342.79 L541.02,342.78 L541.15,342.82 L541.29,342.82 L541.42,342.81 L541.55,342.80 L541.68,342.79 L541.82,342.81 L541.95,342.77 L542.08,342.80 L542.21,342.80 L542.34,342.79 L542.48,342.77 L542.61,342.79 L542.74,342.79 L542.87,342.80 L543.01,342.79 L543.14,342.79 L543.27,342.80 L543.40,342.79 L543.53,342.83 L543.67,342.80 L543.80,342.77 L543.93,342.77 L544.06,342.80 L544.20,342.83 L544.33,342.76 L544.46,342.80 L544.59,342.75 L544.72,342.80 L544.86,342.78 L544.99,342.81 L545.12,342.77 L545.25,342.78 L545.39,342.81 L545.52,342.77 L545.65,342.75 L545.78,342.80 L545.91,342.82 L546.05,342.79 L546.18,342.80 L546.31,342.82 L546.44,342.82 L546.58,342.79 L546.71,342.82 L546.84,342.78 L546.97,342.79 L547.10,342.80 L547.24,342.77 L547.37,342.81 L547.50,342.79 L547.63,342.82 L547.77,342.80 L547.90,342.79 L548.03,342.81 L548.16,342.80 L548.29,342.79 L548.43,342.77 L548.56,342.78 L548.69,342.79 L548.82,342.80 L548.96,342.82 L549.09,342.77 L549.22,342.77 L549.35,342.84 L549.48,342.78 L549.62,342.80 L549.75,342.79 L549.88,342.79 L550.01,342.80 L550.15,342.80 L550.28,342.80 L550.41,342.78 L550.54,342.80 L550.67,342.81 L550.81,342.79 L550.94,342.79 L551.07,342.79 L551.20,342.80 L551.34,342.78 L551.47,342.78 L551.60,342.80 L551.73,342.81 L551.86,342.79 L552.00,342.83 L552.13,342.81 L552.26,342.81 L552.39,342.80 L552.53,342.81 L552.66,342.76 L552.79,342.79 L552.92,342.80 L553.05,342.76 L553.19,342.80 L553.32,342.81 L553.45,342.78 L553.58,342.79 L553.72,342.79 L553.85,342.78 L553.98,342.81 L554.11,342.81 L554.24,342.82 L554.38,342.80 L554.51,342.79 L554.64,342.82 L554.77,342.81 L554.91,342.83 L555.04,342.77 L555.17,342.79 L555.30,342.80 L555.43,342.83 L555.57,342.82 L555.70,342.82 L555.83,342.80 L555.96,342.83 L556.10,342.81 L556.23,342.78 L556.36,342.81 L556.49,342.80 L556.62,342.84 L556.76,342.81 L556.89,342.81 L557.02,342.82 L557.15,342.83 L557.29,342.81 L557.42,342.82 L557.55,342.82 L557.68,342.83 L557.81,342.81 L557.95,342.79 L558.08,342.82 L558.21,342.80 L558.34,342.83 L558.48,342.80 L558.61,342.80 L558.74,342.81 L558.87,342.79 L559.00,342.82 L559.14,342.81 L559.27,342.78 L559.40,342.81 L559.53,342.83 L559.67,342.79 L559.80,342.80 L559.93,342.81 L560.06,342.84 L560.19,342.84 L560.33,342.83 L560.46,342.78 L560.59,342.80 L560.72,342.82 L560.86,342.79 L560.99,342.79 L561.12,342.82 L561.25,342.80 L561.38,342.84 L561.52,342.80 L561.65,342.78 L561.78,342.83 L561.91,342.81 L562.05,342.82 L562.18,342.81 L562.31,342.81 L562.44,342.81 L562.57,342.80 L562.71,342.80 L562.84,342.79 L562.97,342.79 L563.10,342.79 L563.24,342.82 L563.37,342.80 L563.50,342.82 L563.63,342.83 L563.76,342.78 L563.90,342.81 L564.03,342.81 L564.16,342.85 L564.29,342.82 L564.43,342.80 L564.56,342.82 L564.69,342.82 L564.82,342.79 L564.95,342.82 L565.09,342.82 L565.22,342.81 L565.35,342.82 L565.48,342.80 L565.62,342.80 L565.75,342.81 L565.88,342.82 L566.01,342.82 L566.14,342.79 L566.28,342.82 L566.41,342.80 L566.54,342.84 L566.67,342.81 L566.81,342.80 L566.94,342.79 L567.07,342.81 L567.20,342.81 L567.33,342.81 L567.47,342.80 L567.60,342.78 L567.73,342.81 L567.86,342.83 L568.00,342.81 L568.13,342.82 L568.26,342.81 L568.39,342.80 L568.52,342.81 L568.66,342.82 L568.79,342.81 L568.92,342.84 L569.05,342.81 L569.19,342.83 L569.32,342.81 L569.45,342.81 L569.58,342.82 L569.71,342.84 L569.85,342.82 L569.98,342.83 L570.11,342.82 L570.24,342.81 L570.38,342.80 L570.51,342.84 L570.64,342.80 L570.77,342.80 L570.90,342.80 L571.04,342.81 L571.17,342.82 L571.30,342.79 L571.43,342.82 L571.57,342.84 L571.70,342.81 L571.83,342.80 L571.96,342.82 L572.09,342.81 L572.23,342.72 L572.36,342.73 L572.49,342.66 L572.62,342.64 L572.76,342.60 L572.89,342.49 L573.02,342.37 L573.15,342.40 L573.28,342.42 L573.32,342.35 L573.42,342.37 L573.55,342.40 L573.68,342.45 L573.81,342.55 L573.95,342.60 L574.08,342.67 L574.21,342.69 L574.34,342.75 L574.47,342.76 L574.61,342.80 L574.74,342.84 L574.87,342.85 L575.00,342.81 L575.14,342.81 L575.27,342.81 L575.40,342.82 L575.53,342.85 L575.66,342.83 L575.80,342.82 L575.93,342.80 L576.06,342.83 L576.19,342.83 L576.33,342.83 L576.46,342.81 L576.59,342.81 L576.72,342.85 L576.85,342.80 L576.99,342.84 L577.12,342.85 L577.25,342.85 L577.38,342.83 L577.52,342.79 L577.65,342.78 L577.78,342.84 L577.91,342.83 L578.04,342.82 L578.18,342.82 L578.31,342.83 L578.44,342.85 L578.57,342.83 L578.71,342.83 L578.84,342.85 L578.97,342.82 L579.10,342.85 L579.23,342.85 L579.37,342.80 L579.50,342.81 L579.63,342.80 L579.76,342.82 L579.90,342.83 L580.03,342.83 L580.16,342.85 L580.29,342.81 L580.42,342.82 L580.56,342.83 L580.69,342.85 L580.82,342.83 L580.95,342.80 L581.09,342.80 L581.22,342.81 L581.35,342.83 L581.48,342.82 L581.61,342.82 L581.75,342.82 L581.88,342.81 L582.01,342.84 L582.14,342.86 L582.28,342.86 L582.41,342.84 L582.54,342.85 L582.67,342.82 L582.80,342.81 L582.94,342.83 L583.07,342.82 L583.20,342.83 L583.33,342.83 L583.47,342.83 L583.60,342.83 L583.73,342.81 L583.86,342.83 L583.99,342.83 L584.13,342.81 L584.26,342.81 L584.39,342.83 L584.52,342.83 L584.66,342.84 L584.79,342.83 L584.92,342.82 L585.05,342.83 L585.18,342.83 L585.32,342.82 L585.45,342.87 L585.58,342.84 L585.71,342.83 L585.85,342.84 L585.98,342.84 L586.11,342.83 L586.24,342.81 L586.37,342.83 L586.51,342.84 L586.64,342.84 L586.77,342.85 L586.90,342.82 L587.04,342.84 L587.17,342.82 L587.30,342.82 L587.43,342.82 L587.56,342.82 L587.70,342.83 L587.83,342.86 L587.96,342.83 L588.09,342.82 L588.23,342.85 L588.36,342.85 L588.49,342.82 L588.62,342.83 L588.75,342.81 L588.89,342.82 L589.02,342.83 L589.15,342.83 L589.28,342.82 L589.42,342.83 L589.55,342.84 L589.68,342.83 L589.81,342.84 L589.94,342.80 L590.08,342.84 L590.21,342.85 L590.34,342.85 L590.47,342.82 L590.61,342.84 L590.74,342.83 L590.87,342.84 L591.00,342.83 L591.13,342.85 L591.27,342.83 L591.40,342.84 L591.53,342.82 L591.66,342.83 L591.80,342.85 L591.93,342.85 L592.06,342.83 L592.19,342.82 L592.32,342.82 L592.46,342.84 L592.59,342.82 L592.72,342.87 L592.85,342.84 L592.99,342.85 L593.12,342.85 L593.25,342.83 L593.38,342.83 L593.51,342.83 L593.65,342.84 L593.78,342.83 L593.91,342.83 L594.04,342.84 L594.18,342.82 L594.31,342.85 L594.44,342.81 L594.57,342.86 L594.70,342.84 L594.84,342.85 L594.97,342.84 L595.10,342.82 L595.23,342.85 L595.37,342.81 L595.50,342.82 L595.63,342.83 L595.76,342.85 L595.89,342.83 L596.03,342.88 L596.16,342.85 L596.29,342.83 L596.42,342.84 L596.56,342.81 L596.69,342.85 L596.82,342.86 L596.95,342.84 L597.08,342.83 L597.22,342.82 L597.35,342.86 L597.48,342.84 L597.61,342.82 L597.75,342.85 L597.88,342.85 L598.01,342.86 L598.14,342.83 L598.27,342.83 L598.41,342.83 L598.54,342.84 L598.67,342.83 L598.80,342.84 L598.94,342.83 L599.07,342.83 L599.20,342.82 L599.33,342.83 L599.46,342.84 L599.60,342.83 L599.73,342.86 L599.86,342.86 L599.99,342.82 L600.13,342.84 L600.26,342.86 L600.39,342.85 L600.52,342.84 L600.65,342.84 L600.79,342.85 L600.92,342.83 L601.05,342.86 L601.18,342.81 L601.32,342.86 L601.45,342.82 L601.58,342.83 L601.71,342.87 L601.84,342.86 L601.98,342.84 L602.11,342.84 L602.24,342.85 L602.37,342.84 L602.51,342.84 L602.64,342.86 L602.77,342.84 L602.90,342.81 L603.03,342.85 L603.17,342.86 L603.30,342.84 L603.43,342.83 L603.56,342.83 L603.70,342.85 L603.83,342.85 L603.96,342.84 L604.09,342.85 L604.22,342.84 L604.36,342.83 L604.49,342.84 L604.62,342.85 L604.75,342.85 L604.89,342.82 L605.02,342.86 L605.15,342.82 L605.28,342.84 L605.41,342.84 L605.55,342.86 L605.68,342.82 L605.81,342.83 L605.94,342.83 L606.08,342.82 L606.21,342.87 L606.34,342.85 L606.47,342.85 L606.60,342.86 L606.74,342.85 L606.87,342.84 L607.00,342.84 L607.13,342.85 L607.27,342.86 L607.40,342.84 L607.53,342.84 L607.66,342.82 L607.79,342.84 L607.93,342.85 L608.06,342.85 L608.19,342.76 L608.32,342.71 L608.46,342.39 L608.59,341.67 L608.72,340.37 L608.85,338.26 L608.98,336.11 L609.12,333.86 L609.25,332.54 L609.28,332.53 L609.38,333.20 L609.51,334.86 L609.65,337.03 L609.78,339.47 L609.91,341.16 L610.04,342.14 L610.17,342.58 L610.31,342.77 L610.44,342.84 L610.57,342.83 L610.70,342.87 L610.84,342.83 L610.97,342.85 L611.10,342.90 L611.23,342.90 L611.36,342.89 L611.50,342.89 L611.63,342.88 L611.76,342.88 L611.89,342.88 L612.03,342.88 L612.16,342.88 L612.29,342.89 L612.42,342.88 L612.55,342.89 L612.69,342.89 L612.82,342.90 L612.95,342.89 L613.08,342.89 L613.22,342.89 L613.35,342.89 L613.48,342.88 L613.61,342.88 L613.74,342.89 L613.88,342.88 L614.01,342.88 L614.14,342.89 L614.27,342.89 L614.41,342.90 L614.54,342.89 L614.67,342.89 L614.80,342.89 L614.93,342.89 L615.07,342.89 L615.20,342.90 L615.33,342.89 L615.46,342.88 L615.60,342.89 L615.73,342.89 L615.86,342.89 L615.99,342.90 L616.12,342.90 L616.26,342.87 L616.39,342.89 L616.52,342.89 L616.65,342.89 L616.79,342.90 L616.92,342.88 L617.05,342.88 L617.18,342.89 L617.31,342.89 L617.45,342.89 L617.58,342.88 L617.71,342.89 L617.84,342.89 L617.98,342.88 L618.11,342.89 L618.24,342.89 L618.37,342.90 L618.50,342.90 L618.64,342.88 L618.77,342.89 L618.90,342.89 L619.03,342.88 L619.17,342.89 L619.30,342.89 L619.43,342.89 L619.56,342.89 L619.69,342.89 L619.83,342.87 L619.96,342.88 L620.09,342.89 L620.22,342.89 L620.36,342.89 L620.49,342.89 L620.62,342.90 L620.75,342.89 L620.88,342.90 L621.02,342.90 L621.15,342.89 L621.28,342.90 L621.41,342.88 L621.55,342.88 L621.68,342.89 L621.81,342.88 L621.94,342.88 L622.07,342.90 L622.21,342.89 L622.34,342.89 L622.47,342.90 L622.60,342.89 L622.74,342.88 L622.87,342.89 L623.00,342.90 L623.13,342.89 L623.26,342.89 L623.40,342.88 L623.53,342.89 L623.66,342.89 L623.79,342.89 L623.93,342.90 L624.06,342.89 L624.19,342.88 L624.32,342.90 L624.45,342.89 L624.59,342.89 L624.72,342.88 L624.85,342.90 L624.98,342.88 L625.12,342.88 L625.25,342.87 L625.38,342.90 L625.51,342.89 L625.64,342.89 L625.78,342.89 L625.91,342.89 L626.04,342.88 L626.17,342.87 L626.31,342.88 L626.44,342.89 L626.57,342.89 L626.70,342.88 L626.83,342.89 L626.97,342.89 L627.10,342.88 L627.23,342.89 L627.36,342.88 L627.50,342.89 L627.63,342.88 L627.76,342.89 L627.89,342.90 L628.02,342.89 L628.16,342.90 L628.29,342.88 L628.42,342.88 L628.55,342.90 L628.69,342.89 L628.82,342.88 L628.95,342.89 L629.08,342.89 L629.21,342.89 L629.35,342.89 L629.48,342.89 L629.61,342.89 L629.74,342.89 L629.88,342.90 L630.01,342.89 L630.14,342.89 L630.27,342.89 L630.40,342.89 L630.54,342.90 L630.67,342.88 L630.80,342.89 L630.93,342.88 L631.07,342.89 L631.20,342.89 L631.33,342.88 L631.46,342.90 L631.59,342.88 L631.73,342.89 L631.86,342.89 L631.99,342.89 L632.12,342.88 L632.26,342.89 L632.39,342.89 L632.52,342.89 L632.65,342.90 L632.78,342.89 L632.92,342.89 L633.05,342.88 L633.18,342.88 L633.31,342.88 L633.45,342.88 L633.58,342.89 L633.71,342.88 L633.84,342.87 L633.97,342.89 L634.11,342.90 L634.24,342.88 L634.37,342.88 L634.50,342.88 L634.64,342.88 L634.77,342.90 L634.90,342.89 L635.03,342.89 L635.16,342.88 L635.30,342.89 L635.43,342.89 L635.56,342.89 L635.69,342.89 L635.83,342.89 L635.96,342.89 L636.09,342.90 L636.22,342.89 L636.35,342.89 L636.49,342.89 L636.62,342.90 L636.75,342.89 L636.88,342.89 L637.02,342.89 L637.15,342.88 L637.28,342.88 L637.41,342.89 L637.54,342.88 L637.68,342.87 L637.81,342.89 L637.94,342.89 L638.07,342.89 L638.21,342.88 L638.34,342.88 L638.47,342.89 L638.60,342.88 L638.73,342.89 L638.87,342.90 L639.00,342.88 L639.13,342.88 L639.26,342.89 L639.40,342.89 L639.53,342.90 L639.66,342.88 L639.79,342.90 L639.92,342.89 L640.06,342.89 L640.19,342.88 L640.32,342.89 L640.45,342.89 L640.59,342.89 L640.72,342.88 L640.85,342.89 L640.98,342.89 L641.11,342.89 L641.25,342.90 L641.38,342.88 L641.51,342.89 L641.64,342.90 L641.78,342.89 L641.91,342.89 L642.04,342.88 L642.17,342.90 L642.30,342.90 L642.44,342.89 L642.57,342.89 L642.70,342.89 L642.83,342.90 L642.97,342.89 L643.10,342.89 L643.23,342.90 L643.36,342.89 L643.49,342.88 L643.63,342.89 L643.76,342.88 L643.89,342.90 L644.02,342.88 L644.16,342.88 L644.29,342.89 L644.42,342.89 L644.55,342.88 L644.68,342.90 L644.82,342.88 L644.95,342.88 L645.08,342.89 L645.21,342.89 L645.35,342.89 L645.48,342.88 L645.61,342.89 L645.74,342.88 L645.87,342.89 L646.01,342.89 L646.14,342.90 L646.27,342.89 L646.40,342.89 L646.54,342.88 L646.67,342.90 L646.80,342.89 L646.93,342.89 L647.06,342.90 L647.20,342.89 L647.33,342.89 L647.46,342.88 L647.59,342.90 L647.73,342.88 L647.86,342.90 L647.99,342.90 L648.12,342.89 L648.25,342.89 L648.39,342.89 L648.52,342.89 L648.65,342.89 L648.78,342.89 L648.92,342.89 L649.05,342.89 L649.18,342.89 L649.31,342.89 L649.44,342.89 L649.58,342.90 L649.71,342.90 L649.84,342.90 L649.97,342.89 L650.11,342.89 L650.24,342.88 L650.37,342.89 L650.50,342.90 L650.63,342.90 L650.77,342.88 L650.90,342.89 L651.03,342.88 L651.16,342.89 L651.30,342.89 L651.43,342.90 L651.56,342.89 L651.69,342.88 L651.82,342.89 L651.96,342.88 L652.09,342.90 L652.22,342.88 L652.35,342.87 L652.49,342.88 L652.62,342.89 L652.75,342.90 L652.88,342.89 L653.01,342.89 L653.15,342.89 L653.28,342.90 L653.41,342.89 L653.54,342.88 L653.68,342.89 L653.81,342.88 L653.94,342.88 L654.07,342.90 L654.20,342.90 L654.34,342.89 L654.47,342.89 L654.60,342.89 L654.73,342.89 L654.87,342.88 L655.00,342.89 L655.13,342.88 L655.26,342.89 L655.39,342.88 L655.53,342.89 L655.66,342.89 L655.79,342.89 L655.92,342.90 L656.06,342.89 L656.19,342.89 L656.32,342.88 L656.45,342.89 L656.58,342.90 L656.72,342.89 L656.85,342.90 L656.98,342.89 L657.11,342.87 L657.25,342.89 L657.38,342.89 L657.51,342.89 L657.64,342.88 L657.77,342.90 L657.91,342.89 L658.04,342.89 L658.17,342.89 L658.30,342.89 L658.44,342.90 L658.57,342.89 L658.70,342.88 L658.83,342.88 L658.96,342.89 L659.10,342.88 L659.23,342.89 L659.36,342.89 L659.49,342.89 L659.63,342.88 L659.76,342.88 L659.89,342.89 L660.02,342.89 L660.15,342.88 L660.29,342.89 L660.42,342.89 L660.55,342.89 L660.68,342.89 L660.82,342.88 L660.95,342.89 L661.08,342.89 L661.21,342.89 L661.34,342.88 L661.48,342.89 L661.61,342.88 L661.74,342.88 L661.87,342.89 L662.01,342.89 L662.14,342.89 L662.27,342.89 L662.40,342.88 L662.53,342.89 L662.67,342.88 L662.80,342.90 L662.93,342.89 L663.06,342.90 L663.20,342.89 L663.33,342.89 L663.46,342.89 L663.59,342.89 L663.72,342.90 L663.86,342.88 L663.99,342.89 L664.12,342.88 L664.25,342.90 L664.39,342.90 L664.52,342.89 L664.65,342.88 L664.78,342.89 L664.91,342.89 L665.05,342.89 L665.18,342.88 L665.31,342.89 L665.44,342.88 L665.58,342.89 L665.71,342.88 L665.84,342.89 L665.97,342.89 L666.10,342.89 L666.24,342.89 L666.37,342.89 L666.50,342.90 L666.63,342.89 L666.77,342.88 L666.90,342.89 L667.03,342.88 L667.16,342.88 L667.29,342.90 L667.43,342.89 L667.56,342.89 L667.69,342.89 L667.82,342.89 L667.96,342.90 L668.09,342.88 L668.22,342.88 L668.35,342.88 L668.48,342.88 L668.62,342.88 L668.75,342.89 L668.88,342.88 L669.01,342.88 L669.15,342.89 L669.28,342.90 L669.41,342.89 L669.54,342.89 L669.67,342.90 L669.81,342.89 L669.94,342.88 L670.07,342.89 L670.20,342.89 L670.34,342.88 L670.47,342.89" fill="none" stroke="#2424a2" stroke-width="1.5" stroke-linejoin="round" clip-path="url(#mclip1)"/>
<rect x="59.30" y="180.80" width="611.50" height="162.10" fill="none" stroke="#0a0a0a" stroke-width="1.4"/>
<path d="M59.30,342.90H670.80" stroke="#28285a" stroke-width="1.8"/>
<path d="M59.30,342.90h18.50M59.30,338.99h9.20M59.30,335.08h9.20M59.30,331.17h9.20M59.30,327.26h9.20M59.30,323.35h18.50M59.30,319.44h9.20M59.30,315.53h9.20M59.30,311.62h9.20M59.30,307.71h9.20M59.30,303.80h18.50M59.30,299.89h9.20M59.30,295.98h9.20M59.30,292.07h9.20M59.30,288.16h9.20M59.30,284.25h18.50M59.30,280.34h9.20M59.30,276.43h9.20M59.30,272.52h9.20M59.30,268.61h9.20M59.30,264.70h18.50M59.30,260.79h9.20M59.30,256.88h9.20M59.30,252.97h9.20M59.30,249.06h9.20M59.30,245.15h18.50M59.30,241.24h9.20M59.30,237.33h9.20M59.30,233.42h9.20M59.30,229.51h9.20M59.30,225.60h18.50M59.30,221.69h9.20M59.30,217.78h9.20M59.30,213.87h9.20M59.30,209.96h9.20M59.30,206.05h18.50M59.30,202.14h9.20M59.30,198.23h9.20M59.30,194.32h9.20M59.30,190.41h9.20M59.30,186.50h18.50M59.30,182.59h9.20" stroke="#0a0a0a" stroke-width="1.1" fill="none"/>
<text x="54.6" y="348.00" text-anchor="end" font-size="12.3">0</text>
<text x="54.6" y="328.45" text-anchor="end" font-size="12.3">5000</text>
<text x="54.6" y="308.90" text-anchor="end" font-size="12.3">10000</text>
<text x="54.6" y="289.35" text-anchor="end" font-size="12.3">15000</text>
<text x="54.6" y="269.80" text-anchor="end" font-size="12.3">20000</text>
<text x="54.6" y="250.25" text-anchor="end" font-size="12.3">25000</text>
<text x="54.6" y="230.70" text-anchor="end" font-size="12.3">30000</text>
<text x="54.6" y="211.15" text-anchor="end" font-size="12.3">35000</text>
<text x="54.6" y="191.60" text-anchor="end" font-size="12.3">40000</text>
<path d="M75.60,342.90v-4.30M92.13,342.90v-2.20M108.66,342.90v-2.20M125.18,342.90v-2.20M141.71,342.90v-4.30M158.24,342.90v-2.20M174.77,342.90v-2.20M191.29,342.90v-2.20M207.82,342.90v-4.30M224.35,342.90v-2.20M240.88,342.90v-2.20M257.41,342.90v-2.20M273.93,342.90v-4.30M290.46,342.90v-2.20M306.99,342.90v-2.20M323.52,342.90v-2.20M340.04,342.90v-4.30M356.57,342.90v-2.20M373.10,342.90v-2.20M389.63,342.90v-2.20M406.16,342.90v-4.30M422.68,342.90v-2.20M439.21,342.90v-2.20M455.74,342.90v-2.20M472.27,342.90v-4.30M488.79,342.90v-2.20M505.32,342.90v-2.20M521.85,342.90v-2.20M538.38,342.90v-4.30M554.91,342.90v-2.20M571.43,342.90v-2.20M587.96,342.90v-2.20M604.49,342.90v-4.30M621.02,342.90v-2.20M637.54,342.90v-2.20M654.07,342.90v-2.20" stroke="#0a0a0a" stroke-width="1.1" fill="none"/>
<text x="75.40" y="355.20" text-anchor="middle" font-size="12.3">1000</text>
<text x="141.51" y="355.20" text-anchor="middle" font-size="12.3">1200</text>
<text x="207.62" y="355.20" text-anchor="middle" font-size="12.3">1400</text>
<text x="273.73" y="355.20" text-anchor="middle" font-size="12.3">1600</text>
<text x="339.84" y="355.20" text-anchor="middle" font-size="12.3">1800</text>
<text x="405.96" y="355.20" text-anchor="middle" font-size="12.3">2000</text>
<text x="472.07" y="355.20" text-anchor="middle" font-size="12.3">2200</text>
<text x="538.18" y="355.20" text-anchor="middle" font-size="12.3">2400</text>
<text x="604.29" y="355.20" text-anchor="middle" font-size="12.3">2600</text>
<text x="670.40" y="355.20" text-anchor="middle" font-size="12.3">2800</text>
<text transform="translate(12.2,242.60) rotate(-90)" text-anchor="middle" font-size="14" font-weight="bold">Counts</text>
<text x="134.40" y="12.10" font-size="11.00" font-weight="bold" text-anchor="start">1173.2</text>
<text x="144.30" y="19.50" font-size="5.70" font-weight="bold">60</text>
<text x="150.90" y="24.10" font-size="9.20" font-weight="bold">Co</text>
<text x="187.60" y="15.30" font-size="11.00" font-weight="bold" text-anchor="start">1332.5</text>
<text x="196.60" y="23.10" font-size="5.70" font-weight="bold">60</text>
<text x="203.20" y="27.70" font-size="9.20" font-weight="bold">Co</text>
<text x="229.80" y="106.80" font-size="11.00" font-weight="bold" text-anchor="start">1460.8</text>
<text x="229.90" y="116.90" font-size="9.20" font-weight="bold" text-anchor="start">Background</text>
<text x="664.60" y="15.90" font-size="11.00" font-weight="bold" text-anchor="end">(a) Direct mode</text>
<text x="134.60" y="190.60" font-size="11.00" font-weight="bold" text-anchor="start">1173.2</text>
<text x="140.60" y="198.20" font-size="5.70" font-weight="bold">60</text>
<text x="147.20" y="202.80" font-size="9.20" font-weight="bold">Co</text>
<text x="187.20" y="211.30" font-size="11.00" font-weight="bold" text-anchor="start">1332.5</text>
<text x="197.00" y="220.10" font-size="5.70" font-weight="bold">60</text>
<text x="203.60" y="224.70" font-size="9.20" font-weight="bold">Co</text>
<text x="229.90" y="289.30" font-size="11.00" font-weight="bold" text-anchor="start">1460.8</text>
<text x="230.50" y="299.30" font-size="9.20" font-weight="bold" text-anchor="start">Background</text>
<text x="664.80" y="193.90" font-size="11.00" font-weight="bold" text-anchor="end">(b) Add-back mode</text>
<text x="371.2" y="367.4" text-anchor="middle" font-size="14.1" font-weight="bold">Energy (keV)</text>
<clipPath id="clip0"><rect x="328.50" y="31.20" width="300.00" height="93.70"/></clipPath>
<rect x="328.50" y="31.20" width="300.00" height="93.70" fill="#fff"/>
<path d="M328.80,80.50H330.00V81.30H331.20L332.00,82.50H332.80V80.50H333.60H334.80V81.30H336.00H336.65V83.70H337.30H337.90V84.90H338.50H339.50V86.10H340.50H341.30V83.70H342.10H343.10V82.90H344.10H344.70V84.50H345.30H346.15V80.50H347.00H347.60V83.30H348.20H349.00V82.10H349.80H351.00V82.90H352.20H352.80V84.90H353.40H354.00V82.10H354.60H355.40V80.50H356.20L357.00,80.50L357.20,89.00L357.80,89.00L358.00,82.10H359.95V83.70H361.90H362.70V82.50H363.50H364.30V84.90H365.10H365.90V81.30H366.70H367.50V82.50H368.30H369.10V85.30H369.90H371.15V85.70H372.40H373.40V82.90H374.40H375.40V82.90H376.40H377.00V86.90H377.60L378.20,84.90H379.00V90.20H379.80H380.40V87.30H381.00H381.65V86.10H382.30H383.50V84.10H384.70H385.90V86.10H387.10H388.10V88.10H389.10H390.10V87.30H391.10H392.30V86.10H393.50H394.15V86.90H394.80H395.80V84.90H396.80H398.00V88.10H399.20H400.00V86.90H400.80H402.00V88.10H403.20H404.20V93.00H405.20H405.85V84.90H406.50H407.30V82.90H408.10H408.70V81.30H409.30H409.90V80.10H410.50L411.30,86.10H412.10V86.50H412.90H413.70V87.30H414.50L414.70,93.40L415.20,93.40L415.40,87.30L416.10,87.30H416.65V87.30H417.20L417.50,110.20L418.20,110.20L418.40,90.20L418.50,90.20H419.15V93.40H419.80H420.60V92.60H421.40H422.30V91.90H423.20H424.20V95.60H425.20H426.05V89.50H426.90H427.50V91.90H428.10H429.30V92.30H430.50H431.70V95.60H432.90H433.70V91.90H434.50H435.70V95.60H436.90H437.95V92.70H439.00H439.80V92.30H440.60H441.40V89.50H442.20H443.00V91.90H443.80L444.60,96.40H445.20V98.40H445.80H446.60V100.50H447.40L447.60,106.10L448.30,106.10L448.50,100.00H449.55V96.00H450.60H451.45V93.50H452.30H453.30V92.70H454.30H454.90V96.40H455.50H456.30V95.60H457.10H457.90V94.80H458.70H459.30V100.40H459.90H460.70V90.70H461.50H462.10V94.40H462.70H463.55V100.40H464.40L465.00,99.40H465.60V96.10H466.20H466.80V93.70H467.40H468.00V94.10H468.60L468.90,110.20L469.60,110.20L469.90,94.50H470.70V89.70H471.50H472.30V89.70H473.10L473.90,95.30L474.70,95.30L474.90,103.20L475.50,103.20L475.70,96.90H476.80V93.30H477.90H478.90V92.90H479.90L480.70,92.90L480.90,106.10L481.50,106.10L481.70,96.10H482.85V93.70H484.00H485.00V95.30H486.00L486.80,96.90H487.80V97.30H488.80H489.40V100.20H490.00H490.60V94.10H491.20H492.00V94.50H492.80H493.60V96.50H494.40H495.20V94.10H496.00H496.65V96.90H497.30H498.10V93.30H498.90H499.70V89.70H500.50H501.10V92.90H501.70L502.50,97.30H503.10V100.20H503.70H504.50V98.50H505.30H506.50V96.10H507.70H508.55V100.20H509.40H510.40V99.40H511.40H512.30V100.20H513.20H513.80V97.30H514.40H515.20V98.50H516.00L516.90,93.70H517.90V93.70H518.90L519.70,96.50H520.30V93.70H520.90H521.50V98.50H522.10H522.70V93.70H523.30H523.90V96.10H524.50H525.30V94.90H526.10H526.90V98.50H527.70H528.55V92.50H529.40H530.00V100.20H530.60H531.40V103.40H532.20H532.80V97.30H533.40H534.60V95.30H535.80H536.80V95.30H537.80H538.80V92.50H539.80H540.85V93.30H541.90H543.10V92.50H544.30H544.80V92.50H545.30L545.90,100.60H546.50V95.30H547.10H547.70V90.50H548.30H549.30V88.50H550.30H551.10V94.10H551.90H552.70V90.50H553.50H554.15V98.50H554.80H555.40V94.90H556.00H556.80V96.10H557.60H558.40V99.40H559.20H559.90V99.70H560.60H561.85V94.80H563.10L563.90,98.10L564.70,90.80L567.10,90.00L567.90,80.30L569.50,80.30L569.50,63.30L571.10,63.30L571.10,48.80L572.20,48.80L572.20,40.20L573.80,38.10L574.90,38.10L575.40,40.20L576.00,43.40L577.00,43.40L577.60,56.30L578.40,56.30L578.60,73.90L580.00,74.70L580.00,94.80L582.40,95.60L583.70,98.90L584.80,106.00L587.40,106.00L587.90,117.60L588.90,117.60L589.40,99.20L590.30,99.20L590.80,126.00L591.80,126.00L592.30,103.60L593.20,103.60L593.70,110.30L599.50,110.30L600.00,117.60L601.00,117.60L601.50,110.30L603.90,110.30L604.40,103.60L605.30,103.60L605.80,117.60L606.80,117.60L607.30,126.00L609.70,126.00L610.20,103.60L611.10,103.60L612.10,117.60L613.60,117.60L614.00,126.00L618.90,126.00L619.40,117.60L620.80,117.60L621.80,106.50L623.20,106.50L623.70,118.10L624.70,118.10L625.70,110.30L627.10,110.30L627.60,126.00" fill="none" stroke="#3434b6" stroke-width="1.3" stroke-linejoin="miter" clip-path="url(#clip0)"/>
<rect x="328.50" y="31.20" width="300.00" height="93.70" fill="none" stroke="#0a0a0a" stroke-width="1.2"/>
<path d="M328.50,123.25h4.50M328.50,121.64h4.50M328.50,120.24h4.50M328.50,119.00h4.50M328.50,117.90h9.00M328.50,110.64h4.50M328.50,106.39h4.50M328.50,103.37h4.50M328.50,101.03h4.50M328.50,99.12h4.50M328.50,97.51h4.50M328.50,96.11h4.50M328.50,94.87h4.50M328.50,93.77h9.00M328.50,86.51h4.50M328.50,82.26h4.50M328.50,79.24h4.50M328.50,76.90h4.50M328.50,74.99h4.50M328.50,73.38h4.50M328.50,71.98h4.50M328.50,70.74h4.50M328.50,69.64h9.00M328.50,62.38h4.50M328.50,58.13h4.50M328.50,55.11h4.50M328.50,52.77h4.50M328.50,50.86h4.50M328.50,49.25h4.50M328.50,47.85h4.50M328.50,46.61h4.50M328.50,45.51h9.00M328.50,38.25h4.50M328.50,34.00h4.50" stroke="#000" stroke-width="1.0" fill="none"/>
<text x="323.90" y="121.50" text-anchor="end" font-size="9.6">1</text>
<text x="323.90" y="97.37" text-anchor="end" font-size="9.6">10</text>
<text x="319.90" y="73.64" text-anchor="end" font-size="9.6">10</text>
<text x="320.00" y="70.14" font-size="6.4">2</text>
<text x="319.90" y="49.51" text-anchor="end" font-size="9.6">10</text>
<text x="320.00" y="46.01" font-size="6.4">3</text>
<path d="M334.96,124.90v-1.60M342.50,124.90v-3.00M350.04,124.90v-1.60M357.57,124.90v-1.60M365.11,124.90v-1.60M372.65,124.90v-3.00M380.19,124.90v-1.60M387.73,124.90v-1.60M395.26,124.90v-1.60M402.80,124.90v-3.00M410.34,124.90v-1.60M417.88,124.90v-1.60M425.41,124.90v-1.60M432.95,124.90v-3.00M440.49,124.90v-1.60M448.02,124.90v-1.60M455.56,124.90v-1.60M463.10,124.90v-3.00M470.64,124.90v-1.60M478.18,124.90v-1.60M485.71,124.90v-1.60M493.25,124.90v-3.00M500.79,124.90v-1.60M508.33,124.90v-1.60M515.86,124.90v-1.60M523.40,124.90v-3.00M530.94,124.90v-1.60M538.48,124.90v-1.60M546.01,124.90v-1.60M553.55,124.90v-3.00M561.09,124.90v-1.60M568.62,124.90v-1.60M576.16,124.90v-1.60M583.70,124.90v-3.00M591.24,124.90v-1.60M598.78,124.90v-1.60M606.31,124.90v-1.60M613.85,124.90v-3.00M621.39,124.90v-1.60" stroke="#0a0a0a" stroke-width="0.9" fill="none"/>
<text x="342.10" y="133.90" text-anchor="middle" font-size="9.6">2460</text>
<text x="372.25" y="133.90" text-anchor="middle" font-size="9.6">2480</text>
<text x="402.40" y="133.90" text-anchor="middle" font-size="9.6">2500</text>
<text x="432.55" y="133.90" text-anchor="middle" font-size="9.6">2520</text>
<text x="462.70" y="133.90" text-anchor="middle" font-size="9.6">2540</text>
<text x="492.85" y="133.90" text-anchor="middle" font-size="9.6">2560</text>
<text x="523.00" y="133.90" text-anchor="middle" font-size="9.6">2580</text>
<text x="553.15" y="133.90" text-anchor="middle" font-size="9.6">2600</text>
<text x="583.30" y="133.90" text-anchor="middle" font-size="9.6">2620</text>
<text x="613.45" y="133.90" text-anchor="middle" font-size="9.6">2640</text>
<clipPath id="clip1"><rect x="325.60" y="208.60" width="300.00" height="93.70"/></clipPath>
<rect x="325.60" y="208.60" width="300.00" height="93.70" fill="#fff"/>
<path d="M325.90,256.50L326.20,257.30H326.80V258.90H327.40H328.20V259.70H329.00H329.80V261.70H330.60L331.50,258.10H332.30V258.10H333.10H333.70V258.90H334.30H335.10V260.10H335.90H336.50V260.90H337.10H337.70V260.50H338.30H339.10V262.90H339.90H340.50V260.10H341.10H341.70V262.50H342.30L343.10,262.50L344.00,257.70H344.80V257.70H345.60H346.20V258.90H346.80L347.60,261.30L348.40,261.30L349.20,258.90H350.00V258.10H350.80H352.40V258.10H354.00L354.80,263.30H355.65V264.90H356.50H357.10V263.30H357.70L358.50,258.90H359.10V258.90H359.70L360.50,261.70H361.10V261.70H361.70L362.50,260.50H364.30V260.50H366.10L366.90,259.70H367.70V261.70H368.50H369.35V263.70H370.20H371.00V261.70H371.80H372.40V260.50H373.00H373.70V262.20H374.40H375.90V261.00H377.40H378.65V261.00H379.90L380.50,266.50H381.10V263.50H381.70H382.90V263.50H384.10H385.00V265.30H385.90H386.50V265.90H387.10H388.00V261.60H388.90H389.85V262.20H390.80H391.40V264.70H392.00H392.90V264.10H393.80L394.40,268.90H395.00V265.30H395.60H396.20V267.10H396.80H397.40V264.10H398.00H398.90V261.00H399.80H400.45V258.60H401.10H401.70V256.20H402.30H403.00V254.40H403.70L404.10,250.10H404.70V248.30H405.30H405.90V246.50H406.50H407.10V248.30H407.70H408.30V250.10H408.90H409.50V250.70H410.10L410.70,258.00H411.30V258.60H411.90L412.60,264.10H413.20V271.90H413.80H414.40V262.80H415.00H415.60V265.30H416.20H416.80V270.10H417.40L418.00,269.90H418.80V272.60H419.60H420.40V266.70H421.20H422.00V268.30H422.80H423.65V269.40H424.50H425.55V268.30H426.60H427.70V267.20H428.80H429.60V266.70H430.40L431.10,266.70L431.20,281.20L431.80,281.20L431.90,271.50H432.50V271.50H433.10H433.90V265.10H434.70H435.50V266.10H436.30H437.10V268.30H437.90H438.70V265.10H439.50H440.30V268.30H441.10H441.90V270.40H442.70H443.80V272.00H444.90H445.70V275.30H446.50H447.05V271.00H447.60H448.65V271.50H449.70H450.50V269.40H451.30H452.40V269.40H453.50H454.05V271.00H454.60H455.65V269.90H456.70H457.50V270.40H458.30H459.40V267.20H460.50H461.55V268.30H462.60H463.40V268.80H464.20H464.80V268.80H465.40L465.60,279.00L466.10,279.00L466.30,269.50H468.35V269.50H470.40H471.05V270.80H471.70H472.70V276.90H473.70H474.40V270.80H475.10H476.10V269.50H477.10H477.75V266.80H478.40H479.10V272.20H479.80H480.45V267.50H481.10H483.15V269.50H485.20H486.85V270.80H488.50H489.50V274.20H490.50H491.20V267.50H491.90H493.55V272.20H495.20H495.90V267.50H496.60H498.60V268.80H500.60H501.60V275.50H502.60H503.65V269.50H504.70H506.35V269.50H508.00H509.00V275.50H510.00H510.65V270.80H511.30H513.35V270.20H515.40H516.40V274.20H517.40H518.05V267.50H518.70H519.75V269.50H520.80H521.80V266.10H522.80H523.80V269.50H524.80H526.15V266.80H527.50H528.40V269.50H529.30L529.50,295.00L530.20,295.00L530.40,270.20H530.95V270.20H531.50H532.85V269.50H534.20H535.55V267.50H536.90H538.25V267.50H539.60H541.25V264.80H542.90H543.90V266.80H544.90H545.95V264.10H547.00H548.00V260.10H549.00H549.65V263.40H550.30H551.65V264.80H553.00H554.35V265.50H555.70H557.10V266.20H558.50H559.80V266.50H561.10H561.70V262.70H562.30L563.40,262.70L563.70,257.40L565.10,257.40L565.50,250.50L566.40,250.50L566.90,245.20L567.60,245.20L568.10,230.30L569.30,230.30L569.90,221.60L570.70,221.60L571.10,216.40L572.50,215.50L573.90,215.50L574.60,219.90L575.10,222.50L576.00,222.50L576.30,233.00L577.40,233.00L577.70,247.00L578.60,247.00L578.60,260.40L580.10,260.40L580.40,270.50L583.10,271.10L583.70,287.90L584.40,283.90L585.10,287.90L585.80,283.90L586.40,287.90L589.10,287.90L589.50,281.20L592.20,281.20L592.50,287.90L596.50,287.90L596.90,283.90L598.50,283.90L598.90,287.90L599.90,295.30L601.20,284.60L602.60,295.30L603.20,295.30L603.90,303.50L608.60,303.50L608.90,295.30L610.20,295.30L610.60,287.90L611.60,287.90L612.40,295.30L613.30,303.50L614.00,295.30L615.30,295.30L616.00,303.50L619.40,303.50L619.60,287.90L621.00,287.90L621.40,295.30L622.30,295.30L622.70,303.50L625.30,303.50" fill="none" stroke="#3434b6" stroke-width="1.3" stroke-linejoin="miter" clip-path="url(#clip1)"/>
<rect x="325.60" y="208.60" width="300.00" height="93.70" fill="none" stroke="#0a0a0a" stroke-width="1.2"/>
<path d="M325.60,300.48h4.50M325.60,298.91h4.50M325.60,297.56h4.50M325.60,296.37h4.50M325.60,295.30h9.00M325.60,288.28h4.50M325.60,284.17h4.50M325.60,281.25h4.50M325.60,278.99h4.50M325.60,277.15h4.50M325.60,275.58h4.50M325.60,274.23h4.50M325.60,273.04h4.50M325.60,271.97h9.00M325.60,264.95h4.50M325.60,260.84h4.50M325.60,257.92h4.50M325.60,255.66h4.50M325.60,253.82h4.50M325.60,252.25h4.50M325.60,250.90h4.50M325.60,249.71h4.50M325.60,248.64h9.00M325.60,241.62h4.50M325.60,237.51h4.50M325.60,234.59h4.50M325.60,232.33h4.50M325.60,230.49h4.50M325.60,228.92h4.50M325.60,227.57h4.50M325.60,226.38h4.50M325.60,225.31h9.00M325.60,218.29h4.50M325.60,214.18h4.50M325.60,211.26h4.50M325.60,209.00h4.50" stroke="#000" stroke-width="1.0" fill="none"/>
<text x="321.00" y="298.90" text-anchor="end" font-size="9.6">1</text>
<text x="321.00" y="275.57" text-anchor="end" font-size="9.6">10</text>
<text x="317.00" y="252.64" text-anchor="end" font-size="9.6">10</text>
<text x="317.10" y="249.14" font-size="6.4">2</text>
<text x="317.00" y="229.31" text-anchor="end" font-size="9.6">10</text>
<text x="317.10" y="225.81" font-size="6.4">3</text>
<path d="M332.16,302.30v-1.60M339.70,302.30v-3.00M347.24,302.30v-1.60M354.77,302.30v-1.60M362.31,302.30v-1.60M369.85,302.30v-3.00M377.39,302.30v-1.60M384.93,302.30v-1.60M392.46,302.30v-1.60M400.00,302.30v-3.00M407.54,302.30v-1.60M415.07,302.30v-1.60M422.61,302.30v-1.60M430.15,302.30v-3.00M437.69,302.30v-1.60M445.23,302.30v-1.60M452.76,302.30v-1.60M460.30,302.30v-3.00M467.84,302.30v-1.60M475.38,302.30v-1.60M482.91,302.30v-1.60M490.45,302.30v-3.00M497.99,302.30v-1.60M505.52,302.30v-1.60M513.06,302.30v-1.60M520.60,302.30v-3.00M528.14,302.30v-1.60M535.67,302.30v-1.60M543.21,302.30v-1.60M550.75,302.30v-3.00M558.29,302.30v-1.60M565.83,302.30v-1.60M573.36,302.30v-1.60M580.90,302.30v-3.00M588.44,302.30v-1.60M595.98,302.30v-1.60M603.51,302.30v-1.60M611.05,302.30v-3.00M618.59,302.30v-1.60" stroke="#0a0a0a" stroke-width="0.9" fill="none"/>
<text x="339.30" y="311.30" text-anchor="middle" font-size="9.6">2460</text>
<text x="369.45" y="311.30" text-anchor="middle" font-size="9.6">2480</text>
<text x="399.60" y="311.30" text-anchor="middle" font-size="9.6">2500</text>
<text x="429.75" y="311.30" text-anchor="middle" font-size="9.6">2520</text>
<text x="459.90" y="311.30" text-anchor="middle" font-size="9.6">2540</text>
<text x="490.05" y="311.30" text-anchor="middle" font-size="9.6">2560</text>
<text x="520.20" y="311.30" text-anchor="middle" font-size="9.6">2580</text>
<text x="550.35" y="311.30" text-anchor="middle" font-size="9.6">2600</text>
<text x="580.50" y="311.30" text-anchor="middle" font-size="9.6">2620</text>
<text x="610.65" y="311.30" text-anchor="middle" font-size="9.6">2640</text>
<text x="405.30" y="52.50" font-size="10.8" font-weight="bold">Sum peak of <tspan font-size="7.1" dx="2.9" dy="-4.5">60</tspan><tspan dy="4.5">Co FEPs</tspan></text>
<path d="M408.40,54.60V79.00M402.10,73.70L408.40,79.00L414.70,73.70" fill="none" stroke="#0a0a0a" stroke-width="1.0"/>
<text x="415.20" y="82.20" font-size="10.60" font-weight="bold" text-anchor="start">2505.7</text>
<text x="578.10" y="41.90" font-size="10.80" font-weight="bold" text-anchor="start">2614.5</text>
<text x="579.90" y="51.40" font-size="7.90" font-weight="bold" text-anchor="start">Background</text>
<text x="402.00" y="222.50" font-size="10.8" font-weight="bold">Sum peak of <tspan font-size="7.1" dx="2.3" dy="-4.5">60</tspan><tspan dy="4.5">Co FEPs</tspan></text>
<path d="M404.60,224.30V245.00M398.30,239.70L404.60,245.00L410.90,239.70" fill="none" stroke="#0a0a0a" stroke-width="1.0"/>
<text x="411.50" y="250.30" font-size="10.60" font-weight="bold" text-anchor="start">2505.7</text>
<text x="576.60" y="218.20" font-size="10.80" font-weight="bold" text-anchor="start">2614.5</text>
<text x="577.70" y="227.60" font-size="7.90" font-weight="bold" text-anchor="start">Background</text>
</svg></body></html>
